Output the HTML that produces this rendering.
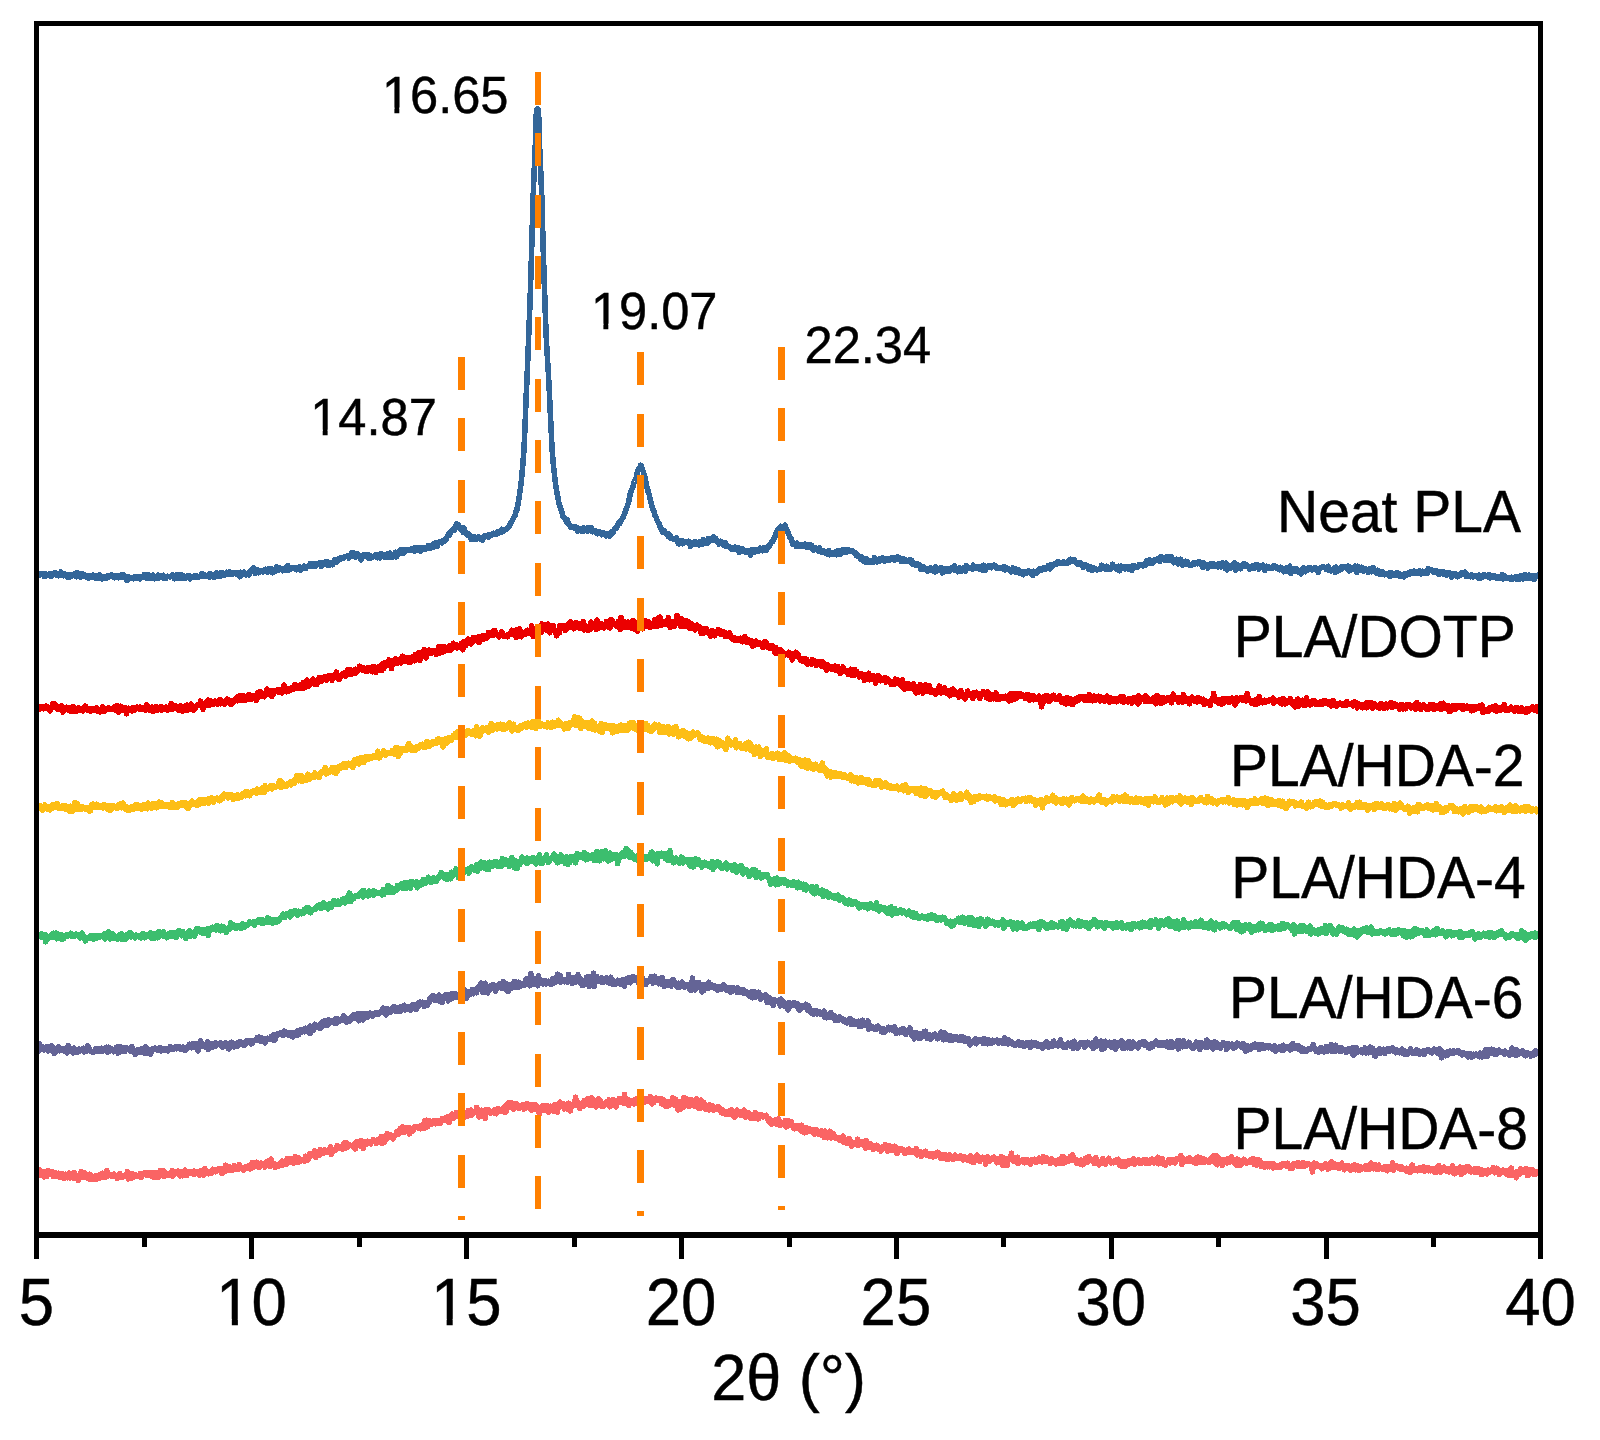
<!DOCTYPE html>
<html><head><meta charset="utf-8"><title>XRD patterns</title>
<style>
html,body{margin:0;padding:0;background:#fff;}
body{width:1600px;height:1440px;overflow:hidden;}
svg{display:block;}
svg text{font-family:"Liberation Sans",Arial,Helvetica,sans-serif;fill:#000;stroke:#000;stroke-width:0.45px;}
</style></head><body>
<svg width="1600" height="1440" viewBox="0 0 1600 1440">
<rect x="0" y="0" width="1600" height="1440" fill="#fff"/>
<g id="curves" shape-rendering="crispEdges">
<path d="M38.5,574.8 L39.4,575.2 L40.2,574.5 L41.1,573.7 L41.9,574.3 L42.8,573.6 L43.7,575.0 L44.5,576.6 L45.4,574.2 L46.2,574.1 L47.1,575.6 L48.0,575.5 L48.8,575.3 L49.7,574.1 L50.5,575.4 L51.4,576.5 L52.3,573.8 L53.1,575.0 L54.0,573.2 L54.8,573.9 L55.7,573.2 L56.6,575.2 L57.4,573.8 L58.3,575.7 L59.1,575.5 L60.0,575.1 L60.9,572.0 L61.7,574.7 L62.6,575.4 L63.4,575.7 L64.3,573.6 L65.2,575.1 L66.0,574.5 L66.9,574.8 L67.7,577.2 L68.6,574.8 L69.5,575.7 L70.3,576.9 L71.2,574.8 L72.0,575.3 L72.9,575.5 L73.8,575.3 L74.6,573.5 L75.5,575.1 L76.3,576.7 L77.2,572.8 L78.1,575.9 L78.9,574.9 L79.8,574.0 L80.6,577.5 L81.5,576.0 L82.4,573.5 L83.2,575.3 L84.1,576.1 L84.9,575.3 L85.8,576.6 L86.7,575.8 L87.5,576.9 L88.4,578.0 L89.2,575.5 L90.1,576.7 L91.0,576.0 L91.8,576.8 L92.7,575.2 L93.5,576.1 L94.4,576.6 L95.3,578.1 L96.1,578.5 L97.0,575.4 L97.8,576.1 L98.7,578.0 L99.6,574.7 L100.4,576.6 L101.3,577.1 L102.1,578.8 L103.0,578.0 L103.9,576.6 L104.7,576.4 L105.6,576.5 L106.4,578.6 L107.3,576.0 L108.2,576.1 L109.0,576.8 L109.9,576.1 L110.7,575.9 L111.6,574.7 L112.5,576.1 L113.3,575.6 L114.2,577.7 L115.0,577.0 L115.9,576.2 L116.8,577.1 L117.6,575.8 L118.5,577.7 L119.3,576.4 L120.2,577.3 L121.1,575.0 L121.9,577.3 L122.8,574.9 L123.6,574.6 L124.5,577.0 L125.4,576.3 L126.2,577.8 L127.1,580.6 L127.9,576.7 L128.8,577.0 L129.7,578.1 L130.5,578.6 L131.4,577.7 L132.2,577.7 L133.1,578.8 L134.0,578.6 L134.8,576.6 L135.7,577.8 L136.5,577.9 L137.4,576.4 L138.3,578.1 L139.1,576.6 L140.0,578.9 L140.8,577.8 L141.7,577.6 L142.6,576.7 L143.4,577.2 L144.3,574.7 L145.1,575.8 L146.0,577.7 L146.9,574.5 L147.7,578.4 L148.6,575.1 L149.4,578.4 L150.3,576.3 L151.2,578.4 L152.0,577.5 L152.9,575.2 L153.7,578.7 L154.6,578.8 L155.5,576.8 L156.3,576.4 L157.2,576.4 L158.0,575.3 L158.9,578.0 L159.8,575.9 L160.6,576.6 L161.5,575.7 L162.3,576.1 L163.2,575.4 L164.1,578.7 L164.9,577.0 L165.8,578.5 L166.6,577.2 L167.5,576.3 L168.4,576.7 L169.2,576.3 L170.1,577.0 L170.9,576.4 L171.8,576.4 L172.7,574.9 L173.5,575.6 L174.4,578.7 L175.2,575.6 L176.1,575.1 L177.0,576.9 L177.8,578.4 L178.7,574.8 L179.5,576.5 L180.4,576.1 L181.3,574.8 L182.1,578.2 L183.0,577.3 L183.8,577.5 L184.7,576.4 L185.6,578.0 L186.4,576.7 L187.3,577.1 L188.1,575.8 L189.0,575.6 L189.9,578.9 L190.7,576.4 L191.6,577.3 L192.4,576.8 L193.3,576.2 L194.2,576.0 L195.0,577.3 L195.9,576.0 L196.7,576.0 L197.6,576.1 L198.5,577.4 L199.3,576.6 L200.2,576.1 L201.0,574.8 L201.9,573.6 L202.8,576.6 L203.6,576.6 L204.5,575.1 L205.3,576.0 L206.2,576.3 L207.1,576.4 L207.9,576.4 L208.8,574.6 L209.6,577.1 L210.5,573.5 L211.4,576.2 L212.2,575.7 L213.1,576.2 L213.9,577.5 L214.8,577.0 L215.7,573.6 L216.5,572.9 L217.4,576.2 L218.2,573.8 L219.1,575.1 L220.0,576.3 L220.8,573.0 L221.7,572.4 L222.5,575.4 L223.4,575.1 L224.3,574.6 L225.1,574.8 L226.0,573.4 L226.8,572.4 L227.7,573.9 L228.6,572.7 L229.4,571.6 L230.3,574.4 L231.1,573.6 L232.0,574.2 L232.9,572.4 L233.7,572.9 L234.6,572.6 L235.4,572.8 L236.3,574.3 L237.2,573.1 L238.0,574.6 L238.9,574.6 L239.7,576.8 L240.6,572.3 L241.5,575.3 L242.3,574.0 L243.2,574.1 L244.0,572.2 L244.9,573.4 L245.8,574.9 L246.6,573.7 L247.5,573.7 L248.3,573.1 L249.2,574.8 L250.1,573.0 L250.9,570.0 L251.8,571.7 L252.6,569.9 L253.5,568.0 L254.4,571.3 L255.2,573.5 L256.1,571.7 L256.9,570.0 L257.8,570.2 L258.7,572.8 L259.5,571.4 L260.4,571.2 L261.2,571.0 L262.1,571.0 L263.0,571.9 L263.8,571.5 L264.7,571.0 L265.5,569.3 L266.4,571.3 L267.3,569.7 L268.1,572.1 L269.0,568.9 L269.8,570.4 L270.7,570.6 L271.6,568.8 L272.4,572.8 L273.3,572.4 L274.1,569.8 L275.0,571.4 L275.9,570.8 L276.7,566.8 L277.6,570.5 L278.4,569.9 L279.3,570.0 L280.2,568.2 L281.0,569.1 L281.9,569.0 L282.7,570.7 L283.6,569.3 L284.5,568.7 L285.3,570.6 L286.2,567.6 L287.0,567.7 L287.9,565.7 L288.8,570.2 L289.6,569.4 L290.5,569.3 L291.3,568.9 L292.2,568.1 L293.1,568.2 L293.9,567.5 L294.8,567.5 L295.6,567.8 L296.5,569.7 L297.4,568.4 L298.2,567.7 L299.1,567.0 L299.9,567.0 L300.8,570.0 L301.7,568.6 L302.5,567.9 L303.4,567.2 L304.2,566.0 L305.1,567.2 L306.0,568.2 L306.8,566.3 L307.7,566.2 L308.5,566.0 L309.4,566.2 L310.3,563.7 L311.1,565.3 L312.0,564.3 L312.8,566.4 L313.7,563.9 L314.6,565.5 L315.4,566.5 L316.3,563.9 L317.1,563.4 L318.0,564.3 L318.9,564.0 L319.7,562.6 L320.6,564.5 L321.4,566.6 L322.3,563.5 L323.2,563.6 L324.0,562.4 L324.9,564.2 L325.7,562.0 L326.6,562.1 L327.5,565.2 L328.3,562.2 L329.2,564.6 L330.0,565.0 L330.9,563.1 L331.8,563.2 L332.6,564.6 L333.5,561.6 L334.3,560.7 L335.2,559.4 L336.1,560.6 L336.9,561.9 L337.8,561.0 L338.6,558.4 L339.5,558.2 L340.4,558.3 L341.2,559.0 L342.1,558.2 L342.9,558.4 L343.8,558.1 L344.7,557.0 L345.5,556.8 L346.4,556.7 L347.2,555.9 L348.1,556.3 L349.0,558.0 L349.8,556.2 L350.7,555.3 L351.5,552.8 L352.4,555.9 L353.3,552.8 L354.1,553.7 L355.0,557.0 L355.8,557.0 L356.7,555.9 L357.6,553.9 L358.4,555.9 L359.3,555.5 L360.1,557.5 L361.0,559.9 L361.9,556.9 L362.7,555.3 L363.6,554.6 L364.4,556.3 L365.3,556.1 L366.2,554.6 L367.0,556.5 L367.9,554.7 L368.7,558.2 L369.6,558.2 L370.5,558.3 L371.3,556.0 L372.2,557.6 L373.0,556.6 L373.9,556.2 L374.8,556.3 L375.6,554.8 L376.5,554.5 L377.3,557.8 L378.2,556.2 L379.1,556.7 L379.9,557.8 L380.8,553.6 L381.6,554.9 L382.5,556.2 L383.4,556.4 L384.2,555.3 L385.1,557.3 L385.9,556.1 L386.8,554.1 L387.7,554.5 L388.5,557.0 L389.4,556.4 L390.2,553.0 L391.1,557.4 L392.0,556.1 L392.8,556.8 L393.7,554.1 L394.5,553.8 L395.4,552.3 L396.3,557.0 L397.1,552.9 L398.0,555.0 L398.8,551.6 L399.7,552.5 L400.6,549.8 L401.4,551.5 L402.3,553.2 L403.1,550.0 L404.0,553.1 L404.9,551.8 L405.7,549.7 L406.6,550.3 L407.4,550.2 L408.3,550.6 L409.2,549.8 L410.0,549.3 L410.9,550.0 L411.7,548.9 L412.6,548.4 L413.5,550.1 L414.3,551.3 L415.2,547.7 L416.0,549.7 L416.9,548.6 L417.8,547.9 L418.6,550.4 L419.5,548.3 L420.3,551.1 L421.2,547.8 L422.1,549.3 L422.9,548.4 L423.8,547.5 L424.6,549.2 L425.5,547.9 L426.4,548.7 L427.2,547.6 L428.1,545.9 L428.9,547.1 L429.8,547.1 L430.7,548.2 L431.5,545.5 L432.4,546.5 L433.2,544.1 L434.1,546.9 L435.0,544.4 L435.8,543.1 L436.7,544.9 L437.5,546.0 L438.4,542.3 L439.3,542.4 L440.1,542.4 L441.0,541.5 L441.8,542.8 L442.7,540.9 L443.6,540.5 L444.4,541.4 L445.3,539.3 L446.1,539.5 L447.0,537.1 L447.9,535.5 L448.7,533.5 L449.6,535.3 L450.4,532.1 L451.3,531.7 L452.2,530.4 L453.0,529.6 L453.9,528.5 L454.7,529.9 L455.6,525.6 L456.5,524.1 L457.3,524.7 L458.2,524.8 L459.0,528.0 L459.9,528.7 L460.8,527.3 L461.6,527.6 L462.5,529.5 L463.3,532.2 L464.2,528.1 L465.1,532.7 L465.9,531.8 L466.8,534.9 L467.6,533.5 L468.5,535.2 L469.4,534.7 L470.2,536.1 L471.1,539.5 L471.9,539.5 L472.8,538.5 L473.7,538.2 L474.5,536.7 L475.4,538.9 L476.2,539.3 L477.1,539.0 L478.0,538.6 L478.8,536.8 L479.7,538.1 L480.5,537.8 L481.4,539.5 L482.3,540.1 L483.1,537.2 L484.0,536.2 L484.8,537.1 L485.7,536.2 L486.6,535.9 L487.4,536.7 L488.3,535.0 L489.1,537.0 L490.0,535.7 L490.9,535.8 L491.7,534.9 L492.6,533.9 L493.4,533.3 L494.3,534.1 L495.2,533.4 L496.0,534.3 L496.9,533.8 L497.7,531.7 L498.6,533.4 L499.5,531.2 L500.3,531.9 L501.2,532.0 L502.0,529.3 L502.9,531.7 L503.8,531.3 L504.6,530.4 L505.5,529.6 L506.3,529.0 L507.2,527.8 L508.1,527.8 L508.9,526.4 L509.8,525.5 L510.6,522.8 L511.5,522.2 L512.4,520.5 L513.2,518.8 L514.1,516.9 L514.9,515.8 L515.8,512.1 L516.7,510.5 L517.5,506.6 L518.4,502.0 L519.0,498.3 L519.1,497.5 L519.2,496.8 L519.4,495.9 L519.5,495.1 L519.6,494.2 L519.7,493.4 L519.8,492.5 L520.0,491.6 L520.1,490.7 L520.2,489.8 L520.3,489.0 L520.4,488.1 L520.6,487.1 L520.7,486.2 L520.8,485.2 L520.9,484.2 L521.0,483.2 L521.2,482.1 L521.3,481.1 L521.4,480.0 L521.5,478.9 L521.6,477.7 L521.8,476.6 L521.9,475.3 L522.0,474.1 L522.1,472.8 L522.2,471.4 L522.4,470.1 L522.5,468.7 L522.6,467.3 L522.7,465.8 L522.8,464.3 L523.0,462.8 L523.1,461.3 L523.2,459.7 L523.3,458.1 L523.4,456.4 L523.6,454.7 L523.7,452.8 L523.8,450.8 L523.9,448.7 L524.0,446.5 L524.2,444.2 L524.3,441.8 L524.4,439.3 L524.5,436.8 L524.6,434.2 L524.8,431.5 L524.9,428.8 L525.0,426.0 L525.1,423.2 L525.2,420.3 L525.4,417.5 L525.5,414.5 L525.6,411.6 L525.7,408.7 L525.8,405.7 L526.0,402.8 L526.1,399.8 L526.2,396.9 L526.3,394.0 L526.4,391.1 L526.6,388.3 L526.7,385.5 L526.8,382.7 L526.9,379.9 L527.0,377.1 L527.2,374.3 L527.3,371.4 L527.4,368.5 L527.5,365.7 L527.6,362.8 L527.8,359.9 L527.9,356.9 L528.0,354.0 L528.1,351.0 L528.2,348.0 L528.4,345.0 L528.5,342.0 L528.6,339.0 L528.7,335.9 L528.8,332.8 L529.0,329.7 L529.1,326.6 L529.2,323.5 L529.3,320.3 L529.4,317.1 L529.6,313.8 L529.7,310.5 L529.8,307.2 L529.9,303.8 L530.0,300.3 L530.2,296.7 L530.3,293.0 L530.4,289.3 L530.5,285.5 L530.6,281.6 L530.8,277.8 L530.9,274.0 L531.0,270.3 L531.1,266.7 L531.2,263.0 L531.4,259.3 L531.5,255.5 L531.6,251.6 L531.7,247.6 L531.8,243.4 L532.0,239.1 L532.1,234.8 L532.2,230.4 L532.3,226.1 L532.4,221.7 L532.6,217.3 L532.7,212.8 L532.8,208.4 L532.9,204.2 L533.0,200.3 L533.2,196.7 L533.3,193.3 L533.4,190.0 L533.5,186.8 L533.6,183.8 L533.8,180.8 L533.9,177.9 L534.0,175.0 L534.1,172.2 L534.2,169.6 L534.4,167.1 L534.5,164.7 L534.6,162.3 L534.7,159.9 L534.8,157.3 L535.0,154.6 L535.1,151.8 L535.2,148.7 L535.3,145.1 L535.4,141.2 L535.6,137.2 L535.7,133.3 L535.8,129.5 L535.9,125.9 L536.0,121.9 L536.2,118.0 L536.3,114.7 L536.4,112.5 L536.5,111.6 L536.6,110.9 L536.8,110.4 L536.9,109.9 L537.0,109.5 L537.1,109.2 L537.2,109.0 L537.4,108.9 L537.5,108.9 L537.6,108.9 L537.7,109.1 L537.8,109.4 L538.0,109.7 L538.1,110.2 L538.2,110.7 L538.3,111.3 L538.4,112.0 L538.6,113.4 L538.7,116.3 L538.8,119.9 L538.9,123.9 L539.0,127.7 L539.2,131.4 L539.3,135.2 L539.4,139.3 L539.5,143.2 L539.6,146.9 L539.8,150.3 L539.9,153.2 L540.0,156.0 L540.1,158.6 L540.2,161.1 L540.4,163.5 L540.5,165.9 L540.6,168.4 L540.7,170.9 L540.8,173.6 L541.0,176.4 L541.1,179.3 L541.2,182.3 L541.3,185.3 L541.4,188.4 L541.6,191.6 L541.7,195.0 L541.8,198.5 L541.9,202.2 L542.0,206.3 L542.2,210.6 L542.3,215.0 L542.4,219.5 L542.5,223.9 L542.6,228.2 L542.8,232.6 L542.9,237.0 L543.0,241.3 L543.1,245.6 L543.2,249.7 L543.4,253.6 L543.5,257.4 L543.6,261.2 L543.7,264.9 L543.8,268.5 L544.0,272.2 L544.1,276.0 L544.2,279.7 L544.3,283.6 L544.4,287.4 L544.6,291.2 L544.7,294.9 L544.8,298.5 L544.9,302.1 L545.0,305.6 L545.2,309.1 L545.3,312.5 L545.4,316.0 L545.5,319.3 L545.6,322.5 L545.8,325.5 L545.9,328.4 L546.0,331.1 L546.1,333.7 L546.2,336.3 L546.4,338.7 L546.5,341.1 L546.6,343.4 L546.7,345.7 L546.8,347.9 L547.0,350.0 L547.1,352.2 L547.2,354.3 L547.3,356.3 L547.4,358.3 L547.6,360.4 L547.7,362.4 L547.8,364.3 L547.9,366.3 L548.0,368.3 L548.2,370.3 L548.3,372.3 L548.4,374.4 L548.5,376.4 L548.6,378.5 L548.8,380.6 L548.9,382.8 L549.0,385.0 L549.1,387.3 L549.2,389.6 L549.4,392.0 L549.5,394.5 L549.6,397.0 L549.7,399.5 L549.8,402.1 L550.0,404.7 L550.1,407.3 L550.2,410.0 L550.3,412.6 L550.4,415.3 L550.6,417.9 L550.7,420.5 L550.8,423.1 L550.9,425.7 L551.0,428.3 L551.2,430.8 L551.3,433.2 L551.4,435.7 L551.5,438.0 L551.6,440.3 L551.8,442.6 L551.9,444.7 L552.0,446.8 L552.1,448.8 L552.2,450.7 L552.4,452.5 L552.5,454.2 L552.6,455.8 L552.7,457.3 L552.8,458.6 L553.0,460.0 L553.1,461.3 L553.2,462.6 L553.3,463.9 L553.4,465.2 L553.6,466.4 L553.7,467.6 L553.8,468.8 L553.9,469.9 L554.0,471.0 L554.2,472.1 L554.3,473.2 L554.4,474.3 L554.5,475.3 L554.6,476.3 L554.8,477.4 L554.9,478.4 L555.0,479.3 L555.1,480.3 L555.2,481.3 L555.4,482.2 L555.5,483.0 L555.6,483.9 L555.7,484.7 L555.8,485.5 L556.0,486.3 L556.1,487.1 L556.2,487.8 L556.3,488.6 L556.4,489.4 L556.6,490.2 L556.7,491.0 L556.8,491.7 L556.9,492.5 L557.0,493.2 L557.2,493.8 L557.3,494.4 L557.4,495.0 L557.5,495.6 L557.6,496.1 L557.8,496.7 L557.9,497.2 L558.0,497.9 L558.8,502.4 L559.7,505.8 L560.5,508.5 L561.4,510.1 L562.2,513.6 L563.1,516.5 L564.0,517.8 L564.8,518.4 L565.7,520.2 L566.5,522.1 L567.4,519.8 L568.3,523.3 L569.1,524.9 L570.0,525.8 L570.8,527.7 L571.7,527.6 L572.6,527.0 L573.4,527.4 L574.3,528.4 L575.1,526.8 L576.0,527.8 L576.9,529.4 L577.7,531.1 L578.6,528.2 L579.4,528.6 L580.3,529.1 L581.2,531.0 L582.0,529.0 L582.9,531.4 L583.7,527.8 L584.6,529.1 L585.5,529.1 L586.3,530.8 L587.2,531.2 L588.0,527.4 L588.9,528.4 L589.8,530.4 L590.6,529.1 L591.5,528.1 L592.3,531.8 L593.2,531.3 L594.1,531.6 L594.9,530.6 L595.8,532.9 L596.6,531.6 L597.5,533.7 L598.4,531.4 L599.2,531.8 L600.1,533.5 L600.9,532.6 L601.8,534.8 L602.7,534.5 L603.5,533.0 L604.4,534.7 L605.2,534.1 L606.1,536.0 L607.0,533.6 L607.8,533.6 L608.7,535.2 L609.5,535.9 L610.4,535.1 L611.3,532.2 L612.1,531.8 L613.0,532.8 L613.8,530.3 L614.7,528.6 L615.6,528.8 L616.4,528.1 L617.3,525.8 L618.1,523.8 L619.0,522.7 L619.9,523.2 L620.7,520.6 L621.6,519.6 L622.4,518.3 L623.3,516.9 L624.2,514.4 L625.0,513.0 L625.9,509.9 L626.7,507.9 L627.6,505.1 L628.5,502.9 L629.3,498.1 L630.2,494.2 L631.0,491.6 L631.9,489.2 L632.8,487.5 L633.6,483.6 L634.5,481.5 L635.3,479.1 L636.2,477.6 L637.1,473.6 L637.9,470.3 L638.8,468.9 L639.6,468.7 L640.5,465.2 L641.4,466.2 L642.2,469.5 L643.1,471.1 L643.9,473.9 L644.8,476.6 L645.7,481.6 L646.5,485.3 L647.4,488.4 L648.2,492.0 L649.1,494.0 L650.0,498.8 L650.8,501.5 L651.7,504.9 L652.5,508.0 L653.4,510.2 L654.3,511.9 L655.1,515.6 L656.0,517.1 L656.8,519.6 L657.7,521.5 L658.6,523.6 L659.4,523.7 L660.3,528.0 L661.1,528.5 L662.0,530.6 L662.9,532.6 L663.7,531.9 L664.6,531.2 L665.4,533.0 L666.3,533.4 L667.2,534.9 L668.0,536.2 L668.9,534.1 L669.7,537.6 L670.6,535.8 L671.5,538.6 L672.3,538.5 L673.2,538.6 L674.0,539.3 L674.9,539.0 L675.8,539.2 L676.6,538.1 L677.5,540.6 L678.3,543.5 L679.2,543.9 L680.1,543.1 L680.9,542.4 L681.8,540.6 L682.6,543.7 L683.5,541.7 L684.4,541.9 L685.2,541.7 L686.1,542.4 L686.9,541.9 L687.8,542.6 L688.7,541.3 L689.5,542.5 L690.4,546.5 L691.2,543.2 L692.1,543.0 L693.0,544.1 L693.8,544.4 L694.7,541.4 L695.5,542.8 L696.4,544.4 L697.3,543.3 L698.1,543.0 L699.0,544.9 L699.8,541.7 L700.7,542.7 L701.6,541.8 L702.4,544.5 L703.3,539.6 L704.1,541.3 L705.0,541.3 L705.9,542.8 L706.7,542.4 L707.6,543.2 L708.4,538.7 L709.3,541.6 L710.2,539.8 L711.0,538.9 L711.9,540.5 L712.7,538.1 L713.6,536.6 L714.5,539.3 L715.3,538.1 L716.2,539.7 L717.0,541.4 L717.9,541.9 L718.8,544.0 L719.6,542.4 L720.5,541.3 L721.3,542.7 L722.2,542.8 L723.1,542.8 L723.9,545.3 L724.8,544.2 L725.6,542.8 L726.5,546.6 L727.4,545.9 L728.2,546.8 L729.1,546.9 L729.9,547.9 L730.8,547.5 L731.7,549.4 L732.5,548.8 L733.4,549.0 L734.2,549.4 L735.1,547.2 L736.0,549.1 L736.8,549.2 L737.7,550.1 L738.5,548.1 L739.4,552.6 L740.3,550.6 L741.1,548.9 L742.0,548.4 L742.8,550.7 L743.7,551.2 L744.6,550.5 L745.4,551.8 L746.3,550.8 L747.1,552.5 L748.0,550.6 L748.9,551.6 L749.7,553.0 L750.6,555.3 L751.4,549.8 L752.3,550.6 L753.2,550.0 L754.0,552.5 L754.9,549.6 L755.7,550.7 L756.6,551.5 L757.5,550.1 L758.3,550.1 L759.2,550.8 L760.0,548.2 L760.9,549.0 L761.8,550.3 L762.6,550.8 L763.5,550.0 L764.3,547.5 L765.2,549.1 L766.1,550.2 L766.9,549.2 L767.8,547.7 L768.6,546.0 L769.5,546.3 L770.4,544.1 L771.2,542.5 L772.1,541.4 L772.9,541.4 L773.8,538.7 L774.7,537.5 L775.5,534.4 L776.4,533.4 L777.2,530.3 L778.1,529.2 L779.0,530.6 L779.8,528.3 L780.7,526.4 L781.5,527.1 L782.4,527.8 L783.3,529.2 L784.1,526.3 L785.0,525.1 L785.8,527.8 L786.7,529.4 L787.6,531.0 L788.4,533.8 L789.3,535.4 L790.1,537.7 L791.0,538.2 L791.9,541.5 L792.7,544.1 L793.6,543.5 L794.4,543.5 L795.3,543.8 L796.2,546.4 L797.0,543.1 L797.9,544.5 L798.7,545.6 L799.6,546.3 L800.5,544.7 L801.3,545.9 L802.2,545.2 L803.0,545.9 L803.9,545.6 L804.8,544.2 L805.6,546.0 L806.5,547.5 L807.3,544.8 L808.2,546.0 L809.1,547.5 L809.9,544.9 L810.8,546.8 L811.6,545.2 L812.5,548.3 L813.4,550.1 L814.2,549.9 L815.1,547.4 L815.9,548.9 L816.8,548.5 L817.7,548.9 L818.5,551.1 L819.4,547.9 L820.2,551.2 L821.1,550.2 L822.0,552.4 L822.8,551.3 L823.7,550.7 L824.5,552.3 L825.4,553.2 L826.3,552.8 L827.1,553.7 L828.0,552.6 L828.8,550.4 L829.7,554.8 L830.6,554.4 L831.4,553.5 L832.3,553.2 L833.1,554.6 L834.0,552.3 L834.9,552.0 L835.7,552.7 L836.6,554.7 L837.4,550.9 L838.3,554.5 L839.2,551.7 L840.0,550.7 L840.9,553.9 L841.7,551.5 L842.6,549.4 L843.5,550.5 L844.3,552.2 L845.2,552.4 L846.0,549.9 L846.9,551.1 L847.8,551.7 L848.6,549.8 L849.5,551.4 L850.3,551.0 L851.2,550.5 L852.1,550.9 L852.9,552.1 L853.8,552.5 L854.6,552.4 L855.5,553.1 L856.4,555.4 L857.2,555.0 L858.1,556.3 L858.9,557.1 L859.8,557.0 L860.7,559.3 L861.5,556.8 L862.4,559.2 L863.2,558.7 L864.1,561.7 L865.0,562.1 L865.8,558.4 L866.7,559.7 L867.5,562.1 L868.4,562.4 L869.3,562.3 L870.1,561.1 L871.0,561.8 L871.8,562.0 L872.7,560.9 L873.6,562.3 L874.4,557.5 L875.3,561.6 L876.1,559.1 L877.0,561.9 L877.9,560.1 L878.7,559.2 L879.6,560.9 L880.4,559.1 L881.3,559.0 L882.2,557.9 L883.0,559.9 L883.9,560.5 L884.7,561.0 L885.6,559.1 L886.5,560.6 L887.3,559.0 L888.2,558.7 L889.0,559.6 L889.9,560.2 L890.8,558.2 L891.6,558.4 L892.5,558.5 L893.3,558.9 L894.2,557.4 L895.1,560.1 L895.9,557.9 L896.8,559.1 L897.6,557.1 L898.5,558.8 L899.4,558.9 L900.2,558.0 L901.1,561.4 L901.9,559.5 L902.8,561.5 L903.7,560.8 L904.5,559.2 L905.4,559.9 L906.2,561.2 L907.1,561.1 L908.0,561.4 L908.8,561.4 L909.7,560.1 L910.5,562.3 L911.4,560.3 L912.3,563.9 L913.1,562.9 L914.0,563.4 L914.8,564.4 L915.7,565.5 L916.6,563.9 L917.4,564.0 L918.3,565.2 L919.1,564.5 L920.0,566.1 L920.9,569.6 L921.7,566.6 L922.6,568.9 L923.4,566.6 L924.3,568.8 L925.2,568.2 L926.0,568.6 L926.9,569.5 L927.7,571.1 L928.6,569.2 L929.5,569.2 L930.3,567.8 L931.2,570.0 L932.0,569.0 L932.9,570.5 L933.8,569.4 L934.6,571.9 L935.5,566.9 L936.3,569.2 L937.2,570.7 L938.1,569.0 L938.9,568.4 L939.8,569.1 L940.6,567.5 L941.5,569.6 L942.4,572.9 L943.2,571.3 L944.1,568.3 L944.9,568.7 L945.8,569.4 L946.7,571.4 L947.5,568.9 L948.4,569.1 L949.2,571.2 L950.1,571.0 L951.0,569.2 L951.8,568.0 L952.7,567.2 L953.5,568.3 L954.4,566.0 L955.3,570.2 L956.1,568.2 L957.0,569.8 L957.8,571.8 L958.7,570.9 L959.6,567.8 L960.4,570.7 L961.3,571.1 L962.1,568.5 L963.0,568.2 L963.9,569.2 L964.7,567.1 L965.6,571.0 L966.4,565.6 L967.3,567.1 L968.2,568.1 L969.0,568.0 L969.9,568.4 L970.7,568.4 L971.6,567.7 L972.5,569.5 L973.3,565.1 L974.2,568.0 L975.0,567.0 L975.9,568.2 L976.8,568.3 L977.6,566.7 L978.5,567.0 L979.3,568.8 L980.2,568.1 L981.1,566.7 L981.9,570.1 L982.8,570.3 L983.6,565.3 L984.5,567.5 L985.4,570.3 L986.2,568.0 L987.1,567.1 L987.9,566.4 L988.8,565.9 L989.7,566.3 L990.5,565.8 L991.4,567.7 L992.2,566.1 L993.1,566.1 L994.0,565.2 L994.8,566.9 L995.7,565.9 L996.5,566.9 L997.4,568.6 L998.3,567.7 L999.1,567.9 L1000.0,567.8 L1000.8,567.5 L1001.7,567.4 L1002.6,567.3 L1003.4,568.8 L1004.3,566.8 L1005.1,570.1 L1006.0,568.8 L1006.9,568.2 L1007.7,568.9 L1008.6,569.0 L1009.4,570.4 L1010.3,569.5 L1011.2,572.1 L1012.0,569.8 L1012.9,568.0 L1013.7,570.0 L1014.6,568.5 L1015.5,571.0 L1016.3,572.5 L1017.2,572.0 L1018.0,569.5 L1018.9,570.3 L1019.8,573.6 L1020.6,571.7 L1021.5,571.4 L1022.3,572.8 L1023.2,574.7 L1024.1,573.3 L1024.9,571.9 L1025.8,572.4 L1026.6,572.9 L1027.5,571.5 L1028.4,571.0 L1029.2,572.7 L1030.1,571.4 L1030.9,572.7 L1031.8,572.8 L1032.7,575.6 L1033.5,571.3 L1034.4,572.0 L1035.2,571.7 L1036.1,572.2 L1037.0,572.7 L1037.8,570.5 L1038.7,569.8 L1039.5,568.6 L1040.4,569.2 L1041.3,570.6 L1042.1,569.7 L1043.0,568.1 L1043.8,568.6 L1044.7,568.8 L1045.6,569.1 L1046.4,567.5 L1047.3,567.7 L1048.1,565.6 L1049.0,566.2 L1049.9,569.0 L1050.7,564.4 L1051.6,566.0 L1052.4,566.1 L1053.3,565.0 L1054.2,564.2 L1055.0,564.6 L1055.9,564.3 L1056.7,564.0 L1057.6,561.5 L1058.5,563.5 L1059.3,562.4 L1060.2,562.5 L1061.0,563.3 L1061.9,563.6 L1062.8,563.7 L1063.6,561.6 L1064.5,563.3 L1065.3,563.5 L1066.2,563.3 L1067.1,563.5 L1067.9,561.2 L1068.8,561.0 L1069.6,562.3 L1070.5,559.3 L1071.4,561.5 L1072.2,560.6 L1073.1,561.0 L1073.9,559.4 L1074.8,560.7 L1075.7,562.1 L1076.5,563.5 L1077.4,564.0 L1078.2,562.9 L1079.1,563.1 L1080.0,562.6 L1080.8,564.6 L1081.7,564.2 L1082.5,565.7 L1083.4,567.5 L1084.3,565.9 L1085.1,564.6 L1086.0,565.8 L1086.8,565.5 L1087.7,566.2 L1088.6,569.4 L1089.4,568.4 L1090.3,566.6 L1091.1,569.4 L1092.0,570.3 L1092.9,568.4 L1093.7,567.9 L1094.6,568.3 L1095.4,569.0 L1096.3,569.3 L1097.2,569.9 L1098.0,569.7 L1098.9,569.5 L1099.7,569.6 L1100.6,568.5 L1101.5,565.3 L1102.3,567.3 L1103.2,568.0 L1104.0,567.0 L1104.9,568.9 L1105.8,567.1 L1106.6,566.3 L1107.5,569.6 L1108.3,568.5 L1109.2,567.9 L1110.1,568.8 L1110.9,569.1 L1111.8,568.1 L1112.6,564.2 L1113.5,566.8 L1114.4,567.1 L1115.2,566.5 L1116.1,568.2 L1116.9,569.6 L1117.8,567.2 L1118.7,566.3 L1119.5,570.7 L1120.4,567.3 L1121.2,566.1 L1122.1,568.2 L1123.0,568.4 L1123.8,566.9 L1124.7,568.9 L1125.5,567.2 L1126.4,566.6 L1127.3,568.0 L1128.1,568.7 L1129.0,566.6 L1129.8,567.8 L1130.7,567.0 L1131.6,570.6 L1132.4,565.8 L1133.3,568.2 L1134.1,566.2 L1135.0,565.9 L1135.9,566.8 L1136.7,566.8 L1137.6,567.1 L1138.4,565.8 L1139.3,564.5 L1140.2,564.4 L1141.0,565.4 L1141.9,565.2 L1142.7,565.8 L1143.6,564.3 L1144.5,564.8 L1145.3,565.0 L1146.2,563.0 L1147.0,560.5 L1147.9,560.6 L1148.8,560.0 L1149.6,563.6 L1150.5,560.1 L1151.3,562.5 L1152.2,561.5 L1153.1,562.7 L1153.9,561.5 L1154.8,559.9 L1155.6,559.6 L1156.5,559.8 L1157.4,559.8 L1158.2,558.7 L1159.1,559.3 L1159.9,561.4 L1160.8,556.7 L1161.7,559.3 L1162.5,557.6 L1163.4,559.1 L1164.2,560.0 L1165.1,558.6 L1166.0,559.9 L1166.8,556.5 L1167.7,560.5 L1168.5,558.3 L1169.4,560.2 L1170.3,559.9 L1171.1,556.4 L1172.0,559.2 L1172.8,560.7 L1173.7,562.8 L1174.6,561.2 L1175.4,561.4 L1176.3,559.3 L1177.1,563.2 L1178.0,563.7 L1178.9,561.4 L1179.7,561.1 L1180.6,559.2 L1181.4,562.6 L1182.3,565.1 L1183.2,562.6 L1184.0,563.5 L1184.9,562.8 L1185.7,561.2 L1186.6,564.6 L1187.5,561.7 L1188.3,563.4 L1189.2,564.4 L1190.0,565.4 L1190.9,565.0 L1191.8,565.1 L1192.6,563.5 L1193.5,562.7 L1194.3,564.5 L1195.2,563.4 L1196.1,562.6 L1196.9,562.6 L1197.8,563.7 L1198.6,561.9 L1199.5,562.6 L1200.4,562.3 L1201.2,564.9 L1202.1,565.3 L1202.9,567.6 L1203.8,562.8 L1204.7,564.1 L1205.5,566.5 L1206.4,565.1 L1207.2,565.1 L1208.1,568.1 L1209.0,565.3 L1209.8,564.2 L1210.7,564.0 L1211.5,566.3 L1212.4,566.3 L1213.3,563.9 L1214.1,564.5 L1215.0,566.6 L1215.8,566.7 L1216.7,565.0 L1217.6,566.9 L1218.4,566.8 L1219.3,563.5 L1220.1,565.6 L1221.0,566.7 L1221.9,565.3 L1222.7,563.0 L1223.6,565.7 L1224.4,567.2 L1225.3,568.4 L1226.2,563.1 L1227.0,570.1 L1227.9,564.8 L1228.7,567.9 L1229.6,568.4 L1230.5,568.0 L1231.3,566.8 L1232.2,564.9 L1233.0,567.4 L1233.9,565.4 L1234.8,562.7 L1235.6,570.3 L1236.5,567.2 L1237.3,568.8 L1238.2,564.9 L1239.1,568.4 L1239.9,568.7 L1240.8,568.7 L1241.6,566.5 L1242.5,564.8 L1243.4,566.3 L1244.2,563.3 L1245.1,564.0 L1245.9,566.5 L1246.8,564.9 L1247.7,566.0 L1248.5,566.1 L1249.4,569.0 L1250.2,568.2 L1251.1,566.4 L1252.0,568.3 L1252.8,565.5 L1253.7,566.3 L1254.5,568.1 L1255.4,565.1 L1256.3,566.4 L1257.1,564.9 L1258.0,566.9 L1258.8,569.0 L1259.7,565.7 L1260.6,567.1 L1261.4,565.6 L1262.3,565.3 L1263.1,565.2 L1264.0,569.0 L1264.9,570.3 L1265.7,567.8 L1266.6,566.3 L1267.4,568.3 L1268.3,566.9 L1269.2,568.6 L1270.0,567.9 L1270.9,568.0 L1271.7,568.5 L1272.6,567.0 L1273.5,567.3 L1274.3,565.7 L1275.2,567.6 L1276.0,566.5 L1276.9,568.4 L1277.8,567.5 L1278.6,569.1 L1279.5,569.7 L1280.3,567.3 L1281.2,568.1 L1282.1,568.0 L1282.9,570.3 L1283.8,571.6 L1284.6,570.5 L1285.5,568.9 L1286.4,571.4 L1287.2,567.4 L1288.1,571.6 L1288.9,568.8 L1289.8,566.1 L1290.7,573.7 L1291.5,572.4 L1292.4,569.0 L1293.2,570.7 L1294.1,570.3 L1295.0,570.8 L1295.8,568.6 L1296.7,569.7 L1297.5,571.4 L1298.4,571.1 L1299.3,572.5 L1300.1,570.9 L1301.0,574.0 L1301.8,569.6 L1302.7,570.9 L1303.6,567.6 L1304.4,568.4 L1305.3,571.8 L1306.1,568.4 L1307.0,570.2 L1307.9,569.2 L1308.7,567.6 L1309.6,568.5 L1310.4,568.2 L1311.3,568.2 L1312.2,569.9 L1313.0,569.7 L1313.9,568.0 L1314.7,567.5 L1315.6,569.2 L1316.5,568.6 L1317.3,570.2 L1318.2,572.4 L1319.0,569.9 L1319.9,568.6 L1320.8,568.3 L1321.6,567.3 L1322.5,567.1 L1323.3,566.9 L1324.2,567.6 L1325.1,567.5 L1325.9,569.1 L1326.8,567.5 L1327.6,567.8 L1328.5,566.4 L1329.4,570.5 L1330.2,569.0 L1331.1,570.8 L1331.9,569.6 L1332.8,570.6 L1333.7,568.3 L1334.5,569.7 L1335.4,572.5 L1336.2,567.0 L1337.1,570.2 L1338.0,570.8 L1338.8,568.9 L1339.7,569.2 L1340.5,569.8 L1341.4,567.0 L1342.3,568.4 L1343.1,566.6 L1344.0,566.9 L1344.8,567.0 L1345.7,567.8 L1346.6,568.3 L1347.4,568.8 L1348.3,566.1 L1349.1,571.1 L1350.0,569.9 L1350.9,569.3 L1351.7,567.7 L1352.6,568.1 L1353.4,569.1 L1354.3,568.9 L1355.2,566.1 L1356.0,569.5 L1356.9,572.5 L1357.7,566.1 L1358.6,570.0 L1359.5,569.2 L1360.3,568.6 L1361.2,570.6 L1362.0,567.3 L1362.9,569.2 L1363.8,571.1 L1364.6,569.2 L1365.5,569.1 L1366.3,570.0 L1367.2,569.5 L1368.1,572.3 L1368.9,569.3 L1369.8,571.8 L1370.6,569.1 L1371.5,571.7 L1372.4,570.8 L1373.2,567.7 L1374.1,571.1 L1374.9,569.9 L1375.8,570.8 L1376.7,573.5 L1377.5,570.3 L1378.4,570.6 L1379.2,574.0 L1380.1,572.5 L1381.0,574.5 L1381.8,573.1 L1382.7,571.7 L1383.5,572.9 L1384.4,574.8 L1385.3,574.5 L1386.1,573.5 L1387.0,573.7 L1387.8,573.6 L1388.7,573.1 L1389.6,576.5 L1390.4,574.2 L1391.3,572.8 L1392.1,573.8 L1393.0,575.5 L1393.9,575.5 L1394.7,574.6 L1395.6,573.9 L1396.4,574.9 L1397.3,572.6 L1398.2,573.0 L1399.0,575.8 L1399.9,573.9 L1400.7,575.0 L1401.6,576.0 L1402.5,575.2 L1403.3,574.3 L1404.2,577.0 L1405.0,575.1 L1405.9,573.7 L1406.8,575.1 L1407.6,574.7 L1408.5,573.0 L1409.3,574.2 L1410.2,573.8 L1411.1,571.4 L1411.9,573.6 L1412.8,573.3 L1413.6,573.0 L1414.5,571.2 L1415.4,572.8 L1416.2,573.1 L1417.1,573.1 L1417.9,571.4 L1418.8,573.5 L1419.7,571.0 L1420.5,572.1 L1421.4,573.9 L1422.2,571.2 L1423.1,571.3 L1424.0,573.3 L1424.8,571.3 L1425.7,571.3 L1426.5,571.9 L1427.4,573.0 L1428.3,568.4 L1429.1,570.2 L1430.0,569.9 L1430.8,569.8 L1431.7,570.1 L1432.6,570.2 L1433.4,571.9 L1434.3,570.5 L1435.1,572.0 L1436.0,572.6 L1436.9,571.3 L1437.7,572.6 L1438.6,574.6 L1439.4,573.1 L1440.3,572.0 L1441.2,572.8 L1442.0,571.8 L1442.9,573.4 L1443.7,574.3 L1444.6,572.3 L1445.5,573.3 L1446.3,575.1 L1447.2,573.2 L1448.0,574.3 L1448.9,572.8 L1449.8,573.2 L1450.6,573.6 L1451.5,577.1 L1452.3,573.8 L1453.2,573.7 L1454.1,573.6 L1454.9,574.1 L1455.8,575.1 L1456.6,574.4 L1457.5,576.8 L1458.4,574.4 L1459.2,576.0 L1460.1,574.5 L1460.9,575.0 L1461.8,572.5 L1462.7,574.3 L1463.5,574.5 L1464.4,574.4 L1465.2,572.2 L1466.1,576.2 L1467.0,574.8 L1467.8,575.0 L1468.7,575.4 L1469.5,575.6 L1470.4,576.6 L1471.3,574.7 L1472.1,575.2 L1473.0,576.9 L1473.8,576.7 L1474.7,576.1 L1475.6,575.9 L1476.4,575.5 L1477.3,576.5 L1478.1,578.0 L1479.0,575.2 L1479.9,578.4 L1480.7,577.6 L1481.6,576.0 L1482.4,577.6 L1483.3,574.9 L1484.2,574.6 L1485.0,575.3 L1485.9,576.4 L1486.7,576.6 L1487.6,576.5 L1488.5,577.3 L1489.3,574.6 L1490.2,577.9 L1491.0,575.6 L1491.9,576.6 L1492.8,577.0 L1493.6,576.1 L1494.5,575.9 L1495.3,576.4 L1496.2,577.6 L1497.1,578.4 L1497.9,578.4 L1498.8,576.4 L1499.6,576.6 L1500.5,576.4 L1501.4,578.0 L1502.2,574.8 L1503.1,578.9 L1503.9,576.6 L1504.8,576.2 L1505.7,577.6 L1506.5,578.4 L1507.4,577.6 L1508.2,578.5 L1509.1,577.4 L1510.0,578.8 L1510.8,578.9 L1511.7,577.3 L1512.5,579.4 L1513.4,577.9 L1514.3,578.0 L1515.1,576.9 L1516.0,577.8 L1516.8,579.2 L1517.7,576.7 L1518.6,579.2 L1519.4,578.9 L1520.3,578.7 L1521.1,575.5 L1522.0,578.0 L1522.9,578.8 L1523.7,576.9 L1524.6,577.8 L1525.4,574.6 L1526.3,578.3 L1527.2,576.5 L1528.0,578.4 L1528.9,575.0 L1529.7,578.2 L1530.6,577.0 L1531.5,578.2 L1532.3,576.0 L1533.2,576.3 L1534.0,579.7 L1534.9,575.8 L1535.8,575.8 L1536.6,576.3 L1537.5,575.3 L1538.3,578.1" fill="none" stroke="#336699" stroke-width="5.6" stroke-linejoin="round" stroke-linecap="butt"/>
<path d="M38.0,708.3 L38.9,707.6 L39.7,709.1 L40.6,708.1 L41.4,706.4 L42.3,708.1 L43.2,706.9 L44.0,708.7 L44.9,708.2 L45.7,706.1 L46.6,707.8 L47.5,708.0 L48.3,707.4 L49.2,709.5 L50.0,710.8 L50.9,707.3 L51.8,707.2 L52.6,703.9 L53.5,707.4 L54.3,706.9 L55.2,704.0 L56.1,708.1 L56.9,708.7 L57.8,706.6 L58.6,707.3 L59.5,706.5 L60.4,709.6 L61.2,705.9 L62.1,708.2 L62.9,712.2 L63.8,709.1 L64.7,709.9 L65.5,709.0 L66.4,707.3 L67.2,709.2 L68.1,710.0 L69.0,707.6 L69.8,709.9 L70.7,711.5 L71.5,711.3 L72.4,707.0 L73.3,708.1 L74.1,707.1 L75.0,711.7 L75.8,710.9 L76.7,711.1 L77.6,708.5 L78.4,708.0 L79.3,710.1 L80.1,710.1 L81.0,708.5 L81.9,710.1 L82.7,710.9 L83.6,710.1 L84.4,708.0 L85.3,706.1 L86.2,709.2 L87.0,710.0 L87.9,709.3 L88.7,709.2 L89.6,708.8 L90.5,711.3 L91.3,710.1 L92.2,710.4 L93.0,708.6 L93.9,709.1 L94.8,710.3 L95.6,708.3 L96.5,707.8 L97.3,709.2 L98.2,711.6 L99.1,709.9 L99.9,711.9 L100.8,709.2 L101.6,708.8 L102.5,706.9 L103.4,708.2 L104.2,711.3 L105.1,709.3 L105.9,709.9 L106.8,709.7 L107.7,708.4 L108.5,708.0 L109.4,708.5 L110.2,709.4 L111.1,709.1 L112.0,709.3 L112.8,708.8 L113.7,707.4 L114.5,708.3 L115.4,707.2 L116.3,710.3 L117.1,705.3 L118.0,708.2 L118.8,712.3 L119.7,707.8 L120.6,706.4 L121.4,708.1 L122.3,710.1 L123.1,707.8 L124.0,709.1 L124.9,708.4 L125.7,707.8 L126.6,713.7 L127.4,709.0 L128.3,708.2 L129.2,708.5 L130.0,710.1 L130.9,710.3 L131.7,710.9 L132.6,710.0 L133.5,707.4 L134.3,710.5 L135.2,709.1 L136.0,709.1 L136.9,707.1 L137.8,708.5 L138.6,708.3 L139.5,709.4 L140.3,707.0 L141.2,709.4 L142.1,709.5 L142.9,707.4 L143.8,708.1 L144.6,707.6 L145.5,710.4 L146.4,704.8 L147.2,708.3 L148.1,706.1 L148.9,708.0 L149.8,710.0 L150.7,707.6 L151.5,708.8 L152.4,707.1 L153.2,711.7 L154.1,710.0 L155.0,710.5 L155.8,706.5 L156.7,706.9 L157.5,710.6 L158.4,708.5 L159.3,708.4 L160.1,709.4 L161.0,706.7 L161.8,710.1 L162.7,708.8 L163.6,709.5 L164.4,707.5 L165.3,709.4 L166.1,707.2 L167.0,709.8 L167.9,709.9 L168.7,709.4 L169.6,708.7 L170.4,708.9 L171.3,703.3 L172.2,709.3 L173.0,707.5 L173.9,708.1 L174.7,707.5 L175.6,705.6 L176.5,707.0 L177.3,709.0 L178.2,710.2 L179.0,706.7 L179.9,706.1 L180.8,710.2 L181.6,706.2 L182.5,711.3 L183.3,707.9 L184.2,706.3 L185.1,709.4 L185.9,710.5 L186.8,705.1 L187.6,710.0 L188.5,706.6 L189.4,709.4 L190.2,706.1 L191.1,704.0 L191.9,707.4 L192.8,708.1 L193.7,710.0 L194.5,709.3 L195.4,707.5 L196.2,705.8 L197.1,705.2 L198.0,705.5 L198.8,704.4 L199.7,705.2 L200.5,701.1 L201.4,705.6 L202.3,705.0 L203.1,709.2 L204.0,705.8 L204.8,703.4 L205.7,705.0 L206.6,701.7 L207.4,702.5 L208.3,700.2 L209.1,705.7 L210.0,704.2 L210.9,701.0 L211.7,702.9 L212.6,704.5 L213.4,703.6 L214.3,703.3 L215.2,701.1 L216.0,701.4 L216.9,702.5 L217.7,703.9 L218.6,700.7 L219.5,700.0 L220.3,703.8 L221.2,700.0 L222.0,703.3 L222.9,701.7 L223.8,702.7 L224.6,704.1 L225.5,702.1 L226.3,702.2 L227.2,699.1 L228.1,699.5 L228.9,701.8 L229.8,703.3 L230.6,703.0 L231.5,704.6 L232.4,700.9 L233.2,700.5 L234.1,701.7 L234.9,699.8 L235.8,699.4 L236.7,697.4 L237.5,700.8 L238.4,696.9 L239.2,699.5 L240.1,695.9 L241.0,700.3 L241.8,696.5 L242.7,699.8 L243.5,695.5 L244.4,697.6 L245.3,700.6 L246.1,697.1 L247.0,698.7 L247.8,697.8 L248.7,694.5 L249.6,699.1 L250.4,699.3 L251.3,696.3 L252.1,699.1 L253.0,696.3 L253.9,695.6 L254.7,697.0 L255.6,695.3 L256.4,700.3 L257.3,692.9 L258.2,696.8 L259.0,697.0 L259.9,691.5 L260.7,691.8 L261.6,695.9 L262.5,693.9 L263.3,695.4 L264.2,696.7 L265.0,693.8 L265.9,692.4 L266.8,689.2 L267.6,694.5 L268.5,692.2 L269.3,694.3 L270.2,693.9 L271.1,690.8 L271.9,696.3 L272.8,694.9 L273.6,694.3 L274.5,690.4 L275.4,691.6 L276.2,691.1 L277.1,691.1 L277.9,689.6 L278.8,692.2 L279.7,691.6 L280.5,691.6 L281.4,689.8 L282.2,692.9 L283.1,690.7 L284.0,685.2 L284.8,689.0 L285.7,690.0 L286.5,691.8 L287.4,689.4 L288.3,689.4 L289.1,688.5 L290.0,690.7 L290.8,688.4 L291.7,687.8 L292.6,687.2 L293.4,689.2 L294.3,686.8 L295.1,684.4 L296.0,688.4 L296.9,685.7 L297.7,687.4 L298.6,687.2 L299.4,688.5 L300.3,688.0 L301.2,684.7 L302.0,685.2 L302.9,682.9 L303.7,688.2 L304.6,685.7 L305.5,687.2 L306.3,683.7 L307.2,680.2 L308.0,686.6 L308.9,683.6 L309.8,683.4 L310.6,682.9 L311.5,683.8 L312.3,683.3 L313.2,679.0 L314.1,683.9 L314.9,680.6 L315.8,680.5 L316.6,684.6 L317.5,682.9 L318.4,680.3 L319.2,677.3 L320.1,681.0 L320.9,681.5 L321.8,680.1 L322.7,677.5 L323.5,678.1 L324.4,676.8 L325.2,679.3 L326.1,680.0 L327.0,680.0 L327.8,676.1 L328.7,677.6 L329.5,677.9 L330.4,675.5 L331.3,675.9 L332.1,680.2 L333.0,676.1 L333.8,677.4 L334.7,674.6 L335.6,675.5 L336.4,672.0 L337.3,675.3 L338.1,677.7 L339.0,679.5 L339.9,677.6 L340.7,676.5 L341.6,675.1 L342.4,673.6 L343.3,674.3 L344.2,675.7 L345.0,672.7 L345.9,676.0 L346.7,671.8 L347.6,669.9 L348.5,671.1 L349.3,669.4 L350.2,669.6 L351.0,674.3 L351.9,671.2 L352.8,671.7 L353.6,673.3 L354.5,673.2 L355.3,669.3 L356.2,672.8 L357.1,670.6 L357.9,669.6 L358.8,670.2 L359.6,666.2 L360.5,667.3 L361.4,668.6 L362.2,670.0 L363.1,667.8 L363.9,668.3 L364.8,670.5 L365.7,671.4 L366.5,670.0 L367.4,670.9 L368.2,667.4 L369.1,667.6 L370.0,668.9 L370.8,667.7 L371.7,667.3 L372.5,671.9 L373.4,668.1 L374.3,666.5 L375.1,669.6 L376.0,672.3 L376.8,668.5 L377.7,670.7 L378.6,667.0 L379.4,666.6 L380.3,665.8 L381.1,666.5 L382.0,670.3 L382.9,663.5 L383.7,668.8 L384.6,662.8 L385.4,663.9 L386.3,665.7 L387.2,665.0 L388.0,664.0 L388.9,659.8 L389.7,663.9 L390.6,661.0 L391.5,668.5 L392.3,662.5 L393.2,663.1 L394.0,660.0 L394.9,661.1 L395.8,659.0 L396.6,663.5 L397.5,660.5 L398.3,662.0 L399.2,659.2 L400.1,659.4 L400.9,663.0 L401.8,658.1 L402.6,656.2 L403.5,660.8 L404.4,657.4 L405.2,658.8 L406.1,661.6 L406.9,657.9 L407.8,661.4 L408.7,658.0 L409.5,662.5 L410.4,662.0 L411.2,658.0 L412.1,658.3 L413.0,656.8 L413.8,658.8 L414.7,660.6 L415.5,654.7 L416.4,659.5 L417.3,654.4 L418.1,655.0 L419.0,652.6 L419.8,660.6 L420.7,655.8 L421.6,655.7 L422.4,653.4 L423.3,656.7 L424.1,649.6 L425.0,653.8 L425.9,658.0 L426.7,652.1 L427.6,652.6 L428.4,653.6 L429.3,650.0 L430.2,651.5 L431.0,653.3 L431.9,651.6 L432.7,652.0 L433.6,650.5 L434.5,652.1 L435.3,651.6 L436.2,654.7 L437.0,653.2 L437.9,651.2 L438.8,646.5 L439.6,653.0 L440.5,652.8 L441.3,649.1 L442.2,646.5 L443.1,647.8 L443.9,651.7 L444.8,647.1 L445.6,647.9 L446.5,648.9 L447.4,650.5 L448.2,647.6 L449.1,647.1 L449.9,645.8 L450.8,650.1 L451.7,648.8 L452.5,646.2 L453.4,643.3 L454.2,644.5 L455.1,647.3 L456.0,644.6 L456.8,647.9 L457.7,646.8 L458.5,646.5 L459.4,647.2 L460.3,646.7 L461.1,643.6 L462.0,644.4 L462.8,649.8 L463.7,641.8 L464.6,643.0 L465.4,645.9 L466.3,642.7 L467.1,640.8 L468.0,639.3 L468.9,642.9 L469.7,643.5 L470.6,643.9 L471.4,640.5 L472.3,642.4 L473.2,637.3 L474.0,639.7 L474.9,637.6 L475.7,639.4 L476.6,640.7 L477.5,641.5 L478.3,636.9 L479.2,642.3 L480.0,638.2 L480.9,636.9 L481.8,638.8 L482.6,635.5 L483.5,638.6 L484.3,638.9 L485.2,637.2 L486.1,638.5 L486.9,635.9 L487.8,636.3 L488.6,632.4 L489.5,635.7 L490.4,633.3 L491.2,634.1 L492.1,634.7 L492.9,635.2 L493.8,630.4 L494.7,630.3 L495.5,633.1 L496.4,634.7 L497.2,634.3 L498.1,635.5 L499.0,636.7 L499.8,635.0 L500.7,634.1 L501.5,632.0 L502.4,632.7 L503.3,634.3 L504.1,636.3 L505.0,636.3 L505.8,635.7 L506.7,635.1 L507.6,636.6 L508.4,635.1 L509.3,634.9 L510.1,634.4 L511.0,631.9 L511.9,630.3 L512.7,633.8 L513.6,633.4 L514.4,631.6 L515.3,630.9 L516.2,637.4 L517.0,629.8 L517.9,631.1 L518.7,632.4 L519.6,629.0 L520.5,632.4 L521.3,636.8 L522.2,634.7 L523.0,634.0 L523.9,633.9 L524.8,632.5 L525.6,634.3 L526.5,631.3 L527.3,630.4 L528.2,631.5 L529.1,633.3 L529.9,631.8 L530.8,632.6 L531.6,625.8 L532.5,633.8 L533.4,636.6 L534.2,634.0 L535.1,629.8 L535.9,628.3 L536.8,631.0 L537.7,627.6 L538.5,631.7 L539.4,628.3 L540.2,631.8 L541.1,632.5 L542.0,623.8 L542.8,629.4 L543.7,626.7 L544.5,624.7 L545.4,626.5 L546.3,627.3 L547.1,630.4 L548.0,623.9 L548.8,630.3 L549.7,632.8 L550.6,629.4 L551.4,629.4 L552.3,628.3 L553.1,625.7 L554.0,630.3 L554.9,630.1 L555.7,631.2 L556.6,635.9 L557.4,631.2 L558.3,630.3 L559.2,633.0 L560.0,625.3 L560.9,625.5 L561.7,627.0 L562.6,625.9 L563.5,628.8 L564.3,625.8 L565.2,630.7 L566.0,629.8 L566.9,627.5 L567.8,624.3 L568.6,626.6 L569.5,626.9 L570.3,621.9 L571.2,625.4 L572.1,626.3 L572.9,625.1 L573.8,628.7 L574.6,628.0 L575.5,622.9 L576.4,625.6 L577.2,623.3 L578.1,627.2 L578.9,623.5 L579.8,628.1 L580.7,626.7 L581.5,628.1 L582.4,625.1 L583.2,621.7 L584.1,630.1 L585.0,625.1 L585.8,629.2 L586.7,626.8 L587.5,627.5 L588.4,630.6 L589.3,626.8 L590.1,629.5 L591.0,622.0 L591.8,628.0 L592.7,625.0 L593.6,625.2 L594.4,625.4 L595.3,626.1 L596.1,629.4 L597.0,620.1 L597.9,624.9 L598.7,622.9 L599.6,627.8 L600.4,623.7 L601.3,626.1 L602.2,624.0 L603.0,626.9 L603.9,627.9 L604.7,624.2 L605.6,625.3 L606.5,621.4 L607.3,625.9 L608.2,627.2 L609.0,623.5 L609.9,627.8 L610.8,619.3 L611.6,619.8 L612.5,621.0 L613.3,623.4 L614.2,624.7 L615.1,624.5 L615.9,624.5 L616.8,626.6 L617.6,623.3 L618.5,621.1 L619.4,620.9 L620.2,629.7 L621.1,617.6 L621.9,623.3 L622.8,627.7 L623.7,625.1 L624.5,621.7 L625.4,624.1 L626.2,626.5 L627.1,627.6 L628.0,622.0 L628.8,626.5 L629.7,625.0 L630.5,627.3 L631.4,628.0 L632.3,623.3 L633.1,620.3 L634.0,625.3 L634.8,629.1 L635.7,626.3 L636.6,625.1 L637.4,631.1 L638.3,621.9 L639.1,627.2 L640.0,623.2 L640.9,624.9 L641.7,625.0 L642.6,628.8 L643.4,622.2 L644.3,623.3 L645.2,620.4 L646.0,626.1 L646.9,623.6 L647.7,626.0 L648.6,621.9 L649.5,623.8 L650.3,627.5 L651.2,624.2 L652.0,626.2 L652.9,625.8 L653.8,623.2 L654.6,619.9 L655.5,626.6 L656.3,624.2 L657.2,626.2 L658.1,618.0 L658.9,618.7 L659.8,617.2 L660.6,620.3 L661.5,625.2 L662.4,623.8 L663.2,622.2 L664.1,622.7 L664.9,624.5 L665.8,621.9 L666.7,624.0 L667.5,623.6 L668.4,617.7 L669.2,622.7 L670.1,627.5 L671.0,622.9 L671.8,623.5 L672.7,622.2 L673.5,622.4 L674.4,626.6 L675.3,622.8 L676.1,620.8 L677.0,615.3 L677.8,622.1 L678.7,618.5 L679.6,619.0 L680.4,626.0 L681.3,625.8 L682.1,619.0 L683.0,626.2 L683.9,625.2 L684.7,622.2 L685.6,626.2 L686.4,620.7 L687.3,622.1 L688.2,621.9 L689.0,623.1 L689.9,628.3 L690.7,623.4 L691.6,624.2 L692.5,625.0 L693.3,627.9 L694.2,626.9 L695.0,629.8 L695.9,626.4 L696.8,625.3 L697.6,627.3 L698.5,628.8 L699.3,626.8 L700.2,629.8 L701.1,633.6 L701.9,628.3 L702.8,630.1 L703.6,633.4 L704.5,629.1 L705.4,628.9 L706.2,628.7 L707.1,632.5 L707.9,633.1 L708.8,631.9 L709.7,632.8 L710.5,636.0 L711.4,635.3 L712.2,630.3 L713.1,633.7 L714.0,634.1 L714.8,635.6 L715.7,633.4 L716.5,632.4 L717.4,632.7 L718.3,629.5 L719.1,633.5 L720.0,632.1 L720.8,634.6 L721.7,631.3 L722.6,632.9 L723.4,631.9 L724.3,632.0 L725.1,636.4 L726.0,634.1 L726.9,636.6 L727.7,633.4 L728.6,636.5 L729.4,632.8 L730.3,635.9 L731.2,636.1 L732.0,638.9 L732.9,638.2 L733.7,637.5 L734.6,640.0 L735.5,638.7 L736.3,639.7 L737.2,640.4 L738.0,638.7 L738.9,638.4 L739.8,639.9 L740.6,638.3 L741.5,640.1 L742.3,641.7 L743.2,641.2 L744.1,638.4 L744.9,636.5 L745.8,639.4 L746.6,639.5 L747.5,642.6 L748.4,639.6 L749.2,640.4 L750.1,642.9 L750.9,640.6 L751.8,641.7 L752.7,646.1 L753.5,645.9 L754.4,644.2 L755.2,643.5 L756.1,641.0 L757.0,644.5 L757.8,643.5 L758.7,644.1 L759.5,642.6 L760.4,643.9 L761.3,643.7 L762.1,645.0 L763.0,647.5 L763.8,645.5 L764.7,641.5 L765.6,643.3 L766.4,642.4 L767.3,644.5 L768.1,647.7 L769.0,647.8 L769.9,646.1 L770.7,648.4 L771.6,646.7 L772.4,645.7 L773.3,646.2 L774.2,647.7 L775.0,652.8 L775.9,647.4 L776.7,653.0 L777.6,653.4 L778.5,650.5 L779.3,650.9 L780.2,649.8 L781.0,651.2 L781.9,652.8 L782.8,651.8 L783.6,654.2 L784.5,655.0 L785.3,653.7 L786.2,654.1 L787.1,653.7 L787.9,654.9 L788.8,652.3 L789.6,655.7 L790.5,655.6 L791.4,653.6 L792.2,659.9 L793.1,653.7 L793.9,654.1 L794.8,656.6 L795.7,652.3 L796.5,654.8 L797.4,653.7 L798.2,655.1 L799.1,657.2 L800.0,658.5 L800.8,660.4 L801.7,660.2 L802.5,661.3 L803.4,660.4 L804.3,658.5 L805.1,662.1 L806.0,659.1 L806.8,659.3 L807.7,664.0 L808.6,662.9 L809.4,662.1 L810.3,663.5 L811.1,664.0 L812.0,659.7 L812.9,662.4 L813.7,660.2 L814.6,662.9 L815.4,661.3 L816.3,665.5 L817.2,663.9 L818.0,661.5 L818.9,663.4 L819.7,661.4 L820.6,664.5 L821.5,666.1 L822.3,666.1 L823.2,662.2 L824.0,665.9 L824.9,668.0 L825.8,667.9 L826.6,669.9 L827.5,665.0 L828.3,668.7 L829.2,666.4 L830.1,668.2 L830.9,668.7 L831.8,669.4 L832.6,667.1 L833.5,668.9 L834.4,666.4 L835.2,666.2 L836.1,670.6 L836.9,669.6 L837.8,666.6 L838.7,668.3 L839.5,670.2 L840.4,673.5 L841.2,672.5 L842.1,672.0 L843.0,666.8 L843.8,670.3 L844.7,671.6 L845.5,671.5 L846.4,671.6 L847.3,670.4 L848.1,674.6 L849.0,674.2 L849.8,671.1 L850.7,669.3 L851.6,675.5 L852.4,670.3 L853.3,673.9 L854.1,675.3 L855.0,669.7 L855.9,672.3 L856.7,671.3 L857.6,673.3 L858.4,673.3 L859.3,676.9 L860.2,674.6 L861.0,673.9 L861.9,676.6 L862.7,674.3 L863.6,674.7 L864.5,680.4 L865.3,674.7 L866.2,675.8 L867.0,677.2 L867.9,675.3 L868.8,673.4 L869.6,679.9 L870.5,676.3 L871.3,676.9 L872.2,677.3 L873.1,676.2 L873.9,676.1 L874.8,678.6 L875.6,683.1 L876.5,679.9 L877.4,680.1 L878.2,675.8 L879.1,678.9 L879.9,676.8 L880.8,680.8 L881.7,679.1 L882.5,679.9 L883.4,680.0 L884.2,679.3 L885.1,677.8 L886.0,682.1 L886.8,678.6 L887.7,679.2 L888.5,681.1 L889.4,680.5 L890.3,682.6 L891.1,684.2 L892.0,682.9 L892.8,682.9 L893.7,682.6 L894.6,684.2 L895.4,679.1 L896.3,683.3 L897.1,680.8 L898.0,680.3 L898.9,682.9 L899.7,682.4 L900.6,684.7 L901.4,686.1 L902.3,679.9 L903.2,684.8 L904.0,689.1 L904.9,687.3 L905.7,688.7 L906.6,686.3 L907.5,683.4 L908.3,684.0 L909.2,687.7 L910.0,688.3 L910.9,685.1 L911.8,686.2 L912.6,687.5 L913.5,683.8 L914.3,687.0 L915.2,691.2 L916.1,692.7 L916.9,688.4 L917.8,692.4 L918.6,687.9 L919.5,687.3 L920.4,684.4 L921.2,690.6 L922.1,687.9 L922.9,693.1 L923.8,689.0 L924.7,688.7 L925.5,684.9 L926.4,691.6 L927.2,688.2 L928.1,689.0 L929.0,685.4 L929.8,691.9 L930.7,692.4 L931.5,689.5 L932.4,691.1 L933.3,691.8 L934.1,692.9 L935.0,691.3 L935.8,694.3 L936.7,690.5 L937.6,689.8 L938.4,690.0 L939.3,686.0 L940.1,689.4 L941.0,693.0 L941.9,691.7 L942.7,689.8 L943.6,692.2 L944.4,687.8 L945.3,691.2 L946.2,692.9 L947.0,693.3 L947.9,690.5 L948.7,693.8 L949.6,695.7 L950.5,691.4 L951.3,693.8 L952.2,689.5 L953.0,688.9 L953.9,694.1 L954.8,693.2 L955.6,693.7 L956.5,692.3 L957.3,693.0 L958.2,695.2 L959.1,697.1 L959.9,693.4 L960.8,690.6 L961.6,696.5 L962.5,695.3 L963.4,695.6 L964.2,694.8 L965.1,699.1 L965.9,694.8 L966.8,695.7 L967.7,691.1 L968.5,693.7 L969.4,693.5 L970.2,694.9 L971.1,695.7 L972.0,693.5 L972.8,698.4 L973.7,692.8 L974.5,694.0 L975.4,695.3 L976.3,692.3 L977.1,695.8 L978.0,695.9 L978.8,694.0 L979.7,698.4 L980.6,694.8 L981.4,695.2 L982.3,692.9 L983.1,691.7 L984.0,694.0 L984.9,694.9 L985.7,694.9 L986.6,697.7 L987.4,691.9 L988.3,694.6 L989.2,693.5 L990.0,699.7 L990.9,696.0 L991.7,696.1 L992.6,694.9 L993.5,698.7 L994.3,696.1 L995.2,697.3 L996.0,692.9 L996.9,699.1 L997.8,697.6 L998.6,697.9 L999.5,699.2 L1000.3,696.5 L1001.2,696.6 L1002.1,698.4 L1002.9,697.9 L1003.8,696.7 L1004.6,697.3 L1005.5,696.3 L1006.4,698.7 L1007.2,699.1 L1008.1,697.2 L1008.9,700.8 L1009.8,694.0 L1010.7,696.5 L1011.5,700.3 L1012.4,696.0 L1013.2,693.6 L1014.1,699.5 L1015.0,697.7 L1015.8,694.2 L1016.7,698.1 L1017.5,694.4 L1018.4,693.8 L1019.3,696.1 L1020.1,695.5 L1021.0,694.3 L1021.8,695.9 L1022.7,694.7 L1023.6,696.9 L1024.4,696.8 L1025.3,698.5 L1026.1,696.2 L1027.0,694.5 L1027.9,694.6 L1028.7,696.8 L1029.6,700.4 L1030.4,699.1 L1031.3,696.2 L1032.2,699.4 L1033.0,695.3 L1033.9,699.7 L1034.7,696.9 L1035.6,699.3 L1036.5,699.1 L1037.3,697.4 L1038.2,698.8 L1039.0,696.2 L1039.9,698.3 L1040.8,700.7 L1041.6,706.7 L1042.5,700.1 L1043.3,698.9 L1044.2,696.8 L1045.1,700.8 L1045.9,695.4 L1046.8,697.0 L1047.6,699.2 L1048.5,696.1 L1049.4,701.4 L1050.2,700.4 L1051.1,697.1 L1051.9,697.0 L1052.8,695.4 L1053.7,695.2 L1054.5,698.8 L1055.4,699.1 L1056.2,698.7 L1057.1,698.6 L1058.0,697.2 L1058.8,699.2 L1059.7,695.9 L1060.5,699.0 L1061.4,702.1 L1062.3,702.0 L1063.1,698.8 L1064.0,699.3 L1064.8,702.8 L1065.7,703.8 L1066.6,697.5 L1067.4,699.7 L1068.3,701.0 L1069.1,702.9 L1070.0,698.7 L1070.9,701.5 L1071.7,699.5 L1072.6,704.6 L1073.4,700.6 L1074.3,699.4 L1075.2,699.0 L1076.0,701.7 L1076.9,700.9 L1077.7,697.5 L1078.6,700.1 L1079.5,697.0 L1080.3,698.1 L1081.2,696.9 L1082.0,696.8 L1082.9,697.9 L1083.8,697.2 L1084.6,700.1 L1085.5,700.6 L1086.3,698.5 L1087.2,696.7 L1088.1,700.5 L1088.9,694.8 L1089.8,695.0 L1090.6,700.3 L1091.5,700.2 L1092.4,700.8 L1093.2,698.4 L1094.1,696.3 L1094.9,697.8 L1095.8,700.0 L1096.7,697.4 L1097.5,697.6 L1098.4,696.3 L1099.2,696.9 L1100.1,701.0 L1101.0,700.4 L1101.8,697.3 L1102.7,697.7 L1103.5,698.9 L1104.4,701.3 L1105.3,698.0 L1106.1,700.1 L1107.0,696.2 L1107.8,698.0 L1108.7,701.3 L1109.6,702.2 L1110.4,698.0 L1111.3,698.7 L1112.1,701.7 L1113.0,699.2 L1113.9,698.8 L1114.7,700.7 L1115.6,700.0 L1116.4,701.7 L1117.3,701.1 L1118.2,698.3 L1119.0,699.3 L1119.9,699.5 L1120.7,697.0 L1121.6,697.9 L1122.5,701.8 L1123.3,696.8 L1124.2,701.9 L1125.0,700.5 L1125.9,699.5 L1126.8,700.8 L1127.6,700.6 L1128.5,701.9 L1129.3,698.7 L1130.2,699.0 L1131.1,698.9 L1131.9,703.1 L1132.8,701.2 L1133.6,697.5 L1134.5,698.7 L1135.4,697.9 L1136.2,699.4 L1137.1,699.8 L1137.9,703.9 L1138.8,695.8 L1139.7,701.5 L1140.5,700.3 L1141.4,698.0 L1142.2,699.1 L1143.1,698.3 L1144.0,699.2 L1144.8,701.0 L1145.7,695.9 L1146.5,701.4 L1147.4,698.0 L1148.3,701.7 L1149.1,699.6 L1150.0,701.3 L1150.8,700.1 L1151.7,701.2 L1152.6,699.3 L1153.4,697.6 L1154.3,700.7 L1155.1,700.9 L1156.0,703.7 L1156.9,695.7 L1157.7,699.2 L1158.6,701.7 L1159.4,697.1 L1160.3,699.1 L1161.2,703.6 L1162.0,702.2 L1162.9,697.7 L1163.7,702.2 L1164.6,701.6 L1165.5,700.8 L1166.3,700.0 L1167.2,699.7 L1168.0,697.5 L1168.9,698.2 L1169.8,700.6 L1170.6,699.4 L1171.5,702.7 L1172.3,698.3 L1173.2,694.2 L1174.1,698.2 L1174.9,699.4 L1175.8,699.7 L1176.6,699.1 L1177.5,697.5 L1178.4,702.2 L1179.2,698.0 L1180.1,700.9 L1180.9,699.0 L1181.8,697.2 L1182.7,702.4 L1183.5,694.6 L1184.4,697.9 L1185.2,700.5 L1186.1,698.9 L1187.0,701.1 L1187.8,699.4 L1188.7,698.7 L1189.5,703.8 L1190.4,699.0 L1191.3,699.1 L1192.1,697.3 L1193.0,698.0 L1193.8,700.9 L1194.7,701.0 L1195.6,700.1 L1196.4,699.0 L1197.3,701.9 L1198.1,697.4 L1199.0,700.2 L1199.9,700.4 L1200.7,699.2 L1201.6,701.2 L1202.4,699.6 L1203.3,699.3 L1204.2,704.5 L1205.0,702.5 L1205.9,703.5 L1206.7,701.3 L1207.6,703.0 L1208.5,702.5 L1209.3,703.2 L1210.2,705.4 L1211.0,700.1 L1211.9,700.9 L1212.8,700.3 L1213.6,693.4 L1214.5,697.6 L1215.3,700.5 L1216.2,701.7 L1217.1,699.4 L1217.9,702.7 L1218.8,703.0 L1219.6,699.7 L1220.5,703.3 L1221.4,703.9 L1222.2,701.2 L1223.1,698.3 L1223.9,703.0 L1224.8,699.7 L1225.7,699.2 L1226.5,700.0 L1227.4,698.7 L1228.2,701.8 L1229.1,701.2 L1230.0,702.1 L1230.8,700.8 L1231.7,698.1 L1232.5,699.3 L1233.4,701.2 L1234.3,698.6 L1235.1,704.9 L1236.0,698.6 L1236.8,697.8 L1237.7,701.0 L1238.6,700.1 L1239.4,698.5 L1240.3,698.0 L1241.1,699.3 L1242.0,700.1 L1242.9,700.0 L1243.7,698.1 L1244.6,699.7 L1245.4,700.8 L1246.3,700.9 L1247.2,693.8 L1248.0,698.4 L1248.9,698.9 L1249.7,700.2 L1250.6,701.3 L1251.5,702.9 L1252.3,702.4 L1253.2,701.0 L1254.0,701.2 L1254.9,704.5 L1255.8,699.8 L1256.6,701.4 L1257.5,703.7 L1258.3,701.3 L1259.2,696.7 L1260.1,701.3 L1260.9,699.9 L1261.8,700.5 L1262.6,702.7 L1263.5,701.7 L1264.4,700.4 L1265.2,702.6 L1266.1,701.7 L1266.9,701.1 L1267.8,701.4 L1268.7,701.2 L1269.5,700.0 L1270.4,699.7 L1271.2,700.6 L1272.1,698.8 L1273.0,698.2 L1273.8,703.1 L1274.7,700.3 L1275.5,700.8 L1276.4,700.6 L1277.3,701.0 L1278.1,701.1 L1279.0,701.3 L1279.8,699.9 L1280.7,703.3 L1281.6,700.4 L1282.4,703.9 L1283.3,698.4 L1284.1,700.1 L1285.0,704.0 L1285.9,701.8 L1286.7,700.8 L1287.6,702.8 L1288.4,700.2 L1289.3,702.4 L1290.2,698.3 L1291.0,701.9 L1291.9,701.8 L1292.7,704.4 L1293.6,705.2 L1294.5,702.2 L1295.3,706.9 L1296.2,702.7 L1297.0,699.8 L1297.9,699.0 L1298.8,706.1 L1299.6,702.8 L1300.5,701.6 L1301.3,701.2 L1302.2,700.4 L1303.1,704.9 L1303.9,702.1 L1304.8,705.6 L1305.6,701.9 L1306.5,697.9 L1307.4,703.8 L1308.2,701.5 L1309.1,701.7 L1309.9,705.0 L1310.8,701.5 L1311.7,704.1 L1312.5,701.9 L1313.4,700.5 L1314.2,702.9 L1315.1,700.9 L1316.0,704.4 L1316.8,704.1 L1317.7,702.5 L1318.5,703.7 L1319.4,703.7 L1320.3,702.2 L1321.1,704.5 L1322.0,702.4 L1322.8,704.0 L1323.7,701.0 L1324.6,702.9 L1325.4,703.4 L1326.3,701.1 L1327.1,701.8 L1328.0,701.6 L1328.9,704.0 L1329.7,701.4 L1330.6,703.7 L1331.4,705.9 L1332.3,703.9 L1333.2,700.4 L1334.0,703.8 L1334.9,705.6 L1335.7,703.3 L1336.6,705.9 L1337.5,705.1 L1338.3,704.8 L1339.2,703.6 L1340.0,703.2 L1340.9,703.7 L1341.8,704.4 L1342.6,705.3 L1343.5,705.2 L1344.3,704.0 L1345.2,704.7 L1346.1,705.3 L1346.9,701.6 L1347.8,703.2 L1348.6,703.2 L1349.5,704.3 L1350.4,704.2 L1351.2,704.2 L1352.1,703.1 L1352.9,705.9 L1353.8,705.2 L1354.7,701.7 L1355.5,704.7 L1356.4,702.7 L1357.2,707.9 L1358.1,704.1 L1359.0,704.2 L1359.8,705.1 L1360.7,704.6 L1361.5,704.9 L1362.4,707.8 L1363.3,705.3 L1364.1,706.4 L1365.0,706.9 L1365.8,703.0 L1366.7,707.8 L1367.6,705.9 L1368.4,706.3 L1369.3,702.8 L1370.1,705.8 L1371.0,705.0 L1371.9,703.2 L1372.7,708.3 L1373.6,705.2 L1374.4,703.9 L1375.3,704.9 L1376.2,706.4 L1377.0,707.1 L1377.9,706.3 L1378.7,707.7 L1379.6,708.4 L1380.5,703.7 L1381.3,705.1 L1382.2,704.3 L1383.0,706.2 L1383.9,708.6 L1384.8,707.1 L1385.6,704.1 L1386.5,705.4 L1387.3,707.7 L1388.2,704.9 L1389.1,705.7 L1389.9,706.4 L1390.8,702.5 L1391.6,707.1 L1392.5,706.3 L1393.4,706.7 L1394.2,703.9 L1395.1,704.2 L1395.9,704.5 L1396.8,706.1 L1397.7,705.8 L1398.5,705.9 L1399.4,709.0 L1400.2,708.1 L1401.1,704.5 L1402.0,704.7 L1402.8,708.9 L1403.7,705.3 L1404.5,708.4 L1405.4,708.8 L1406.3,705.1 L1407.1,705.6 L1408.0,706.3 L1408.8,704.7 L1409.7,704.6 L1410.6,705.6 L1411.4,707.9 L1412.3,705.6 L1413.1,706.0 L1414.0,705.6 L1414.9,704.1 L1415.7,709.2 L1416.6,702.5 L1417.4,705.6 L1418.3,707.9 L1419.2,704.5 L1420.0,708.1 L1420.9,709.3 L1421.7,705.5 L1422.6,707.4 L1423.5,705.0 L1424.3,707.8 L1425.2,706.9 L1426.0,707.1 L1426.9,709.1 L1427.8,707.4 L1428.6,709.0 L1429.5,707.8 L1430.3,704.7 L1431.2,707.3 L1432.1,707.9 L1432.9,704.6 L1433.8,709.6 L1434.6,707.4 L1435.5,708.0 L1436.4,705.8 L1437.2,707.5 L1438.1,707.8 L1438.9,706.7 L1439.8,707.4 L1440.7,703.5 L1441.5,709.5 L1442.4,705.2 L1443.2,703.3 L1444.1,705.4 L1445.0,705.7 L1445.8,708.1 L1446.7,705.7 L1447.5,707.9 L1448.4,705.9 L1449.3,711.5 L1450.1,708.7 L1451.0,711.2 L1451.8,706.1 L1452.7,709.0 L1453.6,706.3 L1454.4,708.9 L1455.3,709.1 L1456.1,705.3 L1457.0,706.1 L1457.9,706.2 L1458.7,705.7 L1459.6,707.1 L1460.4,706.8 L1461.3,706.0 L1462.2,708.6 L1463.0,709.2 L1463.9,705.9 L1464.7,707.0 L1465.6,707.7 L1466.5,707.1 L1467.3,706.1 L1468.2,708.6 L1469.0,708.6 L1469.9,708.3 L1470.8,706.8 L1471.6,710.7 L1472.5,710.3 L1473.3,706.8 L1474.2,707.4 L1475.1,709.7 L1475.9,706.4 L1476.8,708.5 L1477.6,707.9 L1478.5,706.7 L1479.4,707.6 L1480.2,705.4 L1481.1,707.3 L1481.9,705.1 L1482.8,712.6 L1483.7,711.5 L1484.5,711.2 L1485.4,709.8 L1486.2,711.2 L1487.1,711.7 L1488.0,711.2 L1488.8,711.0 L1489.7,707.7 L1490.5,709.8 L1491.4,708.0 L1492.3,706.7 L1493.1,706.6 L1494.0,709.1 L1494.8,710.1 L1495.7,705.9 L1496.6,711.2 L1497.4,710.7 L1498.3,707.5 L1499.1,707.4 L1500.0,708.1 L1500.9,709.8 L1501.7,707.6 L1502.6,706.4 L1503.4,708.9 L1504.3,704.8 L1505.2,708.6 L1506.0,710.4 L1506.9,709.0 L1507.7,709.9 L1508.6,709.4 L1509.5,709.8 L1510.3,708.8 L1511.2,707.1 L1512.0,708.1 L1512.9,708.4 L1513.8,710.6 L1514.6,711.3 L1515.5,709.3 L1516.3,707.4 L1517.2,707.5 L1518.1,708.5 L1518.9,711.3 L1519.8,709.7 L1520.6,709.2 L1521.5,708.1 L1522.4,711.0 L1523.2,710.1 L1524.1,709.4 L1524.9,709.6 L1525.8,712.1 L1526.7,708.8 L1527.5,711.7 L1528.4,710.8 L1529.2,708.6 L1530.1,710.0 L1531.0,708.3 L1531.8,707.3 L1532.7,708.3 L1533.5,707.4 L1534.4,709.9 L1535.3,709.2 L1536.1,710.2 L1537.0,710.7 L1537.8,704.1" fill="none" stroke="#eb0000" stroke-width="5.6" stroke-linejoin="round" stroke-linecap="butt"/>
<path d="M38.0,807.6 L38.9,807.7 L39.7,808.5 L40.6,806.1 L41.4,809.3 L42.3,810.1 L43.2,809.4 L44.0,806.7 L44.9,805.0 L45.7,807.0 L46.6,808.1 L47.5,809.2 L48.3,807.4 L49.2,807.0 L50.0,809.9 L50.9,806.0 L51.8,808.8 L52.6,808.4 L53.5,804.5 L54.3,807.2 L55.2,805.8 L56.1,805.2 L56.9,803.8 L57.8,804.5 L58.6,808.1 L59.5,807.0 L60.4,808.4 L61.2,806.3 L62.1,807.7 L62.9,807.9 L63.8,805.8 L64.7,805.6 L65.5,809.2 L66.4,808.7 L67.2,806.8 L68.1,808.1 L69.0,809.3 L69.8,811.1 L70.7,806.3 L71.5,808.7 L72.4,811.0 L73.3,807.3 L74.1,809.5 L75.0,802.5 L75.8,809.3 L76.7,806.8 L77.6,803.6 L78.4,808.3 L79.3,808.9 L80.1,809.4 L81.0,809.6 L81.9,807.7 L82.7,806.7 L83.6,807.4 L84.4,808.2 L85.3,809.0 L86.2,807.4 L87.0,808.2 L87.9,809.4 L88.7,808.2 L89.6,811.2 L90.5,810.7 L91.3,804.8 L92.2,805.6 L93.0,804.1 L93.9,804.3 L94.8,807.1 L95.6,804.4 L96.5,804.3 L97.3,805.6 L98.2,807.4 L99.1,805.4 L99.9,805.4 L100.8,807.5 L101.6,806.8 L102.5,806.9 L103.4,807.8 L104.2,804.7 L105.1,807.0 L105.9,805.8 L106.8,808.9 L107.7,808.7 L108.5,805.7 L109.4,809.9 L110.2,805.8 L111.1,809.8 L112.0,808.2 L112.8,806.4 L113.7,806.0 L114.5,807.3 L115.4,807.7 L116.3,806.5 L117.1,808.5 L118.0,805.0 L118.8,807.3 L119.7,807.2 L120.6,804.0 L121.4,807.7 L122.3,805.1 L123.1,803.1 L124.0,806.4 L124.9,807.2 L125.7,809.3 L126.6,807.0 L127.4,810.3 L128.3,810.3 L129.2,809.7 L130.0,810.0 L130.9,808.2 L131.7,806.6 L132.6,808.5 L133.5,809.0 L134.3,807.7 L135.2,806.8 L136.0,804.6 L136.9,808.4 L137.8,807.9 L138.6,805.2 L139.5,807.6 L140.3,808.7 L141.2,807.3 L142.1,808.8 L142.9,808.6 L143.8,804.7 L144.6,806.5 L145.5,807.6 L146.4,808.1 L147.2,808.7 L148.1,802.9 L148.9,805.8 L149.8,807.0 L150.7,807.8 L151.5,808.5 L152.4,804.0 L153.2,805.0 L154.1,803.9 L155.0,807.1 L155.8,803.6 L156.7,807.8 L157.5,807.4 L158.4,806.6 L159.3,802.0 L160.1,804.4 L161.0,806.6 L161.8,802.8 L162.7,804.7 L163.6,804.9 L164.4,806.6 L165.3,805.6 L166.1,805.8 L167.0,804.7 L167.9,805.7 L168.7,805.6 L169.6,807.1 L170.4,805.6 L171.3,807.6 L172.2,802.8 L173.0,807.6 L173.9,805.2 L174.7,807.2 L175.6,805.3 L176.5,806.5 L177.3,807.6 L178.2,804.0 L179.0,805.1 L179.9,804.8 L180.8,805.5 L181.6,802.5 L182.5,805.1 L183.3,805.0 L184.2,804.2 L185.1,805.2 L185.9,802.9 L186.8,807.9 L187.6,806.1 L188.5,808.4 L189.4,803.5 L190.2,802.7 L191.1,804.9 L191.9,801.2 L192.8,804.1 L193.7,802.2 L194.5,802.5 L195.4,803.2 L196.2,802.7 L197.1,805.7 L198.0,803.5 L198.8,800.1 L199.7,803.9 L200.5,799.9 L201.4,802.2 L202.3,799.7 L203.1,800.3 L204.0,803.7 L204.8,800.3 L205.7,800.0 L206.6,799.9 L207.4,800.2 L208.3,803.1 L209.1,798.5 L210.0,798.4 L210.9,801.5 L211.7,797.7 L212.6,799.8 L213.4,802.3 L214.3,800.3 L215.2,799.3 L216.0,798.7 L216.9,798.1 L217.7,798.3 L218.6,799.2 L219.5,800.8 L220.3,800.0 L221.2,797.0 L222.0,796.4 L222.9,798.6 L223.8,794.1 L224.6,796.3 L225.5,796.5 L226.3,795.1 L227.2,795.4 L228.1,797.8 L228.9,794.4 L229.8,795.8 L230.6,796.4 L231.5,797.7 L232.4,795.1 L233.2,799.4 L234.1,796.7 L234.9,796.6 L235.8,796.2 L236.7,795.5 L237.5,794.7 L238.4,798.3 L239.2,796.4 L240.1,795.7 L241.0,797.4 L241.8,794.2 L242.7,796.3 L243.5,794.9 L244.4,793.1 L245.3,795.7 L246.1,791.4 L247.0,795.0 L247.8,792.0 L248.7,794.1 L249.6,795.6 L250.4,794.0 L251.3,791.8 L252.1,792.7 L253.0,792.0 L253.9,790.5 L254.7,790.6 L255.6,792.6 L256.4,793.3 L257.3,789.1 L258.2,791.9 L259.0,792.6 L259.9,791.6 L260.7,789.3 L261.6,792.5 L262.5,788.1 L263.3,791.1 L264.2,792.5 L265.0,785.8 L265.9,789.6 L266.8,789.6 L267.6,789.2 L268.5,787.3 L269.3,788.0 L270.2,785.9 L271.1,788.4 L271.9,788.9 L272.8,786.5 L273.6,785.8 L274.5,786.3 L275.4,786.9 L276.2,786.7 L277.1,786.0 L277.9,786.0 L278.8,783.2 L279.7,780.4 L280.5,786.2 L281.4,787.5 L282.2,782.2 L283.1,783.5 L284.0,785.2 L284.8,786.2 L285.7,785.5 L286.5,786.4 L287.4,783.8 L288.3,784.3 L289.1,784.0 L290.0,782.2 L290.8,784.9 L291.7,783.5 L292.6,783.8 L293.4,781.0 L294.3,783.1 L295.1,778.9 L296.0,781.1 L296.9,775.3 L297.7,777.8 L298.6,780.7 L299.4,778.3 L300.3,779.3 L301.2,775.8 L302.0,781.4 L302.9,779.5 L303.7,778.1 L304.6,778.7 L305.5,778.3 L306.3,780.1 L307.2,777.6 L308.0,774.3 L308.9,776.4 L309.8,779.1 L310.6,777.7 L311.5,775.8 L312.3,777.5 L313.2,776.4 L314.1,777.1 L314.9,772.8 L315.8,773.8 L316.6,776.4 L317.5,774.4 L318.4,775.1 L319.2,777.7 L320.1,773.0 L320.9,773.7 L321.8,771.8 L322.7,771.3 L323.5,772.0 L324.4,769.2 L325.2,767.7 L326.1,774.1 L327.0,771.1 L327.8,773.3 L328.7,771.2 L329.5,771.1 L330.4,771.8 L331.3,771.7 L332.1,767.7 L333.0,772.0 L333.8,767.5 L334.7,769.4 L335.6,773.5 L336.4,768.5 L337.3,771.2 L338.1,767.0 L339.0,768.6 L339.9,767.3 L340.7,767.9 L341.6,765.3 L342.4,765.0 L343.3,767.3 L344.2,763.6 L345.0,764.8 L345.9,767.5 L346.7,764.9 L347.6,764.1 L348.5,763.4 L349.3,765.6 L350.2,764.3 L351.0,764.9 L351.9,764.0 L352.8,767.6 L353.6,762.8 L354.5,759.6 L355.3,763.3 L356.2,762.7 L357.1,762.7 L357.9,758.9 L358.8,763.9 L359.6,761.2 L360.5,760.8 L361.4,757.4 L362.2,761.2 L363.1,759.8 L363.9,762.4 L364.8,758.7 L365.7,756.9 L366.5,759.4 L367.4,757.2 L368.2,759.6 L369.1,756.4 L370.0,758.1 L370.8,757.7 L371.7,757.9 L372.5,756.7 L373.4,755.9 L374.3,757.2 L375.1,755.8 L376.0,757.0 L376.8,755.7 L377.7,751.3 L378.6,755.4 L379.4,757.9 L380.3,755.3 L381.1,755.5 L382.0,754.9 L382.9,752.7 L383.7,750.6 L384.6,754.8 L385.4,755.0 L386.3,753.9 L387.2,753.4 L388.0,753.3 L388.9,752.4 L389.7,753.0 L390.6,752.5 L391.5,753.2 L392.3,750.7 L393.2,751.4 L394.0,754.0 L394.9,752.2 L395.8,747.9 L396.6,753.1 L397.5,748.0 L398.3,756.5 L399.2,753.8 L400.1,753.3 L400.9,750.2 L401.8,748.8 L402.6,750.3 L403.5,750.4 L404.4,748.4 L405.2,749.9 L406.1,750.6 L406.9,750.1 L407.8,746.2 L408.7,743.5 L409.5,747.8 L410.4,746.2 L411.2,748.3 L412.1,750.7 L413.0,750.6 L413.8,747.7 L414.7,749.4 L415.5,750.5 L416.4,747.1 L417.3,747.5 L418.1,748.6 L419.0,746.6 L419.8,745.4 L420.7,744.6 L421.6,745.9 L422.4,744.3 L423.3,746.9 L424.1,744.3 L425.0,747.7 L425.9,746.9 L426.7,741.6 L427.6,746.2 L428.4,742.9 L429.3,746.4 L430.2,744.4 L431.0,743.1 L431.9,744.4 L432.7,741.7 L433.6,743.3 L434.5,743.2 L435.3,741.9 L436.2,742.8 L437.0,739.8 L437.9,742.7 L438.8,739.0 L439.6,742.6 L440.5,742.2 L441.3,742.6 L442.2,739.9 L443.1,747.1 L443.9,740.3 L444.8,740.9 L445.6,738.9 L446.5,743.1 L447.4,738.9 L448.2,741.6 L449.1,737.3 L449.9,739.5 L450.8,737.6 L451.7,739.9 L452.5,736.9 L453.4,735.3 L454.2,737.6 L455.1,733.8 L456.0,734.0 L456.8,737.4 L457.7,731.6 L458.5,736.9 L459.4,734.2 L460.3,732.9 L461.1,735.1 L462.0,735.7 L462.8,732.9 L463.7,733.5 L464.6,735.3 L465.4,735.0 L466.3,733.0 L467.1,731.1 L468.0,730.4 L468.9,730.9 L469.7,733.4 L470.6,733.0 L471.4,732.2 L472.3,734.5 L473.2,730.8 L474.0,730.6 L474.9,730.6 L475.7,735.7 L476.6,726.9 L477.5,732.0 L478.3,732.3 L479.2,731.2 L480.0,736.2 L480.9,733.2 L481.8,732.0 L482.6,727.8 L483.5,730.6 L484.3,728.4 L485.2,729.1 L486.1,729.3 L486.9,727.6 L487.8,730.0 L488.6,732.2 L489.5,730.7 L490.4,728.7 L491.2,723.5 L492.1,730.2 L492.9,730.0 L493.8,726.8 L494.7,726.0 L495.5,728.6 L496.4,725.2 L497.2,729.0 L498.1,724.8 L499.0,725.4 L499.8,727.7 L500.7,724.3 L501.5,727.7 L502.4,728.9 L503.3,724.5 L504.1,729.6 L505.0,726.0 L505.8,728.4 L506.7,727.6 L507.6,725.9 L508.4,725.7 L509.3,722.9 L510.1,725.3 L511.0,725.1 L511.9,730.9 L512.7,729.6 L513.6,724.2 L514.4,729.6 L515.3,728.5 L516.2,727.4 L517.0,729.6 L517.9,730.6 L518.7,727.3 L519.6,727.8 L520.5,728.6 L521.3,725.5 L522.2,727.8 L523.0,726.7 L523.9,724.8 L524.8,724.0 L525.6,726.4 L526.5,727.5 L527.3,726.0 L528.2,722.9 L529.1,726.6 L529.9,725.1 L530.8,725.9 L531.6,727.2 L532.5,721.9 L533.4,723.6 L534.2,722.3 L535.1,721.5 L535.9,728.5 L536.8,725.9 L537.7,719.2 L538.5,724.7 L539.4,722.4 L540.2,726.7 L541.1,724.3 L542.0,723.9 L542.8,725.0 L543.7,725.8 L544.5,725.1 L545.4,724.7 L546.3,725.1 L547.1,726.8 L548.0,722.9 L548.8,725.7 L549.7,725.5 L550.6,724.5 L551.4,727.4 L552.3,722.2 L553.1,724.3 L554.0,722.9 L554.9,726.2 L555.7,723.5 L556.6,724.6 L557.4,725.3 L558.3,720.3 L559.2,725.4 L560.0,722.4 L560.9,723.7 L561.7,724.1 L562.6,726.5 L563.5,726.4 L564.3,729.0 L565.2,725.1 L566.0,723.4 L566.9,723.3 L567.8,726.0 L568.6,728.2 L569.5,724.9 L570.3,722.5 L571.2,724.4 L572.1,724.2 L572.9,723.5 L573.8,721.4 L574.6,716.8 L575.5,721.7 L576.4,725.5 L577.2,723.4 L578.1,717.4 L578.9,723.0 L579.8,718.6 L580.7,728.4 L581.5,724.3 L582.4,721.4 L583.2,726.5 L584.1,723.1 L585.0,726.6 L585.8,725.5 L586.7,722.7 L587.5,727.0 L588.4,722.4 L589.3,728.4 L590.1,725.4 L591.0,722.9 L591.8,721.2 L592.7,729.1 L593.6,728.9 L594.4,723.0 L595.3,730.0 L596.1,727.0 L597.0,726.4 L597.9,727.0 L598.7,726.9 L599.6,731.0 L600.4,728.1 L601.3,723.4 L602.2,732.7 L603.0,729.7 L603.9,724.8 L604.7,726.4 L605.6,725.0 L606.5,727.3 L607.3,728.1 L608.2,727.8 L609.0,725.8 L609.9,725.4 L610.8,729.4 L611.6,727.3 L612.5,732.9 L613.3,725.8 L614.2,729.7 L615.1,728.1 L615.9,726.4 L616.8,731.4 L617.6,728.6 L618.5,726.2 L619.4,727.5 L620.2,730.4 L621.1,724.9 L621.9,730.7 L622.8,728.7 L623.7,725.9 L624.5,729.4 L625.4,730.0 L626.2,726.9 L627.1,725.7 L628.0,729.8 L628.8,729.0 L629.7,723.1 L630.5,725.1 L631.4,725.2 L632.3,725.0 L633.1,722.5 L634.0,728.4 L634.8,726.6 L635.7,726.8 L636.6,729.9 L637.4,725.4 L638.3,726.6 L639.1,727.4 L640.0,725.7 L640.9,726.4 L641.7,728.4 L642.6,726.6 L643.4,729.7 L644.3,725.0 L645.2,727.3 L646.0,723.7 L646.9,726.8 L647.7,725.5 L648.6,730.2 L649.5,728.9 L650.3,728.4 L651.2,731.4 L652.0,730.5 L652.9,729.0 L653.8,725.9 L654.6,724.3 L655.5,727.8 L656.3,727.3 L657.2,726.9 L658.1,727.9 L658.9,725.1 L659.8,732.6 L660.6,726.9 L661.5,728.2 L662.4,731.2 L663.2,726.4 L664.1,732.4 L664.9,732.5 L665.8,729.8 L666.7,728.1 L667.5,729.6 L668.4,726.5 L669.2,734.0 L670.1,731.0 L671.0,729.2 L671.8,728.7 L672.7,732.0 L673.5,734.0 L674.4,727.7 L675.3,729.3 L676.1,726.8 L677.0,732.5 L677.8,731.7 L678.7,736.8 L679.6,732.0 L680.4,731.8 L681.3,731.7 L682.1,735.5 L683.0,730.4 L683.9,735.9 L684.7,735.0 L685.6,733.5 L686.4,732.7 L687.3,737.0 L688.2,738.7 L689.0,733.8 L689.9,735.9 L690.7,738.4 L691.6,733.4 L692.5,734.2 L693.3,732.2 L694.2,734.6 L695.0,735.0 L695.9,734.5 L696.8,734.2 L697.6,732.9 L698.5,733.9 L699.3,735.3 L700.2,739.2 L701.1,737.3 L701.9,737.1 L702.8,740.7 L703.6,740.8 L704.5,738.2 L705.4,738.6 L706.2,741.4 L707.1,740.8 L707.9,738.2 L708.8,740.5 L709.7,740.0 L710.5,742.7 L711.4,738.6 L712.2,742.6 L713.1,741.9 L714.0,739.1 L714.8,743.9 L715.7,743.9 L716.5,739.3 L717.4,746.8 L718.3,740.2 L719.1,740.9 L720.0,742.3 L720.8,744.7 L721.7,744.3 L722.6,742.9 L723.4,746.1 L724.3,744.0 L725.1,746.3 L726.0,749.5 L726.9,744.0 L727.7,738.3 L728.6,743.2 L729.4,742.1 L730.3,744.8 L731.2,745.0 L732.0,742.3 L732.9,742.7 L733.7,744.8 L734.6,745.1 L735.5,740.0 L736.3,747.9 L737.2,745.9 L738.0,745.8 L738.9,746.5 L739.8,743.6 L740.6,745.7 L741.5,748.0 L742.3,748.0 L743.2,746.7 L744.1,745.1 L744.9,744.1 L745.8,748.9 L746.6,747.4 L747.5,745.6 L748.4,742.2 L749.2,745.3 L750.1,743.4 L750.9,750.6 L751.8,748.6 L752.7,747.0 L753.5,748.3 L754.4,754.7 L755.2,752.1 L756.1,747.0 L757.0,749.9 L757.8,747.9 L758.7,747.2 L759.5,751.5 L760.4,756.4 L761.3,754.9 L762.1,751.9 L763.0,751.3 L763.8,752.6 L764.7,754.5 L765.6,749.6 L766.4,749.1 L767.3,757.1 L768.1,754.1 L769.0,757.2 L769.9,754.7 L770.7,757.5 L771.6,753.5 L772.4,756.0 L773.3,758.3 L774.2,757.4 L775.0,754.6 L775.9,757.6 L776.7,754.6 L777.6,753.2 L778.5,757.4 L779.3,759.4 L780.2,758.5 L781.0,754.5 L781.9,759.0 L782.8,758.9 L783.6,756.8 L784.5,752.9 L785.3,760.2 L786.2,760.2 L787.1,759.6 L787.9,755.3 L788.8,756.0 L789.6,761.1 L790.5,760.8 L791.4,760.3 L792.2,758.9 L793.1,760.3 L793.9,758.5 L794.8,759.2 L795.7,758.3 L796.5,760.8 L797.4,759.7 L798.2,762.8 L799.1,762.8 L800.0,760.2 L800.8,765.9 L801.7,760.5 L802.5,764.1 L803.4,765.9 L804.3,766.7 L805.1,760.1 L806.0,766.8 L806.8,767.5 L807.7,768.1 L808.6,761.0 L809.4,764.2 L810.3,765.4 L811.1,765.0 L812.0,768.7 L812.9,765.0 L813.7,769.1 L814.6,768.0 L815.4,764.3 L816.3,765.4 L817.2,766.6 L818.0,767.8 L818.9,769.7 L819.7,767.6 L820.6,770.0 L821.5,765.4 L822.3,763.0 L823.2,768.8 L824.0,770.9 L824.9,769.9 L825.8,769.2 L826.6,772.5 L827.5,775.9 L828.3,772.3 L829.2,771.5 L830.1,771.5 L830.9,777.2 L831.8,773.5 L832.6,774.9 L833.5,776.2 L834.4,776.1 L835.2,772.3 L836.1,776.0 L836.9,775.8 L837.8,775.2 L838.7,776.4 L839.5,773.5 L840.4,774.7 L841.2,774.2 L842.1,777.0 L843.0,774.8 L843.8,777.2 L844.7,774.8 L845.5,777.1 L846.4,777.0 L847.3,777.7 L848.1,778.4 L849.0,778.0 L849.8,778.0 L850.7,774.6 L851.6,780.8 L852.4,777.6 L853.3,778.4 L854.1,777.4 L855.0,781.1 L855.9,777.6 L856.7,780.5 L857.6,781.9 L858.4,782.8 L859.3,782.0 L860.2,780.9 L861.0,777.3 L861.9,782.2 L862.7,782.1 L863.6,781.5 L864.5,781.7 L865.3,780.5 L866.2,779.7 L867.0,783.2 L867.9,784.0 L868.8,779.8 L869.6,784.1 L870.5,783.1 L871.3,784.7 L872.2,783.7 L873.1,785.4 L873.9,785.3 L874.8,785.0 L875.6,780.6 L876.5,784.8 L877.4,783.3 L878.2,781.0 L879.1,784.7 L879.9,780.8 L880.8,785.4 L881.7,787.1 L882.5,783.2 L883.4,786.3 L884.2,785.7 L885.1,786.4 L886.0,782.8 L886.8,786.7 L887.7,785.9 L888.5,787.1 L889.4,785.7 L890.3,787.8 L891.1,786.2 L892.0,787.1 L892.8,788.5 L893.7,786.5 L894.6,788.2 L895.4,787.0 L896.3,787.8 L897.1,786.0 L898.0,788.7 L898.9,789.7 L899.7,787.4 L900.6,789.3 L901.4,788.7 L902.3,786.0 L903.2,788.8 L904.0,790.7 L904.9,787.4 L905.7,785.0 L906.6,788.9 L907.5,787.4 L908.3,792.4 L909.2,789.0 L910.0,789.3 L910.9,788.4 L911.8,790.4 L912.6,789.1 L913.5,788.7 L914.3,790.5 L915.2,789.3 L916.1,793.5 L916.9,789.0 L917.8,791.3 L918.6,790.3 L919.5,789.2 L920.4,795.1 L921.2,788.1 L922.1,794.9 L922.9,789.6 L923.8,792.4 L924.7,796.5 L925.5,788.4 L926.4,789.8 L927.2,794.9 L928.1,792.8 L929.0,791.6 L929.8,792.7 L930.7,791.1 L931.5,793.2 L932.4,795.9 L933.3,792.6 L934.1,793.7 L935.0,795.7 L935.8,797.3 L936.7,792.8 L937.6,794.5 L938.4,793.1 L939.3,793.1 L940.1,793.7 L941.0,793.4 L941.9,791.5 L942.7,791.2 L943.6,793.6 L944.4,795.4 L945.3,797.5 L946.2,794.7 L947.0,795.6 L947.9,797.4 L948.7,797.8 L949.6,796.5 L950.5,796.7 L951.3,800.3 L952.2,796.3 L953.0,796.0 L953.9,793.8 L954.8,797.6 L955.6,796.2 L956.5,800.2 L957.3,795.9 L958.2,798.0 L959.1,798.1 L959.9,799.4 L960.8,793.7 L961.6,799.1 L962.5,796.1 L963.4,795.9 L964.2,795.6 L965.1,795.6 L965.9,795.9 L966.8,792.3 L967.7,798.0 L968.5,797.4 L969.4,795.7 L970.2,797.7 L971.1,802.4 L972.0,799.0 L972.8,797.6 L973.7,801.6 L974.5,796.8 L975.4,797.9 L976.3,796.9 L977.1,797.3 L978.0,798.9 L978.8,798.5 L979.7,795.9 L980.6,797.0 L981.4,797.4 L982.3,796.6 L983.1,797.5 L984.0,796.4 L984.9,796.6 L985.7,798.2 L986.6,796.3 L987.4,799.1 L988.3,798.0 L989.2,796.8 L990.0,797.3 L990.9,797.6 L991.7,798.2 L992.6,798.6 L993.5,798.0 L994.3,796.8 L995.2,801.0 L996.0,800.0 L996.9,798.7 L997.8,800.3 L998.6,799.3 L999.5,798.5 L1000.3,799.5 L1001.2,804.5 L1002.1,801.7 L1002.9,802.1 L1003.8,799.7 L1004.6,801.6 L1005.5,804.7 L1006.4,801.4 L1007.2,802.5 L1008.1,802.8 L1008.9,801.7 L1009.8,803.4 L1010.7,801.0 L1011.5,801.5 L1012.4,799.5 L1013.2,805.4 L1014.1,801.2 L1015.0,800.9 L1015.8,803.2 L1016.7,799.8 L1017.5,800.6 L1018.4,799.2 L1019.3,800.5 L1020.1,799.6 L1021.0,801.1 L1021.8,799.7 L1022.7,798.7 L1023.6,799.0 L1024.4,799.2 L1025.3,798.4 L1026.1,801.1 L1027.0,800.6 L1027.9,799.8 L1028.7,797.5 L1029.6,800.9 L1030.4,797.9 L1031.3,800.8 L1032.2,800.8 L1033.0,799.8 L1033.9,799.5 L1034.7,799.9 L1035.6,805.1 L1036.5,800.9 L1037.3,801.1 L1038.2,803.4 L1039.0,802.5 L1039.9,803.8 L1040.8,799.6 L1041.6,799.8 L1042.5,807.8 L1043.3,801.3 L1044.2,800.5 L1045.1,801.0 L1045.9,802.2 L1046.8,797.9 L1047.6,800.3 L1048.5,799.6 L1049.4,800.9 L1050.2,800.0 L1051.1,798.7 L1051.9,798.2 L1052.8,795.3 L1053.7,801.6 L1054.5,797.1 L1055.4,799.1 L1056.2,802.9 L1057.1,799.1 L1058.0,801.1 L1058.8,799.8 L1059.7,801.7 L1060.5,800.7 L1061.4,800.0 L1062.3,803.6 L1063.1,800.8 L1064.0,798.9 L1064.8,800.8 L1065.7,802.4 L1066.6,799.3 L1067.4,802.6 L1068.3,802.5 L1069.1,804.8 L1070.0,799.6 L1070.9,801.9 L1071.7,797.5 L1072.6,799.6 L1073.4,800.4 L1074.3,800.8 L1075.2,799.8 L1076.0,799.5 L1076.9,798.4 L1077.7,798.6 L1078.6,799.8 L1079.5,800.2 L1080.3,800.4 L1081.2,801.1 L1082.0,801.5 L1082.9,796.0 L1083.8,798.4 L1084.6,799.2 L1085.5,798.4 L1086.3,801.6 L1087.2,801.1 L1088.1,799.6 L1088.9,800.0 L1089.8,802.2 L1090.6,799.1 L1091.5,799.1 L1092.4,801.3 L1093.2,800.3 L1094.1,802.0 L1094.9,800.0 L1095.8,800.7 L1096.7,798.4 L1097.5,797.8 L1098.4,799.6 L1099.2,794.9 L1100.1,800.7 L1101.0,801.8 L1101.8,800.2 L1102.7,799.7 L1103.5,802.0 L1104.4,799.9 L1105.3,801.7 L1106.1,803.8 L1107.0,801.1 L1107.8,801.4 L1108.7,800.6 L1109.6,800.2 L1110.4,800.3 L1111.3,799.9 L1112.1,801.8 L1113.0,796.7 L1113.9,799.0 L1114.7,800.4 L1115.6,797.4 L1116.4,798.5 L1117.3,797.2 L1118.2,799.2 L1119.0,800.0 L1119.9,801.1 L1120.7,799.4 L1121.6,797.3 L1122.5,799.2 L1123.3,799.9 L1124.2,801.6 L1125.0,795.2 L1125.9,800.1 L1126.8,796.2 L1127.6,801.1 L1128.5,800.8 L1129.3,801.0 L1130.2,801.8 L1131.1,800.9 L1131.9,799.0 L1132.8,800.9 L1133.6,802.4 L1134.5,800.1 L1135.4,800.4 L1136.2,798.2 L1137.1,802.6 L1137.9,799.6 L1138.8,799.1 L1139.7,799.6 L1140.5,798.8 L1141.4,799.9 L1142.2,802.7 L1143.1,801.8 L1144.0,803.0 L1144.8,803.2 L1145.7,798.9 L1146.5,801.6 L1147.4,803.5 L1148.3,805.1 L1149.1,798.3 L1150.0,798.3 L1150.8,801.8 L1151.7,800.4 L1152.6,799.2 L1153.4,801.7 L1154.3,799.6 L1155.1,796.9 L1156.0,801.0 L1156.9,801.2 L1157.7,802.1 L1158.6,802.6 L1159.4,801.2 L1160.3,800.4 L1161.2,799.6 L1162.0,797.8 L1162.9,800.1 L1163.7,802.8 L1164.6,802.3 L1165.5,804.9 L1166.3,800.9 L1167.2,798.0 L1168.0,802.6 L1168.9,802.9 L1169.8,798.7 L1170.6,797.7 L1171.5,800.8 L1172.3,801.7 L1173.2,798.2 L1174.1,799.6 L1174.9,798.8 L1175.8,798.1 L1176.6,797.9 L1177.5,800.7 L1178.4,799.8 L1179.2,799.4 L1180.1,795.9 L1180.9,803.9 L1181.8,799.1 L1182.7,800.6 L1183.5,798.8 L1184.4,801.6 L1185.2,798.2 L1186.1,801.1 L1187.0,800.6 L1187.8,802.5 L1188.7,798.8 L1189.5,799.5 L1190.4,800.1 L1191.3,804.2 L1192.1,797.7 L1193.0,800.9 L1193.8,799.2 L1194.7,801.0 L1195.6,801.6 L1196.4,800.8 L1197.3,801.0 L1198.1,801.1 L1199.0,799.5 L1199.9,800.2 L1200.7,797.5 L1201.6,799.9 L1202.4,799.2 L1203.3,800.1 L1204.2,801.9 L1205.0,801.3 L1205.9,801.5 L1206.7,802.7 L1207.6,796.4 L1208.5,801.6 L1209.3,800.8 L1210.2,800.6 L1211.0,798.4 L1211.9,801.8 L1212.8,802.9 L1213.6,802.7 L1214.5,800.6 L1215.3,801.9 L1216.2,802.4 L1217.1,803.9 L1217.9,802.7 L1218.8,800.7 L1219.6,800.5 L1220.5,800.6 L1221.4,800.7 L1222.2,799.5 L1223.1,801.9 L1223.9,799.5 L1224.8,799.5 L1225.7,801.8 L1226.5,800.3 L1227.4,801.0 L1228.2,797.7 L1229.1,802.8 L1230.0,801.3 L1230.8,800.9 L1231.7,801.9 L1232.5,801.4 L1233.4,799.7 L1234.3,804.6 L1235.1,800.4 L1236.0,803.1 L1236.8,804.8 L1237.7,800.6 L1238.6,802.0 L1239.4,800.6 L1240.3,804.0 L1241.1,801.6 L1242.0,800.4 L1242.9,804.7 L1243.7,804.1 L1244.6,801.0 L1245.4,804.7 L1246.3,803.0 L1247.2,807.5 L1248.0,805.8 L1248.9,801.8 L1249.7,802.2 L1250.6,801.1 L1251.5,802.7 L1252.3,802.4 L1253.2,803.4 L1254.0,802.0 L1254.9,799.0 L1255.8,799.9 L1256.6,803.6 L1257.5,803.0 L1258.3,800.6 L1259.2,800.6 L1260.1,800.7 L1260.9,801.2 L1261.8,798.5 L1262.6,803.2 L1263.5,800.8 L1264.4,802.4 L1265.2,797.9 L1266.1,802.8 L1266.9,804.8 L1267.8,798.7 L1268.7,805.2 L1269.5,803.4 L1270.4,801.3 L1271.2,799.9 L1272.1,804.7 L1273.0,803.2 L1273.8,803.8 L1274.7,802.5 L1275.5,801.7 L1276.4,804.6 L1277.3,801.6 L1278.1,804.9 L1279.0,800.7 L1279.8,802.1 L1280.7,801.4 L1281.6,806.3 L1282.4,801.2 L1283.3,802.4 L1284.1,805.6 L1285.0,804.9 L1285.9,808.3 L1286.7,807.7 L1287.6,805.5 L1288.4,805.6 L1289.3,801.2 L1290.2,802.7 L1291.0,803.5 L1291.9,803.7 L1292.7,801.6 L1293.6,802.3 L1294.5,802.5 L1295.3,806.0 L1296.2,805.0 L1297.0,803.9 L1297.9,804.2 L1298.8,805.3 L1299.6,803.7 L1300.5,804.5 L1301.3,802.0 L1302.2,806.0 L1303.1,806.4 L1303.9,805.3 L1304.8,805.4 L1305.6,805.2 L1306.5,808.0 L1307.4,804.9 L1308.2,802.3 L1309.1,802.9 L1309.9,806.1 L1310.8,806.8 L1311.7,806.4 L1312.5,806.6 L1313.4,805.5 L1314.2,802.6 L1315.1,803.8 L1316.0,801.8 L1316.8,804.1 L1317.7,802.3 L1318.5,804.7 L1319.4,804.1 L1320.3,801.1 L1321.1,805.8 L1322.0,806.0 L1322.8,802.6 L1323.7,805.4 L1324.6,806.6 L1325.4,805.0 L1326.3,807.1 L1327.1,805.9 L1328.0,807.4 L1328.9,805.8 L1329.7,805.0 L1330.6,806.1 L1331.4,806.4 L1332.3,805.5 L1333.2,804.2 L1334.0,803.7 L1334.9,804.4 L1335.7,804.1 L1336.6,805.4 L1337.5,805.4 L1338.3,805.1 L1339.2,805.3 L1340.0,805.7 L1340.9,808.1 L1341.8,807.7 L1342.6,804.8 L1343.5,806.6 L1344.3,805.5 L1345.2,806.1 L1346.1,806.1 L1346.9,805.6 L1347.8,804.5 L1348.6,802.8 L1349.5,807.5 L1350.4,809.2 L1351.2,805.8 L1352.1,808.1 L1352.9,806.6 L1353.8,807.6 L1354.7,805.7 L1355.5,806.5 L1356.4,806.6 L1357.2,802.7 L1358.1,807.0 L1359.0,806.3 L1359.8,802.3 L1360.7,807.6 L1361.5,806.4 L1362.4,806.9 L1363.3,807.2 L1364.1,805.9 L1365.0,804.8 L1365.8,805.9 L1366.7,806.0 L1367.6,810.4 L1368.4,809.7 L1369.3,805.7 L1370.1,805.8 L1371.0,807.0 L1371.9,807.3 L1372.7,805.2 L1373.6,804.6 L1374.4,809.5 L1375.3,808.0 L1376.2,803.6 L1377.0,803.3 L1377.9,804.9 L1378.7,806.7 L1379.6,807.3 L1380.5,805.9 L1381.3,803.9 L1382.2,807.0 L1383.0,807.8 L1383.9,806.8 L1384.8,806.0 L1385.6,807.9 L1386.5,806.9 L1387.3,805.1 L1388.2,807.2 L1389.1,804.9 L1389.9,808.7 L1390.8,808.0 L1391.6,805.6 L1392.5,807.7 L1393.4,809.5 L1394.2,803.8 L1395.1,807.2 L1395.9,810.2 L1396.8,804.8 L1397.7,807.1 L1398.5,804.9 L1399.4,807.1 L1400.2,803.2 L1401.1,804.5 L1402.0,806.3 L1402.8,807.5 L1403.7,808.1 L1404.5,808.3 L1405.4,809.6 L1406.3,809.0 L1407.1,809.1 L1408.0,806.3 L1408.8,807.7 L1409.7,813.3 L1410.6,811.8 L1411.4,809.4 L1412.3,809.3 L1413.1,809.7 L1414.0,807.4 L1414.9,811.4 L1415.7,807.5 L1416.6,808.0 L1417.4,811.8 L1418.3,804.6 L1419.2,808.6 L1420.0,805.1 L1420.9,806.8 L1421.7,807.7 L1422.6,807.2 L1423.5,808.0 L1424.3,806.4 L1425.2,807.4 L1426.0,805.5 L1426.9,806.8 L1427.8,805.1 L1428.6,808.6 L1429.5,805.4 L1430.3,808.8 L1431.2,807.1 L1432.1,807.4 L1432.9,810.0 L1433.8,808.3 L1434.6,805.1 L1435.5,809.1 L1436.4,803.5 L1437.2,808.9 L1438.1,807.9 L1438.9,806.4 L1439.8,809.1 L1440.7,808.6 L1441.5,812.5 L1442.4,808.5 L1443.2,812.5 L1444.1,811.4 L1445.0,808.0 L1445.8,807.4 L1446.7,810.7 L1447.5,808.1 L1448.4,808.4 L1449.3,807.6 L1450.1,805.9 L1451.0,807.4 L1451.8,806.5 L1452.7,805.7 L1453.6,807.9 L1454.4,811.5 L1455.3,811.4 L1456.1,808.8 L1457.0,809.3 L1457.9,810.0 L1458.7,811.6 L1459.6,809.9 L1460.4,808.7 L1461.3,808.9 L1462.2,811.5 L1463.0,814.0 L1463.9,808.7 L1464.7,806.4 L1465.6,811.2 L1466.5,809.8 L1467.3,810.2 L1468.2,812.1 L1469.0,810.2 L1469.9,807.8 L1470.8,806.7 L1471.6,809.8 L1472.5,807.8 L1473.3,809.9 L1474.2,807.2 L1475.1,808.5 L1475.9,806.4 L1476.8,808.1 L1477.6,807.9 L1478.5,809.5 L1479.4,810.7 L1480.2,808.2 L1481.1,807.2 L1481.9,811.8 L1482.8,809.3 L1483.7,809.8 L1484.5,809.8 L1485.4,811.2 L1486.2,810.5 L1487.1,809.9 L1488.0,810.0 L1488.8,807.3 L1489.7,807.7 L1490.5,808.5 L1491.4,808.9 L1492.3,808.9 L1493.1,809.4 L1494.0,809.1 L1494.8,808.4 L1495.7,806.6 L1496.6,810.7 L1497.4,810.4 L1498.3,808.1 L1499.1,810.4 L1500.0,810.3 L1500.9,809.9 L1501.7,806.8 L1502.6,807.9 L1503.4,808.8 L1504.3,812.4 L1505.2,808.4 L1506.0,809.2 L1506.9,807.9 L1507.7,808.9 L1508.6,810.2 L1509.5,806.4 L1510.3,805.2 L1511.2,810.8 L1512.0,809.7 L1512.9,808.7 L1513.8,811.1 L1514.6,811.0 L1515.5,806.0 L1516.3,809.0 L1517.2,811.0 L1518.1,808.2 L1518.9,808.8 L1519.8,810.9 L1520.6,809.0 L1521.5,807.5 L1522.4,808.4 L1523.2,807.4 L1524.1,810.4 L1524.9,806.8 L1525.8,811.1 L1526.7,806.9 L1527.5,809.5 L1528.4,807.0 L1529.2,808.8 L1530.1,810.8 L1531.0,810.9 L1531.8,811.1 L1532.7,809.0 L1533.5,809.4 L1534.4,809.7 L1535.3,810.5 L1536.1,809.2 L1537.0,811.7 L1537.8,810.6" fill="none" stroke="#fdbe16" stroke-width="5.6" stroke-linejoin="round" stroke-linecap="butt"/>
<path d="M38.0,936.8 L38.9,934.9 L39.7,935.7 L40.6,936.6 L41.4,933.8 L42.3,937.7 L43.2,937.0 L44.0,935.1 L44.9,934.5 L45.7,941.9 L46.6,937.1 L47.5,937.3 L48.3,938.8 L49.2,937.5 L50.0,936.3 L50.9,937.1 L51.8,934.4 L52.6,937.0 L53.5,933.2 L54.3,936.4 L55.2,936.6 L56.1,933.1 L56.9,938.8 L57.8,933.8 L58.6,937.4 L59.5,934.9 L60.4,936.2 L61.2,934.7 L62.1,939.7 L62.9,937.2 L63.8,938.4 L64.7,936.5 L65.5,936.3 L66.4,935.3 L67.2,934.6 L68.1,936.0 L69.0,935.4 L69.8,935.0 L70.7,933.2 L71.5,935.0 L72.4,936.6 L73.3,935.0 L74.1,936.4 L75.0,935.6 L75.8,934.2 L76.7,934.4 L77.6,934.7 L78.4,935.4 L79.3,935.5 L80.1,937.8 L81.0,934.5 L81.9,933.1 L82.7,937.6 L83.6,936.0 L84.4,936.7 L85.3,941.0 L86.2,939.4 L87.0,938.0 L87.9,938.6 L88.7,937.3 L89.6,938.5 L90.5,935.9 L91.3,935.7 L92.2,936.0 L93.0,939.1 L93.9,939.0 L94.8,935.4 L95.6,938.1 L96.5,935.9 L97.3,937.7 L98.2,935.4 L99.1,937.4 L99.9,935.7 L100.8,935.4 L101.6,935.9 L102.5,936.3 L103.4,935.2 L104.2,934.0 L105.1,939.0 L105.9,935.7 L106.8,933.6 L107.7,933.0 L108.5,932.2 L109.4,935.8 L110.2,939.0 L111.1,934.2 L112.0,936.3 L112.8,933.8 L113.7,938.5 L114.5,937.2 L115.4,937.1 L116.3,938.7 L117.1,939.2 L118.0,938.2 L118.8,935.7 L119.7,934.6 L120.6,935.0 L121.4,933.9 L122.3,939.5 L123.1,936.3 L124.0,936.6 L124.9,936.6 L125.7,939.2 L126.6,934.9 L127.4,937.5 L128.3,936.0 L129.2,935.2 L130.0,932.4 L130.9,937.0 L131.7,934.5 L132.6,935.1 L133.5,936.3 L134.3,936.2 L135.2,937.9 L136.0,935.1 L136.9,936.4 L137.8,936.5 L138.6,936.0 L139.5,937.1 L140.3,935.5 L141.2,937.9 L142.1,934.8 L142.9,933.6 L143.8,935.9 L144.6,937.8 L145.5,935.0 L146.4,934.8 L147.2,935.2 L148.1,936.0 L148.9,935.5 L149.8,936.3 L150.7,933.0 L151.5,938.3 L152.4,936.8 L153.2,934.3 L154.1,937.9 L155.0,936.2 L155.8,937.7 L156.7,933.1 L157.5,937.7 L158.4,934.9 L159.3,931.4 L160.1,936.1 L161.0,934.4 L161.8,933.4 L162.7,934.9 L163.6,932.1 L164.4,936.5 L165.3,935.1 L166.1,935.0 L167.0,937.7 L167.9,935.2 L168.7,933.9 L169.6,933.2 L170.4,934.6 L171.3,936.4 L172.2,933.5 L173.0,932.6 L173.9,935.9 L174.7,934.3 L175.6,934.1 L176.5,937.5 L177.3,931.8 L178.2,934.1 L179.0,930.6 L179.9,933.1 L180.8,934.6 L181.6,935.6 L182.5,931.5 L183.3,935.2 L184.2,935.2 L185.1,933.8 L185.9,938.3 L186.8,934.1 L187.6,932.7 L188.5,934.9 L189.4,930.9 L190.2,936.7 L191.1,935.6 L191.9,933.1 L192.8,934.6 L193.7,934.2 L194.5,936.4 L195.4,931.7 L196.2,930.2 L197.1,928.6 L198.0,931.4 L198.8,928.9 L199.7,931.2 L200.5,932.1 L201.4,930.6 L202.3,929.7 L203.1,933.5 L204.0,931.1 L204.8,931.9 L205.7,933.1 L206.6,929.1 L207.4,929.6 L208.3,935.4 L209.1,930.5 L210.0,928.6 L210.9,929.7 L211.7,928.8 L212.6,927.3 L213.4,928.5 L214.3,929.0 L215.2,928.8 L216.0,929.7 L216.9,925.6 L217.7,925.9 L218.6,929.9 L219.5,927.8 L220.3,930.8 L221.2,929.3 L222.0,926.3 L222.9,929.8 L223.8,927.1 L224.6,929.4 L225.5,931.0 L226.3,932.4 L227.2,928.3 L228.1,929.4 L228.9,928.4 L229.8,929.0 L230.6,922.7 L231.5,926.3 L232.4,927.4 L233.2,927.5 L234.1,925.2 L234.9,927.9 L235.8,928.3 L236.7,926.4 L237.5,925.7 L238.4,925.4 L239.2,926.2 L240.1,928.0 L241.0,928.5 L241.8,924.9 L242.7,924.0 L243.5,924.1 L244.4,927.1 L245.3,925.5 L246.1,925.4 L247.0,925.5 L247.8,925.0 L248.7,923.8 L249.6,921.8 L250.4,922.3 L251.3,923.4 L252.1,923.7 L253.0,922.1 L253.9,921.8 L254.7,925.0 L255.6,921.6 L256.4,922.8 L257.3,921.8 L258.2,920.8 L259.0,919.5 L259.9,921.2 L260.7,920.6 L261.6,923.5 L262.5,919.8 L263.3,921.0 L264.2,922.8 L265.0,921.2 L265.9,922.1 L266.8,922.5 L267.6,917.7 L268.5,919.8 L269.3,918.6 L270.2,922.6 L271.1,919.8 L271.9,920.9 L272.8,923.1 L273.6,919.4 L274.5,920.2 L275.4,920.8 L276.2,919.5 L277.1,922.1 L277.9,921.1 L278.8,921.2 L279.7,919.0 L280.5,917.9 L281.4,917.4 L282.2,916.9 L283.1,914.1 L284.0,917.2 L284.8,917.5 L285.7,915.5 L286.5,914.1 L287.4,914.6 L288.3,914.5 L289.1,914.4 L290.0,916.8 L290.8,911.7 L291.7,913.8 L292.6,914.3 L293.4,913.0 L294.3,912.4 L295.1,910.9 L296.0,911.6 L296.9,913.9 L297.7,915.2 L298.6,911.2 L299.4,913.1 L300.3,913.0 L301.2,913.7 L302.0,912.1 L302.9,912.3 L303.7,913.0 L304.6,909.1 L305.5,911.3 L306.3,907.9 L307.2,907.5 L308.0,909.7 L308.9,908.3 L309.8,912.0 L310.6,912.7 L311.5,910.1 L312.3,910.1 L313.2,909.5 L314.1,909.0 L314.9,909.3 L315.8,909.1 L316.6,906.9 L317.5,905.7 L318.4,905.6 L319.2,907.6 L320.1,904.9 L320.9,908.1 L321.8,904.7 L322.7,907.7 L323.5,902.7 L324.4,903.7 L325.2,905.9 L326.1,905.9 L327.0,904.7 L327.8,908.9 L328.7,905.0 L329.5,905.3 L330.4,903.5 L331.3,907.6 L332.1,905.8 L333.0,904.7 L333.8,900.4 L334.7,904.0 L335.6,902.1 L336.4,903.6 L337.3,904.4 L338.1,901.0 L339.0,902.7 L339.9,903.8 L340.7,902.2 L341.6,901.0 L342.4,899.4 L343.3,899.9 L344.2,898.5 L345.0,902.8 L345.9,900.8 L346.7,897.9 L347.6,900.1 L348.5,897.3 L349.3,893.0 L350.2,901.7 L351.0,901.4 L351.9,895.8 L352.8,897.1 L353.6,898.6 L354.5,897.1 L355.3,895.8 L356.2,896.1 L357.1,896.2 L357.9,895.1 L358.8,896.2 L359.6,894.9 L360.5,893.4 L361.4,894.7 L362.2,891.0 L363.1,897.1 L363.9,890.5 L364.8,893.8 L365.7,894.5 L366.5,894.6 L367.4,894.2 L368.2,896.0 L369.1,891.0 L370.0,892.9 L370.8,893.1 L371.7,891.6 L372.5,891.3 L373.4,895.2 L374.3,891.1 L375.1,891.7 L376.0,892.2 L376.8,892.5 L377.7,893.3 L378.6,892.5 L379.4,893.5 L380.3,892.8 L381.1,893.3 L382.0,894.8 L382.9,889.8 L383.7,894.6 L384.6,889.9 L385.4,891.9 L386.3,890.5 L387.2,889.3 L388.0,885.5 L388.9,892.7 L389.7,887.5 L390.6,887.2 L391.5,890.9 L392.3,888.7 L393.2,892.5 L394.0,892.1 L394.9,890.1 L395.8,889.1 L396.6,890.1 L397.5,885.6 L398.3,888.4 L399.2,888.0 L400.1,886.3 L400.9,887.4 L401.8,883.4 L402.6,888.0 L403.5,888.5 L404.4,882.8 L405.2,885.6 L406.1,888.4 L406.9,885.8 L407.8,882.6 L408.7,882.5 L409.5,886.2 L410.4,888.1 L411.2,881.8 L412.1,884.0 L413.0,882.2 L413.8,883.1 L414.7,884.2 L415.5,883.4 L416.4,882.0 L417.3,887.8 L418.1,883.0 L419.0,882.8 L419.8,885.4 L420.7,882.8 L421.6,882.1 L422.4,884.3 L423.3,879.8 L424.1,883.3 L425.0,883.7 L425.9,882.7 L426.7,880.8 L427.6,881.0 L428.4,877.3 L429.3,880.6 L430.2,881.3 L431.0,882.3 L431.9,880.6 L432.7,879.2 L433.6,877.9 L434.5,879.3 L435.3,879.4 L436.2,881.5 L437.0,878.6 L437.9,877.2 L438.8,877.8 L439.6,876.7 L440.5,876.9 L441.3,872.5 L442.2,873.6 L443.1,874.4 L443.9,877.9 L444.8,876.7 L445.6,877.2 L446.5,879.3 L447.4,874.4 L448.2,879.0 L449.1,877.1 L449.9,874.4 L450.8,878.8 L451.7,872.2 L452.5,872.4 L453.4,874.0 L454.2,874.9 L455.1,873.3 L456.0,868.9 L456.8,872.5 L457.7,872.7 L458.5,877.9 L459.4,875.2 L460.3,872.4 L461.1,869.6 L462.0,872.4 L462.8,869.2 L463.7,871.9 L464.6,872.1 L465.4,870.3 L466.3,871.4 L467.1,869.9 L468.0,869.1 L468.9,873.1 L469.7,870.7 L470.6,868.4 L471.4,867.0 L472.3,868.7 L473.2,869.2 L474.0,869.5 L474.9,870.6 L475.7,868.2 L476.6,864.5 L477.5,871.0 L478.3,868.8 L479.2,867.8 L480.0,868.6 L480.9,862.0 L481.8,864.4 L482.6,864.0 L483.5,867.9 L484.3,862.5 L485.2,864.5 L486.1,868.8 L486.9,866.8 L487.8,864.4 L488.6,869.6 L489.5,862.1 L490.4,866.1 L491.2,864.5 L492.1,866.1 L492.9,864.2 L493.8,862.8 L494.7,865.2 L495.5,861.5 L496.4,865.7 L497.2,863.6 L498.1,866.4 L499.0,863.0 L499.8,862.3 L500.7,864.6 L501.5,866.5 L502.4,858.4 L503.3,863.4 L504.1,864.5 L505.0,859.4 L505.8,860.6 L506.7,864.0 L507.6,860.5 L508.4,860.9 L509.3,866.6 L510.1,860.3 L511.0,860.7 L511.9,857.5 L512.7,860.7 L513.6,860.6 L514.4,867.9 L515.3,866.8 L516.2,860.9 L517.0,868.5 L517.9,865.4 L518.7,862.8 L519.6,864.7 L520.5,863.2 L521.3,860.0 L522.2,857.2 L523.0,858.9 L523.9,860.8 L524.8,859.8 L525.6,858.8 L526.5,863.0 L527.3,858.1 L528.2,863.0 L529.1,859.8 L529.9,861.4 L530.8,858.5 L531.6,861.5 L532.5,859.7 L533.4,857.4 L534.2,861.8 L535.1,861.8 L535.9,863.9 L536.8,862.5 L537.7,859.1 L538.5,859.8 L539.4,854.8 L540.2,857.9 L541.1,863.5 L542.0,863.7 L542.8,861.5 L543.7,860.1 L544.5,860.7 L545.4,860.4 L546.3,854.9 L547.1,857.1 L548.0,862.3 L548.8,862.3 L549.7,859.9 L550.6,858.5 L551.4,858.2 L552.3,857.7 L553.1,856.6 L554.0,854.0 L554.9,859.1 L555.7,857.5 L556.6,858.0 L557.4,862.8 L558.3,859.9 L559.2,856.7 L560.0,860.0 L560.9,854.9 L561.7,861.5 L562.6,859.8 L563.5,858.8 L564.3,860.9 L565.2,863.2 L566.0,858.4 L566.9,856.9 L567.8,864.6 L568.6,859.1 L569.5,862.6 L570.3,857.0 L571.2,859.6 L572.1,857.0 L572.9,860.3 L573.8,858.1 L574.6,857.2 L575.5,862.8 L576.4,859.8 L577.2,853.8 L578.1,858.1 L578.9,856.2 L579.8,855.2 L580.7,856.5 L581.5,856.5 L582.4,857.6 L583.2,855.4 L584.1,852.8 L585.0,856.1 L585.8,859.7 L586.7,854.3 L587.5,859.3 L588.4,858.9 L589.3,856.6 L590.1,858.3 L591.0,855.6 L591.8,856.3 L592.7,854.6 L593.6,858.2 L594.4,860.4 L595.3,855.2 L596.1,859.8 L597.0,851.4 L597.9,854.4 L598.7,853.9 L599.6,860.8 L600.4,854.9 L601.3,858.5 L602.2,851.4 L603.0,857.2 L603.9,858.7 L604.7,857.4 L605.6,850.7 L606.5,858.3 L607.3,859.9 L608.2,861.0 L609.0,858.5 L609.9,853.0 L610.8,856.5 L611.6,859.1 L612.5,854.6 L613.3,858.0 L614.2,855.3 L615.1,856.6 L615.9,858.3 L616.8,854.7 L617.6,863.7 L618.5,857.1 L619.4,857.6 L620.2,854.9 L621.1,856.8 L621.9,855.8 L622.8,852.6 L623.7,852.1 L624.5,856.4 L625.4,855.2 L626.2,848.6 L627.1,849.7 L628.0,854.3 L628.8,855.0 L629.7,856.9 L630.5,852.3 L631.4,857.3 L632.3,855.3 L633.1,855.1 L634.0,856.4 L634.8,859.6 L635.7,858.7 L636.6,859.7 L637.4,855.8 L638.3,856.8 L639.1,854.5 L640.0,855.9 L640.9,856.2 L641.7,856.0 L642.6,858.8 L643.4,858.0 L644.3,858.7 L645.2,857.1 L646.0,859.3 L646.9,856.8 L647.7,858.8 L648.6,857.5 L649.5,857.9 L650.3,855.7 L651.2,852.6 L652.0,852.0 L652.9,860.8 L653.8,856.8 L654.6,857.1 L655.5,855.7 L656.3,855.1 L657.2,863.8 L658.1,853.7 L658.9,856.4 L659.8,856.4 L660.6,853.7 L661.5,853.3 L662.4,854.6 L663.2,855.4 L664.1,855.0 L664.9,858.1 L665.8,853.4 L666.7,857.2 L667.5,860.0 L668.4,858.9 L669.2,854.6 L670.1,850.8 L671.0,860.3 L671.8,860.0 L672.7,858.0 L673.5,862.8 L674.4,859.2 L675.3,860.7 L676.1,858.1 L677.0,861.4 L677.8,859.7 L678.7,859.5 L679.6,863.3 L680.4,861.2 L681.3,857.1 L682.1,862.4 L683.0,862.8 L683.9,858.8 L684.7,860.0 L685.6,861.1 L686.4,860.4 L687.3,861.3 L688.2,862.6 L689.0,859.9 L689.9,866.0 L690.7,859.4 L691.6,859.9 L692.5,865.8 L693.3,866.9 L694.2,861.4 L695.0,860.9 L695.9,858.8 L696.8,864.1 L697.6,861.8 L698.5,859.5 L699.3,862.5 L700.2,864.9 L701.1,863.4 L701.9,867.1 L702.8,864.8 L703.6,863.3 L704.5,862.3 L705.4,863.9 L706.2,865.6 L707.1,865.0 L707.9,865.7 L708.8,864.0 L709.7,865.6 L710.5,867.0 L711.4,864.1 L712.2,861.7 L713.1,869.2 L714.0,866.7 L714.8,864.5 L715.7,866.2 L716.5,865.2 L717.4,861.8 L718.3,865.4 L719.1,862.5 L720.0,866.4 L720.8,865.6 L721.7,868.6 L722.6,865.7 L723.4,867.0 L724.3,865.5 L725.1,865.5 L726.0,863.2 L726.9,868.9 L727.7,867.1 L728.6,865.4 L729.4,867.4 L730.3,866.1 L731.2,865.5 L732.0,867.9 L732.9,870.3 L733.7,867.2 L734.6,864.7 L735.5,866.7 L736.3,872.2 L737.2,866.5 L738.0,871.0 L738.9,868.0 L739.8,870.2 L740.6,868.5 L741.5,865.5 L742.3,868.2 L743.2,874.0 L744.1,869.4 L744.9,871.2 L745.8,869.5 L746.6,870.3 L747.5,871.5 L748.4,872.1 L749.2,876.2 L750.1,871.7 L750.9,871.6 L751.8,870.9 L752.7,869.9 L753.5,869.7 L754.4,875.0 L755.2,869.9 L756.1,877.2 L757.0,876.3 L757.8,874.1 L758.7,872.5 L759.5,875.2 L760.4,875.4 L761.3,878.0 L762.1,874.4 L763.0,875.6 L763.8,876.7 L764.7,876.6 L765.6,876.3 L766.4,874.5 L767.3,875.0 L768.1,877.4 L769.0,878.6 L769.9,881.4 L770.7,884.2 L771.6,883.1 L772.4,880.5 L773.3,883.6 L774.2,879.6 L775.0,878.8 L775.9,884.8 L776.7,878.0 L777.6,879.5 L778.5,880.1 L779.3,884.0 L780.2,880.0 L781.0,883.2 L781.9,881.0 L782.8,879.5 L783.6,882.8 L784.5,882.9 L785.3,880.3 L786.2,881.1 L787.1,881.4 L787.9,885.2 L788.8,884.3 L789.6,884.0 L790.5,884.7 L791.4,882.8 L792.2,885.1 L793.1,883.1 L793.9,881.8 L794.8,883.4 L795.7,885.6 L796.5,885.6 L797.4,887.8 L798.2,882.2 L799.1,885.4 L800.0,886.8 L800.8,884.1 L801.7,886.7 L802.5,885.6 L803.4,884.4 L804.3,889.4 L805.1,884.6 L806.0,890.0 L806.8,887.5 L807.7,886.9 L808.6,887.4 L809.4,888.0 L810.3,888.1 L811.1,890.5 L812.0,886.5 L812.9,892.9 L813.7,892.3 L814.6,893.6 L815.4,889.2 L816.3,886.8 L817.2,890.4 L818.0,891.6 L818.9,892.9 L819.7,891.5 L820.6,892.6 L821.5,893.3 L822.3,890.1 L823.2,896.7 L824.0,891.1 L824.9,893.9 L825.8,895.5 L826.6,892.0 L827.5,893.7 L828.3,897.1 L829.2,893.7 L830.1,896.6 L830.9,895.5 L831.8,895.7 L832.6,897.0 L833.5,895.6 L834.4,895.9 L835.2,898.5 L836.1,897.4 L836.9,898.1 L837.8,895.1 L838.7,897.7 L839.5,900.2 L840.4,899.9 L841.2,899.1 L842.1,897.9 L843.0,898.1 L843.8,900.5 L844.7,902.7 L845.5,900.5 L846.4,903.2 L847.3,900.6 L848.1,903.8 L849.0,900.0 L849.8,902.6 L850.7,900.6 L851.6,904.2 L852.4,904.5 L853.3,901.9 L854.1,902.7 L855.0,903.5 L855.9,901.8 L856.7,903.1 L857.6,903.3 L858.4,906.7 L859.3,907.9 L860.2,904.4 L861.0,904.8 L861.9,905.9 L862.7,904.5 L863.6,905.0 L864.5,907.3 L865.3,906.1 L866.2,905.6 L867.0,904.6 L867.9,908.7 L868.8,904.7 L869.6,906.3 L870.5,904.1 L871.3,905.2 L872.2,906.8 L873.1,906.0 L873.9,908.1 L874.8,907.3 L875.6,904.7 L876.5,903.0 L877.4,909.6 L878.2,906.6 L879.1,910.8 L879.9,908.1 L880.8,906.8 L881.7,909.6 L882.5,908.3 L883.4,909.1 L884.2,907.6 L885.1,910.8 L886.0,911.9 L886.8,908.9 L887.7,913.4 L888.5,909.0 L889.4,910.7 L890.3,907.2 L891.1,906.9 L892.0,914.9 L892.8,913.9 L893.7,913.6 L894.6,908.5 L895.4,912.4 L896.3,912.9 L897.1,912.4 L898.0,912.9 L898.9,910.6 L899.7,912.0 L900.6,910.1 L901.4,911.6 L902.3,913.0 L903.2,910.9 L904.0,912.0 L904.9,911.8 L905.7,912.8 L906.6,914.7 L907.5,913.7 L908.3,914.2 L909.2,911.0 L910.0,913.3 L910.9,915.8 L911.8,912.8 L912.6,913.9 L913.5,913.0 L914.3,917.6 L915.2,914.4 L916.1,914.0 L916.9,916.7 L917.8,917.9 L918.6,916.9 L919.5,918.0 L920.4,916.8 L921.2,916.4 L922.1,916.1 L922.9,916.3 L923.8,916.4 L924.7,918.5 L925.5,917.7 L926.4,918.3 L927.2,919.3 L928.1,918.1 L929.0,915.6 L929.8,916.7 L930.7,916.0 L931.5,914.5 L932.4,918.4 L933.3,915.9 L934.1,915.8 L935.0,916.3 L935.8,920.0 L936.7,917.8 L937.6,920.3 L938.4,918.3 L939.3,917.7 L940.1,919.7 L941.0,920.0 L941.9,919.3 L942.7,917.3 L943.6,918.7 L944.4,917.7 L945.3,919.7 L946.2,920.7 L947.0,923.6 L947.9,923.6 L948.7,922.3 L949.6,922.8 L950.5,921.4 L951.3,926.2 L952.2,923.7 L953.0,925.7 L953.9,921.2 L954.8,921.2 L955.6,922.4 L956.5,920.6 L957.3,920.9 L958.2,918.3 L959.1,922.1 L959.9,920.6 L960.8,922.0 L961.6,920.1 L962.5,917.2 L963.4,921.7 L964.2,923.1 L965.1,918.4 L965.9,919.1 L966.8,920.5 L967.7,920.6 L968.5,917.8 L969.4,924.6 L970.2,923.2 L971.1,920.0 L972.0,917.8 L972.8,922.1 L973.7,925.4 L974.5,923.3 L975.4,924.1 L976.3,920.3 L977.1,922.8 L978.0,919.6 L978.8,926.4 L979.7,923.8 L980.6,918.7 L981.4,919.1 L982.3,923.5 L983.1,922.8 L984.0,921.9 L984.9,923.6 L985.7,926.2 L986.6,923.2 L987.4,919.2 L988.3,922.3 L989.2,920.3 L990.0,921.3 L990.9,923.6 L991.7,922.9 L992.6,921.4 L993.5,923.5 L994.3,922.2 L995.2,924.8 L996.0,923.4 L996.9,924.5 L997.8,923.2 L998.6,925.0 L999.5,923.2 L1000.3,923.3 L1001.2,922.2 L1002.1,923.5 L1002.9,919.9 L1003.8,928.2 L1004.6,921.9 L1005.5,923.4 L1006.4,922.4 L1007.2,922.5 L1008.1,924.4 L1008.9,922.9 L1009.8,923.3 L1010.7,921.9 L1011.5,923.1 L1012.4,923.0 L1013.2,928.9 L1014.1,923.2 L1015.0,923.9 L1015.8,926.4 L1016.7,928.9 L1017.5,923.0 L1018.4,923.3 L1019.3,926.5 L1020.1,927.0 L1021.0,923.7 L1021.8,923.1 L1022.7,924.8 L1023.6,928.1 L1024.4,926.6 L1025.3,928.1 L1026.1,926.4 L1027.0,926.5 L1027.9,927.7 L1028.7,926.1 L1029.6,926.7 L1030.4,924.3 L1031.3,924.7 L1032.2,926.6 L1033.0,925.1 L1033.9,923.9 L1034.7,926.5 L1035.6,926.1 L1036.5,924.9 L1037.3,923.3 L1038.2,926.4 L1039.0,929.5 L1039.9,923.0 L1040.8,921.7 L1041.6,923.4 L1042.5,923.2 L1043.3,922.8 L1044.2,923.1 L1045.1,927.1 L1045.9,927.2 L1046.8,928.4 L1047.6,927.0 L1048.5,924.5 L1049.4,927.5 L1050.2,924.2 L1051.1,924.6 L1051.9,923.0 L1052.8,927.6 L1053.7,927.2 L1054.5,924.3 L1055.4,924.6 L1056.2,925.2 L1057.1,925.6 L1058.0,926.8 L1058.8,925.3 L1059.7,925.9 L1060.5,922.2 L1061.4,924.6 L1062.3,921.6 L1063.1,928.6 L1064.0,927.8 L1064.8,926.5 L1065.7,927.2 L1066.6,928.9 L1067.4,926.7 L1068.3,921.7 L1069.1,924.4 L1070.0,920.1 L1070.9,923.1 L1071.7,922.3 L1072.6,924.8 L1073.4,925.7 L1074.3,923.3 L1075.2,924.6 L1076.0,925.8 L1076.9,925.0 L1077.7,925.0 L1078.6,920.6 L1079.5,924.3 L1080.3,926.6 L1081.2,925.4 L1082.0,922.0 L1082.9,924.3 L1083.8,925.3 L1084.6,922.8 L1085.5,925.9 L1086.3,922.9 L1087.2,923.7 L1088.1,924.0 L1088.9,928.4 L1089.8,923.4 L1090.6,922.9 L1091.5,925.3 L1092.4,922.9 L1093.2,924.1 L1094.1,919.4 L1094.9,924.3 L1095.8,923.8 L1096.7,921.6 L1097.5,926.9 L1098.4,924.2 L1099.2,924.7 L1100.1,923.0 L1101.0,922.8 L1101.8,925.1 L1102.7,923.5 L1103.5,927.4 L1104.4,928.1 L1105.3,925.1 L1106.1,922.9 L1107.0,925.0 L1107.8,923.4 L1108.7,925.4 L1109.6,925.2 L1110.4,923.9 L1111.3,924.8 L1112.1,926.6 L1113.0,927.9 L1113.9,923.7 L1114.7,926.2 L1115.6,924.4 L1116.4,922.8 L1117.3,927.4 L1118.2,925.6 L1119.0,925.1 L1119.9,925.4 L1120.7,924.4 L1121.6,922.7 L1122.5,928.3 L1123.3,926.7 L1124.2,925.6 L1125.0,927.2 L1125.9,928.0 L1126.8,925.1 L1127.6,926.7 L1128.5,924.8 L1129.3,926.6 L1130.2,924.6 L1131.1,929.7 L1131.9,924.1 L1132.8,925.8 L1133.6,925.6 L1134.5,924.1 L1135.4,926.8 L1136.2,924.9 L1137.1,924.4 L1137.9,925.3 L1138.8,923.9 L1139.7,927.7 L1140.5,926.5 L1141.4,927.0 L1142.2,922.2 L1143.1,925.1 L1144.0,922.8 L1144.8,924.3 L1145.7,926.4 L1146.5,924.3 L1147.4,923.4 L1148.3,926.0 L1149.1,925.8 L1150.0,927.5 L1150.8,920.3 L1151.7,924.6 L1152.6,923.2 L1153.4,922.4 L1154.3,924.4 L1155.1,921.9 L1156.0,919.8 L1156.9,922.5 L1157.7,923.8 L1158.6,928.0 L1159.4,923.0 L1160.3,922.2 L1161.2,920.7 L1162.0,923.9 L1162.9,924.1 L1163.7,924.9 L1164.6,921.8 L1165.5,923.1 L1166.3,920.0 L1167.2,924.7 L1168.0,921.2 L1168.9,918.8 L1169.8,926.4 L1170.6,925.0 L1171.5,924.7 L1172.3,924.7 L1173.2,922.1 L1174.1,926.3 L1174.9,922.3 L1175.8,928.3 L1176.6,925.1 L1177.5,921.1 L1178.4,926.5 L1179.2,928.8 L1180.1,924.4 L1180.9,927.0 L1181.8,924.6 L1182.7,923.8 L1183.5,920.0 L1184.4,927.6 L1185.2,924.4 L1186.1,926.1 L1187.0,923.3 L1187.8,923.8 L1188.7,927.8 L1189.5,924.9 L1190.4,924.9 L1191.3,923.1 L1192.1,925.7 L1193.0,926.6 L1193.8,923.9 L1194.7,924.1 L1195.6,921.8 L1196.4,926.6 L1197.3,922.4 L1198.1,923.2 L1199.0,926.6 L1199.9,922.9 L1200.7,920.3 L1201.6,921.6 L1202.4,922.9 L1203.3,927.2 L1204.2,924.4 L1205.0,923.8 L1205.9,926.1 L1206.7,927.3 L1207.6,923.7 L1208.5,928.1 L1209.3,927.2 L1210.2,926.5 L1211.0,921.2 L1211.9,926.0 L1212.8,928.2 L1213.6,924.9 L1214.5,929.7 L1215.3,925.3 L1216.2,923.2 L1217.1,926.3 L1217.9,925.7 L1218.8,926.8 L1219.6,924.9 L1220.5,927.9 L1221.4,924.5 L1222.2,926.0 L1223.1,923.5 L1223.9,924.6 L1224.8,926.7 L1225.7,925.2 L1226.5,925.7 L1227.4,926.2 L1228.2,927.1 L1229.1,927.9 L1230.0,927.8 L1230.8,928.1 L1231.7,926.4 L1232.5,924.8 L1233.4,922.7 L1234.3,925.0 L1235.1,924.2 L1236.0,922.4 L1236.8,929.1 L1237.7,922.6 L1238.6,927.0 L1239.4,927.6 L1240.3,926.2 L1241.1,931.8 L1242.0,927.1 L1242.9,925.8 L1243.7,930.8 L1244.6,926.1 L1245.4,925.0 L1246.3,925.9 L1247.2,926.6 L1248.0,928.0 L1248.9,928.5 L1249.7,924.9 L1250.6,928.5 L1251.5,932.1 L1252.3,926.5 L1253.2,927.7 L1254.0,929.3 L1254.9,930.3 L1255.8,926.7 L1256.6,926.1 L1257.5,925.9 L1258.3,929.8 L1259.2,929.2 L1260.1,923.3 L1260.9,923.2 L1261.8,924.8 L1262.6,924.2 L1263.5,927.7 L1264.4,927.4 L1265.2,930.7 L1266.1,928.6 L1266.9,927.4 L1267.8,929.6 L1268.7,925.8 L1269.5,925.0 L1270.4,927.9 L1271.2,929.8 L1272.1,925.0 L1273.0,929.8 L1273.8,929.7 L1274.7,927.1 L1275.5,928.2 L1276.4,927.2 L1277.3,927.7 L1278.1,928.9 L1279.0,925.8 L1279.8,929.2 L1280.7,928.8 L1281.6,928.9 L1282.4,923.5 L1283.3,923.7 L1284.1,928.4 L1285.0,926.0 L1285.9,925.8 L1286.7,925.6 L1287.6,924.6 L1288.4,926.8 L1289.3,926.2 L1290.2,926.6 L1291.0,929.0 L1291.9,926.3 L1292.7,930.9 L1293.6,925.0 L1294.5,934.0 L1295.3,926.9 L1296.2,930.6 L1297.0,931.2 L1297.9,929.5 L1298.8,930.8 L1299.6,929.1 L1300.5,926.0 L1301.3,929.8 L1302.2,931.3 L1303.1,928.1 L1303.9,926.0 L1304.8,928.1 L1305.6,929.9 L1306.5,929.9 L1307.4,931.5 L1308.2,930.6 L1309.1,930.6 L1309.9,926.0 L1310.8,934.0 L1311.7,930.1 L1312.5,931.7 L1313.4,929.5 L1314.2,930.0 L1315.1,930.4 L1316.0,933.3 L1316.8,933.1 L1317.7,931.5 L1318.5,933.9 L1319.4,929.4 L1320.3,931.0 L1321.1,929.1 L1322.0,932.2 L1322.8,929.7 L1323.7,931.4 L1324.6,932.6 L1325.4,925.6 L1326.3,933.4 L1327.1,930.1 L1328.0,929.0 L1328.9,926.2 L1329.7,929.4 L1330.6,926.0 L1331.4,930.6 L1332.3,930.3 L1333.2,934.0 L1334.0,930.0 L1334.9,932.5 L1335.7,932.5 L1336.6,934.0 L1337.5,929.6 L1338.3,931.3 L1339.2,927.0 L1340.0,927.7 L1340.9,929.3 L1341.8,929.8 L1342.6,927.8 L1343.5,929.5 L1344.3,931.7 L1345.2,929.8 L1346.1,930.6 L1346.9,929.4 L1347.8,933.7 L1348.6,934.5 L1349.5,931.7 L1350.4,931.3 L1351.2,934.6 L1352.1,932.5 L1352.9,930.5 L1353.8,929.3 L1354.7,930.7 L1355.5,935.8 L1356.4,930.7 L1357.2,937.0 L1358.1,931.6 L1359.0,931.1 L1359.8,933.8 L1360.7,930.8 L1361.5,931.9 L1362.4,929.3 L1363.3,928.9 L1364.1,929.8 L1365.0,931.6 L1365.8,930.1 L1366.7,927.8 L1367.6,932.2 L1368.4,931.0 L1369.3,930.8 L1370.1,930.1 L1371.0,927.0 L1371.9,934.0 L1372.7,930.2 L1373.6,932.0 L1374.4,933.6 L1375.3,933.2 L1376.2,931.6 L1377.0,931.4 L1377.9,932.1 L1378.7,933.2 L1379.6,932.7 L1380.5,930.9 L1381.3,932.5 L1382.2,932.3 L1383.0,932.8 L1383.9,931.8 L1384.8,933.9 L1385.6,931.7 L1386.5,933.0 L1387.3,931.6 L1388.2,930.5 L1389.1,930.0 L1389.9,931.5 L1390.8,932.8 L1391.6,934.2 L1392.5,931.8 L1393.4,931.0 L1394.2,931.0 L1395.1,934.2 L1395.9,932.1 L1396.8,931.0 L1397.7,933.3 L1398.5,929.6 L1399.4,932.3 L1400.2,932.2 L1401.1,932.2 L1402.0,930.5 L1402.8,934.5 L1403.7,935.8 L1404.5,930.5 L1405.4,933.2 L1406.3,934.2 L1407.1,937.2 L1408.0,932.4 L1408.8,931.5 L1409.7,933.2 L1410.6,936.8 L1411.4,933.3 L1412.3,933.6 L1413.1,936.1 L1414.0,929.0 L1414.9,928.7 L1415.7,934.1 L1416.6,933.7 L1417.4,929.7 L1418.3,933.1 L1419.2,932.2 L1420.0,932.6 L1420.9,930.8 L1421.7,931.5 L1422.6,930.9 L1423.5,932.6 L1424.3,932.1 L1425.2,935.6 L1426.0,933.7 L1426.9,929.9 L1427.8,933.5 L1428.6,935.4 L1429.5,933.4 L1430.3,934.9 L1431.2,933.0 L1432.1,934.3 L1432.9,931.3 L1433.8,934.2 L1434.6,930.2 L1435.5,934.8 L1436.4,929.7 L1437.2,928.5 L1438.1,933.1 L1438.9,931.9 L1439.8,932.4 L1440.7,933.1 L1441.5,932.4 L1442.4,931.0 L1443.2,933.1 L1444.1,933.5 L1445.0,933.9 L1445.8,936.7 L1446.7,932.1 L1447.5,933.7 L1448.4,934.7 L1449.3,933.0 L1450.1,931.7 L1451.0,932.8 L1451.8,935.7 L1452.7,933.3 L1453.6,934.9 L1454.4,932.5 L1455.3,934.6 L1456.1,932.7 L1457.0,932.5 L1457.9,934.3 L1458.7,934.3 L1459.6,936.9 L1460.4,931.6 L1461.3,935.4 L1462.2,937.5 L1463.0,937.1 L1463.9,934.0 L1464.7,933.5 L1465.6,933.8 L1466.5,935.2 L1467.3,934.9 L1468.2,935.1 L1469.0,935.4 L1469.9,932.5 L1470.8,932.3 L1471.6,932.1 L1472.5,931.9 L1473.3,934.1 L1474.2,934.9 L1475.1,938.9 L1475.9,935.6 L1476.8,934.8 L1477.6,937.4 L1478.5,933.8 L1479.4,935.8 L1480.2,937.0 L1481.1,936.8 L1481.9,936.2 L1482.8,934.9 L1483.7,933.4 L1484.5,935.2 L1485.4,934.4 L1486.2,936.6 L1487.1,935.1 L1488.0,936.3 L1488.8,932.5 L1489.7,937.0 L1490.5,933.9 L1491.4,932.8 L1492.3,933.2 L1493.1,934.5 L1494.0,937.6 L1494.8,936.9 L1495.7,933.6 L1496.6,935.7 L1497.4,935.2 L1498.3,932.7 L1499.1,933.6 L1500.0,931.8 L1500.9,933.8 L1501.7,930.9 L1502.6,934.2 L1503.4,934.1 L1504.3,934.5 L1505.2,934.5 L1506.0,937.9 L1506.9,935.4 L1507.7,936.3 L1508.6,937.1 L1509.5,937.2 L1510.3,936.7 L1511.2,934.6 L1512.0,933.6 L1512.9,934.1 L1513.8,934.6 L1514.6,935.4 L1515.5,935.2 L1516.3,937.2 L1517.2,935.2 L1518.1,938.3 L1518.9,937.0 L1519.8,934.6 L1520.6,936.9 L1521.5,930.8 L1522.4,937.9 L1523.2,936.4 L1524.1,936.5 L1524.9,933.2 L1525.8,940.1 L1526.7,935.6 L1527.5,935.8 L1528.4,937.8 L1529.2,935.6 L1530.1,934.4 L1531.0,936.7 L1531.8,933.9 L1532.7,936.5 L1533.5,935.4 L1534.4,936.9 L1535.3,933.1 L1536.1,937.0 L1537.0,935.5 L1537.8,938.3" fill="none" stroke="#3cbe6e" stroke-width="5.6" stroke-linejoin="round" stroke-linecap="butt"/>
<path d="M38.0,1048.1 L38.9,1051.3 L39.7,1043.9 L40.6,1049.6 L41.4,1047.2 L42.3,1048.1 L43.2,1047.2 L44.0,1049.8 L44.9,1048.7 L45.7,1047.4 L46.6,1046.5 L47.5,1048.1 L48.3,1050.9 L49.2,1046.9 L50.0,1049.8 L50.9,1049.7 L51.8,1045.8 L52.6,1051.2 L53.5,1049.3 L54.3,1053.3 L55.2,1052.5 L56.1,1049.1 L56.9,1049.2 L57.8,1047.7 L58.6,1047.0 L59.5,1050.7 L60.4,1048.8 L61.2,1048.5 L62.1,1048.9 L62.9,1050.3 L63.8,1050.8 L64.7,1049.1 L65.5,1048.9 L66.4,1049.4 L67.2,1052.9 L68.1,1045.7 L69.0,1047.4 L69.8,1050.2 L70.7,1049.7 L71.5,1051.5 L72.4,1051.7 L73.3,1052.9 L74.1,1048.2 L75.0,1050.8 L75.8,1049.4 L76.7,1051.7 L77.6,1050.5 L78.4,1051.9 L79.3,1049.2 L80.1,1050.8 L81.0,1049.6 L81.9,1050.0 L82.7,1049.5 L83.6,1048.3 L84.4,1051.9 L85.3,1050.2 L86.2,1051.4 L87.0,1047.6 L87.9,1045.9 L88.7,1048.1 L89.6,1049.0 L90.5,1050.8 L91.3,1051.4 L92.2,1051.8 L93.0,1052.6 L93.9,1051.3 L94.8,1050.3 L95.6,1048.9 L96.5,1051.4 L97.3,1049.2 L98.2,1048.6 L99.1,1050.9 L99.9,1050.1 L100.8,1051.1 L101.6,1048.3 L102.5,1051.5 L103.4,1050.1 L104.2,1049.2 L105.1,1048.2 L105.9,1047.7 L106.8,1047.3 L107.7,1052.2 L108.5,1047.3 L109.4,1051.0 L110.2,1049.5 L111.1,1049.0 L112.0,1049.2 L112.8,1049.9 L113.7,1051.7 L114.5,1051.1 L115.4,1050.1 L116.3,1047.6 L117.1,1046.8 L118.0,1053.2 L118.8,1048.1 L119.7,1047.1 L120.6,1051.8 L121.4,1047.2 L122.3,1051.2 L123.1,1051.5 L124.0,1050.3 L124.9,1051.6 L125.7,1047.5 L126.6,1047.7 L127.4,1049.5 L128.3,1049.8 L129.2,1049.7 L130.0,1050.7 L130.9,1048.7 L131.7,1046.4 L132.6,1051.0 L133.5,1050.1 L134.3,1052.1 L135.2,1054.4 L136.0,1051.1 L136.9,1052.0 L137.8,1049.5 L138.6,1052.6 L139.5,1051.5 L140.3,1051.3 L141.2,1052.3 L142.1,1048.7 L142.9,1051.4 L143.8,1051.1 L144.6,1052.9 L145.5,1047.0 L146.4,1049.8 L147.2,1053.7 L148.1,1049.2 L148.9,1049.2 L149.8,1053.1 L150.7,1054.3 L151.5,1050.2 L152.4,1048.7 L153.2,1048.8 L154.1,1049.0 L155.0,1048.2 L155.8,1048.2 L156.7,1049.9 L157.5,1049.6 L158.4,1050.4 L159.3,1049.6 L160.1,1047.5 L161.0,1050.8 L161.8,1049.9 L162.7,1048.5 L163.6,1049.0 L164.4,1049.9 L165.3,1049.5 L166.1,1049.0 L167.0,1050.4 L167.9,1050.8 L168.7,1048.2 L169.6,1048.5 L170.4,1046.4 L171.3,1047.9 L172.2,1048.9 L173.0,1049.5 L173.9,1048.3 L174.7,1047.9 L175.6,1046.9 L176.5,1048.7 L177.3,1046.5 L178.2,1048.7 L179.0,1048.5 L179.9,1046.9 L180.8,1049.0 L181.6,1047.9 L182.5,1049.2 L183.3,1047.1 L184.2,1048.7 L185.1,1050.4 L185.9,1047.9 L186.8,1048.9 L187.6,1046.4 L188.5,1046.9 L189.4,1044.2 L190.2,1047.3 L191.1,1045.5 L191.9,1047.7 L192.8,1043.8 L193.7,1045.8 L194.5,1047.3 L195.4,1047.6 L196.2,1043.8 L197.1,1045.8 L198.0,1050.8 L198.8,1047.4 L199.7,1046.1 L200.5,1040.8 L201.4,1043.8 L202.3,1046.2 L203.1,1045.6 L204.0,1045.9 L204.8,1046.7 L205.7,1045.1 L206.6,1046.4 L207.4,1041.8 L208.3,1049.3 L209.1,1044.4 L210.0,1043.9 L210.9,1047.7 L211.7,1046.2 L212.6,1046.8 L213.4,1044.0 L214.3,1045.5 L215.2,1046.2 L216.0,1042.9 L216.9,1044.4 L217.7,1044.4 L218.6,1044.3 L219.5,1043.6 L220.3,1042.7 L221.2,1045.7 L222.0,1045.5 L222.9,1047.1 L223.8,1045.0 L224.6,1043.9 L225.5,1042.5 L226.3,1045.2 L227.2,1044.4 L228.1,1048.5 L228.9,1048.9 L229.8,1047.6 L230.6,1043.2 L231.5,1042.3 L232.4,1044.3 L233.2,1043.1 L234.1,1047.0 L234.9,1044.6 L235.8,1043.6 L236.7,1044.1 L237.5,1046.2 L238.4,1042.3 L239.2,1044.7 L240.1,1041.5 L241.0,1043.4 L241.8,1042.6 L242.7,1044.2 L243.5,1043.8 L244.4,1045.5 L245.3,1044.5 L246.1,1042.1 L247.0,1040.7 L247.8,1041.5 L248.7,1042.0 L249.6,1042.1 L250.4,1040.9 L251.3,1043.9 L252.1,1043.3 L253.0,1041.0 L253.9,1040.3 L254.7,1040.6 L255.6,1040.7 L256.4,1040.6 L257.3,1037.7 L258.2,1039.6 L259.0,1037.0 L259.9,1040.2 L260.7,1041.2 L261.6,1038.1 L262.5,1040.1 L263.3,1038.6 L264.2,1038.4 L265.0,1042.9 L265.9,1040.9 L266.8,1040.0 L267.6,1038.2 L268.5,1039.5 L269.3,1038.3 L270.2,1039.2 L271.1,1036.7 L271.9,1037.9 L272.8,1037.1 L273.6,1035.1 L274.5,1040.4 L275.4,1038.6 L276.2,1035.5 L277.1,1034.0 L277.9,1035.0 L278.8,1034.6 L279.7,1034.7 L280.5,1032.8 L281.4,1033.8 L282.2,1035.1 L283.1,1035.5 L284.0,1031.0 L284.8,1034.4 L285.7,1032.5 L286.5,1032.3 L287.4,1033.6 L288.3,1032.9 L289.1,1035.4 L290.0,1035.4 L290.8,1033.5 L291.7,1032.7 L292.6,1036.9 L293.4,1036.7 L294.3,1033.8 L295.1,1032.5 L296.0,1034.2 L296.9,1034.7 L297.7,1030.8 L298.6,1034.7 L299.4,1030.9 L300.3,1032.9 L301.2,1029.7 L302.0,1030.6 L302.9,1029.5 L303.7,1030.2 L304.6,1031.8 L305.5,1028.2 L306.3,1029.1 L307.2,1030.4 L308.0,1028.4 L308.9,1032.7 L309.8,1026.1 L310.6,1033.1 L311.5,1026.9 L312.3,1029.6 L313.2,1030.4 L314.1,1028.2 L314.9,1024.3 L315.8,1026.0 L316.6,1026.6 L317.5,1027.3 L318.4,1027.8 L319.2,1027.9 L320.1,1028.3 L320.9,1023.5 L321.8,1026.8 L322.7,1021.4 L323.5,1024.6 L324.4,1022.0 L325.2,1020.4 L326.1,1025.3 L327.0,1023.3 L327.8,1025.0 L328.7,1020.0 L329.5,1020.5 L330.4,1022.5 L331.3,1021.2 L332.1,1022.3 L333.0,1020.7 L333.8,1021.0 L334.7,1019.2 L335.6,1023.6 L336.4,1020.3 L337.3,1018.4 L338.1,1021.9 L339.0,1021.4 L339.9,1020.8 L340.7,1020.8 L341.6,1019.5 L342.4,1020.0 L343.3,1015.9 L344.2,1017.2 L345.0,1017.7 L345.9,1020.6 L346.7,1022.3 L347.6,1019.4 L348.5,1018.9 L349.3,1021.4 L350.2,1018.1 L351.0,1019.8 L351.9,1019.0 L352.8,1015.1 L353.6,1018.1 L354.5,1017.5 L355.3,1014.6 L356.2,1014.6 L357.1,1014.0 L357.9,1019.2 L358.8,1020.6 L359.6,1017.7 L360.5,1019.4 L361.4,1013.5 L362.2,1018.9 L363.1,1019.9 L363.9,1019.0 L364.8,1013.7 L365.7,1017.5 L366.5,1014.9 L367.4,1017.0 L368.2,1013.4 L369.1,1014.5 L370.0,1013.1 L370.8,1015.1 L371.7,1013.8 L372.5,1016.0 L373.4,1015.3 L374.3,1014.3 L375.1,1013.2 L376.0,1012.6 L376.8,1013.1 L377.7,1014.5 L378.6,1013.2 L379.4,1013.4 L380.3,1012.6 L381.1,1012.3 L382.0,1010.9 L382.9,1008.2 L383.7,1012.9 L384.6,1012.7 L385.4,1009.3 L386.3,1014.9 L387.2,1008.4 L388.0,1012.6 L388.9,1010.9 L389.7,1010.8 L390.6,1012.3 L391.5,1011.6 L392.3,1009.5 L393.2,1007.0 L394.0,1006.4 L394.9,1009.0 L395.8,1011.6 L396.6,1010.0 L397.5,1008.0 L398.3,1008.7 L399.2,1009.4 L400.1,1011.5 L400.9,1006.3 L401.8,1009.3 L402.6,1008.3 L403.5,1006.1 L404.4,1005.4 L405.2,1010.0 L406.1,1007.9 L406.9,1006.7 L407.8,1007.2 L408.7,1009.0 L409.5,1007.0 L410.4,1010.2 L411.2,1006.2 L412.1,1005.1 L413.0,1006.5 L413.8,1004.7 L414.7,1005.7 L415.5,1008.8 L416.4,1009.5 L417.3,1006.8 L418.1,1005.5 L419.0,1002.7 L419.8,1002.1 L420.7,1004.7 L421.6,1004.0 L422.4,1002.2 L423.3,1002.3 L424.1,1006.4 L425.0,1005.1 L425.9,1002.9 L426.7,1003.1 L427.6,1005.0 L428.4,1002.8 L429.3,1002.2 L430.2,998.0 L431.0,997.4 L431.9,996.6 L432.7,995.5 L433.6,999.9 L434.5,1000.3 L435.3,997.3 L436.2,999.9 L437.0,999.6 L437.9,998.3 L438.8,995.2 L439.6,1001.5 L440.5,1001.3 L441.3,997.1 L442.2,1002.6 L443.1,998.5 L443.9,996.7 L444.8,997.5 L445.6,994.4 L446.5,997.7 L447.4,994.9 L448.2,1000.9 L449.1,999.0 L449.9,995.1 L450.8,999.1 L451.7,993.8 L452.5,997.5 L453.4,997.8 L454.2,996.5 L455.1,993.4 L456.0,995.2 L456.8,994.7 L457.7,994.9 L458.5,997.8 L459.4,998.1 L460.3,997.8 L461.1,992.9 L462.0,992.6 L462.8,994.4 L463.7,995.3 L464.6,989.8 L465.4,993.0 L466.3,998.3 L467.1,991.5 L468.0,992.4 L468.9,992.3 L469.7,994.8 L470.6,993.3 L471.4,992.4 L472.3,989.5 L473.2,993.8 L474.0,992.1 L474.9,990.2 L475.7,991.4 L476.6,992.7 L477.5,987.4 L478.3,986.9 L479.2,987.9 L480.0,988.0 L480.9,983.1 L481.8,988.4 L482.6,992.2 L483.5,988.9 L484.3,991.9 L485.2,983.2 L486.1,989.2 L486.9,992.5 L487.8,992.8 L488.6,988.0 L489.5,987.1 L490.4,989.6 L491.2,985.8 L492.1,987.5 L492.9,984.4 L493.8,988.1 L494.7,987.8 L495.5,991.3 L496.4,988.3 L497.2,985.8 L498.1,986.9 L499.0,984.0 L499.8,986.9 L500.7,986.2 L501.5,987.5 L502.4,988.5 L503.3,981.7 L504.1,986.9 L505.0,987.7 L505.8,983.2 L506.7,990.3 L507.6,984.2 L508.4,991.6 L509.3,987.7 L510.1,988.1 L511.0,986.5 L511.9,988.2 L512.7,983.5 L513.6,984.1 L514.4,981.4 L515.3,987.2 L516.2,984.2 L517.0,987.5 L517.9,987.0 L518.7,982.3 L519.6,986.8 L520.5,985.5 L521.3,985.0 L522.2,985.2 L523.0,983.7 L523.9,983.3 L524.8,985.3 L525.6,979.9 L526.5,979.0 L527.3,979.7 L528.2,983.8 L529.1,980.4 L529.9,985.8 L530.8,973.5 L531.6,979.3 L532.5,980.0 L533.4,981.8 L534.2,984.5 L535.1,980.8 L535.9,978.9 L536.8,983.7 L537.7,985.7 L538.5,975.7 L539.4,983.8 L540.2,983.4 L541.1,980.8 L542.0,981.8 L542.8,983.9 L543.7,983.3 L544.5,982.7 L545.4,980.4 L546.3,984.0 L547.1,981.5 L548.0,983.3 L548.8,981.4 L549.7,983.2 L550.6,984.3 L551.4,982.8 L552.3,983.6 L553.1,978.3 L554.0,982.8 L554.9,982.3 L555.7,979.9 L556.6,981.0 L557.4,974.3 L558.3,981.4 L559.2,980.1 L560.0,975.4 L560.9,982.2 L561.7,979.2 L562.6,981.4 L563.5,980.0 L564.3,981.7 L565.2,980.6 L566.0,979.5 L566.9,981.3 L567.8,982.1 L568.6,974.4 L569.5,980.2 L570.3,978.8 L571.2,977.6 L572.1,983.7 L572.9,982.9 L573.8,977.7 L574.6,977.4 L575.5,982.1 L576.4,978.3 L577.2,979.0 L578.1,974.8 L578.9,979.5 L579.8,983.0 L580.7,979.1 L581.5,980.2 L582.4,985.3 L583.2,983.3 L584.1,984.8 L585.0,982.9 L585.8,984.4 L586.7,977.0 L587.5,979.1 L588.4,976.8 L589.3,986.7 L590.1,981.3 L591.0,980.4 L591.8,978.6 L592.7,977.9 L593.6,973.2 L594.4,986.3 L595.3,980.2 L596.1,980.6 L597.0,976.7 L597.9,980.1 L598.7,981.2 L599.6,979.9 L600.4,981.7 L601.3,977.9 L602.2,980.9 L603.0,982.4 L603.9,981.6 L604.7,981.2 L605.6,980.0 L606.5,977.9 L607.3,982.1 L608.2,979.8 L609.0,978.6 L609.9,983.2 L610.8,977.3 L611.6,980.2 L612.5,983.8 L613.3,984.4 L614.2,981.2 L615.1,982.5 L615.9,983.8 L616.8,982.2 L617.6,980.3 L618.5,983.3 L619.4,982.4 L620.2,982.0 L621.1,984.4 L621.9,982.2 L622.8,980.0 L623.7,981.6 L624.5,986.2 L625.4,979.3 L626.2,980.5 L627.1,979.2 L628.0,982.1 L628.8,977.8 L629.7,982.0 L630.5,982.6 L631.4,978.5 L632.3,978.1 L633.1,976.4 L634.0,980.3 L634.8,977.3 L635.7,978.6 L636.6,979.1 L637.4,978.5 L638.3,982.4 L639.1,984.3 L640.0,975.1 L640.9,978.5 L641.7,981.2 L642.6,978.2 L643.4,979.6 L644.3,981.6 L645.2,984.7 L646.0,984.2 L646.9,980.7 L647.7,981.7 L648.6,980.4 L649.5,980.8 L650.3,978.2 L651.2,976.6 L652.0,979.9 L652.9,983.2 L653.8,982.6 L654.6,976.1 L655.5,980.3 L656.3,979.4 L657.2,981.8 L658.1,978.6 L658.9,983.8 L659.8,981.3 L660.6,983.5 L661.5,984.4 L662.4,977.7 L663.2,982.1 L664.1,986.4 L664.9,982.9 L665.8,985.4 L666.7,983.9 L667.5,981.6 L668.4,983.4 L669.2,985.2 L670.1,985.7 L671.0,986.1 L671.8,980.0 L672.7,984.8 L673.5,979.7 L674.4,983.0 L675.3,983.1 L676.1,985.4 L677.0,985.0 L677.8,987.5 L678.7,983.2 L679.6,986.9 L680.4,985.9 L681.3,985.1 L682.1,982.2 L683.0,986.5 L683.9,985.9 L684.7,987.0 L685.6,985.0 L686.4,984.5 L687.3,986.1 L688.2,986.3 L689.0,986.9 L689.9,989.8 L690.7,983.8 L691.6,990.1 L692.5,978.1 L693.3,987.5 L694.2,983.1 L695.0,989.8 L695.9,982.8 L696.8,987.5 L697.6,982.7 L698.5,982.5 L699.3,987.3 L700.2,987.7 L701.1,984.3 L701.9,992.0 L702.8,985.9 L703.6,990.6 L704.5,984.7 L705.4,985.0 L706.2,987.6 L707.1,985.0 L707.9,988.5 L708.8,982.3 L709.7,987.6 L710.5,985.7 L711.4,984.6 L712.2,987.3 L713.1,986.2 L714.0,985.6 L714.8,988.6 L715.7,987.5 L716.5,987.8 L717.4,990.2 L718.3,987.2 L719.1,989.5 L720.0,986.8 L720.8,989.3 L721.7,989.3 L722.6,987.0 L723.4,984.9 L724.3,985.6 L725.1,986.5 L726.0,990.0 L726.9,988.5 L727.7,988.2 L728.6,989.9 L729.4,990.6 L730.3,992.1 L731.2,987.7 L732.0,990.5 L732.9,991.2 L733.7,987.8 L734.6,990.6 L735.5,988.6 L736.3,990.6 L737.2,992.4 L738.0,987.9 L738.9,989.9 L739.8,990.1 L740.6,992.2 L741.5,990.3 L742.3,992.7 L743.2,989.9 L744.1,990.6 L744.9,993.2 L745.8,992.6 L746.6,992.5 L747.5,992.3 L748.4,994.9 L749.2,996.1 L750.1,992.6 L750.9,992.1 L751.8,991.7 L752.7,997.9 L753.5,992.4 L754.4,991.6 L755.2,995.2 L756.1,997.0 L757.0,992.3 L757.8,994.9 L758.7,992.3 L759.5,994.1 L760.4,999.2 L761.3,996.4 L762.1,995.7 L763.0,996.7 L763.8,997.4 L764.7,996.9 L765.6,995.0 L766.4,995.4 L767.3,1002.3 L768.1,997.1 L769.0,1001.6 L769.9,998.2 L770.7,1002.8 L771.6,1002.0 L772.4,1000.6 L773.3,1005.5 L774.2,999.8 L775.0,1001.4 L775.9,1000.3 L776.7,1000.6 L777.6,1001.5 L778.5,1000.4 L779.3,1001.7 L780.2,1005.8 L781.0,999.1 L781.9,1000.3 L782.8,1001.2 L783.6,1002.5 L784.5,1005.9 L785.3,1005.7 L786.2,1005.5 L787.1,1005.2 L787.9,1010.0 L788.8,1002.8 L789.6,1002.9 L790.5,1005.2 L791.4,1005.7 L792.2,1004.8 L793.1,1003.6 L793.9,1002.7 L794.8,1005.0 L795.7,1004.2 L796.5,1004.8 L797.4,1003.8 L798.2,1008.9 L799.1,1007.2 L800.0,1010.2 L800.8,1005.5 L801.7,1006.8 L802.5,1006.4 L803.4,1007.2 L804.3,1007.0 L805.1,1007.6 L806.0,1004.3 L806.8,1008.2 L807.7,1010.5 L808.6,1005.6 L809.4,1009.1 L810.3,1011.2 L811.1,1012.8 L812.0,1010.3 L812.9,1011.5 L813.7,1014.3 L814.6,1013.6 L815.4,1010.3 L816.3,1010.3 L817.2,1013.8 L818.0,1012.6 L818.9,1011.5 L819.7,1012.4 L820.6,1013.9 L821.5,1013.1 L822.3,1013.3 L823.2,1013.5 L824.0,1011.2 L824.9,1017.7 L825.8,1016.9 L826.6,1017.6 L827.5,1014.5 L828.3,1015.3 L829.2,1016.5 L830.1,1017.2 L830.9,1012.4 L831.8,1017.0 L832.6,1014.6 L833.5,1016.7 L834.4,1015.8 L835.2,1020.6 L836.1,1018.5 L836.9,1017.6 L837.8,1020.5 L838.7,1017.9 L839.5,1016.9 L840.4,1018.2 L841.2,1018.1 L842.1,1019.1 L843.0,1021.0 L843.8,1019.5 L844.7,1019.9 L845.5,1022.3 L846.4,1021.2 L847.3,1022.8 L848.1,1021.6 L849.0,1019.1 L849.8,1019.7 L850.7,1019.0 L851.6,1024.6 L852.4,1023.5 L853.3,1022.0 L854.1,1021.2 L855.0,1023.9 L855.9,1023.1 L856.7,1024.0 L857.6,1021.7 L858.4,1021.2 L859.3,1026.4 L860.2,1021.5 L861.0,1023.4 L861.9,1026.2 L862.7,1020.2 L863.6,1025.4 L864.5,1024.4 L865.3,1024.2 L866.2,1025.3 L867.0,1022.7 L867.9,1021.0 L868.8,1029.3 L869.6,1025.3 L870.5,1027.8 L871.3,1028.4 L872.2,1026.9 L873.1,1027.3 L873.9,1027.8 L874.8,1029.5 L875.6,1027.4 L876.5,1029.0 L877.4,1026.1 L878.2,1026.1 L879.1,1027.4 L879.9,1028.3 L880.8,1028.9 L881.7,1031.9 L882.5,1030.1 L883.4,1028.9 L884.2,1032.7 L885.1,1029.7 L886.0,1029.9 L886.8,1030.2 L887.7,1028.7 L888.5,1027.3 L889.4,1029.7 L890.3,1028.9 L891.1,1028.0 L892.0,1029.9 L892.8,1029.4 L893.7,1028.8 L894.6,1026.7 L895.4,1029.8 L896.3,1033.6 L897.1,1032.1 L898.0,1032.6 L898.9,1030.6 L899.7,1032.7 L900.6,1029.5 L901.4,1030.0 L902.3,1031.9 L903.2,1028.4 L904.0,1031.3 L904.9,1031.9 L905.7,1034.6 L906.6,1030.4 L907.5,1032.7 L908.3,1031.0 L909.2,1031.5 L910.0,1027.8 L910.9,1031.4 L911.8,1035.7 L912.6,1034.8 L913.5,1034.4 L914.3,1038.9 L915.2,1035.6 L916.1,1032.5 L916.9,1034.7 L917.8,1035.2 L918.6,1038.5 L919.5,1034.0 L920.4,1036.7 L921.2,1037.8 L922.1,1034.5 L922.9,1036.1 L923.8,1032.0 L924.7,1035.8 L925.5,1031.3 L926.4,1034.5 L927.2,1038.3 L928.1,1035.8 L929.0,1035.0 L929.8,1035.2 L930.7,1039.1 L931.5,1036.2 L932.4,1037.3 L933.3,1034.8 L934.1,1035.0 L935.0,1034.1 L935.8,1036.0 L936.7,1035.3 L937.6,1038.7 L938.4,1038.3 L939.3,1037.0 L940.1,1036.5 L941.0,1032.2 L941.9,1036.8 L942.7,1038.8 L943.6,1039.7 L944.4,1032.8 L945.3,1034.2 L946.2,1039.3 L947.0,1037.1 L947.9,1038.7 L948.7,1038.3 L949.6,1040.2 L950.5,1035.5 L951.3,1037.8 L952.2,1040.6 L953.0,1039.0 L953.9,1037.0 L954.8,1039.4 L955.6,1039.0 L956.5,1036.8 L957.3,1039.8 L958.2,1039.9 L959.1,1038.4 L959.9,1040.5 L960.8,1036.5 L961.6,1040.3 L962.5,1038.5 L963.4,1037.2 L964.2,1037.9 L965.1,1041.5 L965.9,1038.4 L966.8,1039.1 L967.7,1038.7 L968.5,1038.7 L969.4,1042.3 L970.2,1044.9 L971.1,1043.4 L972.0,1041.9 L972.8,1042.4 L973.7,1040.4 L974.5,1040.1 L975.4,1038.9 L976.3,1043.8 L977.1,1040.4 L978.0,1039.7 L978.8,1039.8 L979.7,1041.3 L980.6,1039.8 L981.4,1040.9 L982.3,1041.1 L983.1,1043.3 L984.0,1038.4 L984.9,1041.3 L985.7,1039.4 L986.6,1039.9 L987.4,1043.8 L988.3,1041.9 L989.2,1040.1 L990.0,1041.8 L990.9,1040.9 L991.7,1043.1 L992.6,1040.2 L993.5,1042.1 L994.3,1040.8 L995.2,1041.3 L996.0,1041.0 L996.9,1040.2 L997.8,1041.7 L998.6,1043.4 L999.5,1040.6 L1000.3,1041.0 L1001.2,1042.5 L1002.1,1040.4 L1002.9,1043.4 L1003.8,1043.1 L1004.6,1037.6 L1005.5,1040.6 L1006.4,1039.9 L1007.2,1043.5 L1008.1,1043.8 L1008.9,1040.0 L1009.8,1041.1 L1010.7,1042.3 L1011.5,1041.9 L1012.4,1044.0 L1013.2,1044.7 L1014.1,1044.1 L1015.0,1045.1 L1015.8,1044.9 L1016.7,1043.2 L1017.5,1042.6 L1018.4,1042.1 L1019.3,1045.0 L1020.1,1045.1 L1021.0,1045.4 L1021.8,1043.1 L1022.7,1043.1 L1023.6,1044.5 L1024.4,1046.5 L1025.3,1045.0 L1026.1,1044.9 L1027.0,1042.9 L1027.9,1045.3 L1028.7,1045.3 L1029.6,1042.4 L1030.4,1047.4 L1031.3,1042.2 L1032.2,1045.6 L1033.0,1043.5 L1033.9,1044.2 L1034.7,1042.5 L1035.6,1043.1 L1036.5,1045.7 L1037.3,1044.1 L1038.2,1044.0 L1039.0,1046.4 L1039.9,1046.1 L1040.8,1045.2 L1041.6,1045.4 L1042.5,1048.3 L1043.3,1044.8 L1044.2,1046.0 L1045.1,1046.2 L1045.9,1042.9 L1046.8,1041.9 L1047.6,1045.8 L1048.5,1047.2 L1049.4,1045.8 L1050.2,1044.2 L1051.1,1043.7 L1051.9,1046.3 L1052.8,1043.9 L1053.7,1041.1 L1054.5,1045.2 L1055.4,1044.2 L1056.2,1044.3 L1057.1,1045.5 L1058.0,1046.0 L1058.8,1044.5 L1059.7,1043.2 L1060.5,1039.7 L1061.4,1044.5 L1062.3,1043.9 L1063.1,1046.9 L1064.0,1047.0 L1064.8,1045.7 L1065.7,1047.5 L1066.6,1044.8 L1067.4,1044.8 L1068.3,1043.2 L1069.1,1044.1 L1070.0,1044.9 L1070.9,1046.3 L1071.7,1042.7 L1072.6,1045.5 L1073.4,1048.3 L1074.3,1041.3 L1075.2,1043.5 L1076.0,1044.1 L1076.9,1046.1 L1077.7,1048.1 L1078.6,1046.7 L1079.5,1044.4 L1080.3,1042.9 L1081.2,1044.5 L1082.0,1044.5 L1082.9,1045.0 L1083.8,1042.8 L1084.6,1047.4 L1085.5,1043.1 L1086.3,1045.7 L1087.2,1044.8 L1088.1,1042.3 L1088.9,1044.4 L1089.8,1044.3 L1090.6,1043.8 L1091.5,1045.6 L1092.4,1043.1 L1093.2,1048.7 L1094.1,1046.0 L1094.9,1042.1 L1095.8,1039.2 L1096.7,1046.3 L1097.5,1044.5 L1098.4,1044.3 L1099.2,1042.5 L1100.1,1041.8 L1101.0,1041.1 L1101.8,1049.6 L1102.7,1047.8 L1103.5,1043.8 L1104.4,1048.3 L1105.3,1041.2 L1106.1,1045.9 L1107.0,1045.8 L1107.8,1042.8 L1108.7,1043.5 L1109.6,1042.4 L1110.4,1044.5 L1111.3,1047.1 L1112.1,1046.6 L1113.0,1045.7 L1113.9,1047.2 L1114.7,1041.9 L1115.6,1049.1 L1116.4,1045.2 L1117.3,1042.8 L1118.2,1044.5 L1119.0,1044.0 L1119.9,1045.4 L1120.7,1045.8 L1121.6,1040.8 L1122.5,1047.6 L1123.3,1048.4 L1124.2,1043.2 L1125.0,1047.8 L1125.9,1047.2 L1126.8,1046.6 L1127.6,1047.6 L1128.5,1041.8 L1129.3,1045.6 L1130.2,1042.3 L1131.1,1048.7 L1131.9,1042.5 L1132.8,1042.1 L1133.6,1046.6 L1134.5,1045.7 L1135.4,1044.7 L1136.2,1044.9 L1137.1,1045.8 L1137.9,1047.8 L1138.8,1043.1 L1139.7,1043.4 L1140.5,1043.3 L1141.4,1044.2 L1142.2,1044.4 L1143.1,1041.9 L1144.0,1045.0 L1144.8,1042.2 L1145.7,1044.2 L1146.5,1044.4 L1147.4,1044.5 L1148.3,1047.8 L1149.1,1048.1 L1150.0,1046.9 L1150.8,1047.6 L1151.7,1043.8 L1152.6,1046.7 L1153.4,1043.7 L1154.3,1044.1 L1155.1,1044.1 L1156.0,1041.0 L1156.9,1042.5 L1157.7,1043.6 L1158.6,1044.9 L1159.4,1044.2 L1160.3,1043.1 L1161.2,1042.8 L1162.0,1045.2 L1162.9,1043.0 L1163.7,1043.1 L1164.6,1045.1 L1165.5,1045.7 L1166.3,1043.8 L1167.2,1042.1 L1168.0,1046.1 L1168.9,1047.3 L1169.8,1045.1 L1170.6,1045.2 L1171.5,1041.5 L1172.3,1047.5 L1173.2,1043.5 L1174.1,1046.7 L1174.9,1043.9 L1175.8,1044.4 L1176.6,1044.0 L1177.5,1040.6 L1178.4,1049.0 L1179.2,1040.7 L1180.1,1043.8 L1180.9,1042.2 L1181.8,1043.4 L1182.7,1046.7 L1183.5,1040.8 L1184.4,1044.3 L1185.2,1045.8 L1186.1,1045.3 L1187.0,1046.0 L1187.8,1044.0 L1188.7,1042.4 L1189.5,1043.1 L1190.4,1044.8 L1191.3,1047.0 L1192.1,1045.8 L1193.0,1048.6 L1193.8,1045.7 L1194.7,1045.8 L1195.6,1045.8 L1196.4,1042.1 L1197.3,1046.4 L1198.1,1043.2 L1199.0,1044.5 L1199.9,1049.5 L1200.7,1042.6 L1201.6,1045.0 L1202.4,1045.1 L1203.3,1044.6 L1204.2,1044.1 L1205.0,1043.0 L1205.9,1047.7 L1206.7,1040.1 L1207.6,1042.0 L1208.5,1046.8 L1209.3,1045.1 L1210.2,1042.6 L1211.0,1042.4 L1211.9,1043.6 L1212.8,1049.0 L1213.6,1044.9 L1214.5,1042.0 L1215.3,1044.4 L1216.2,1042.8 L1217.1,1046.9 L1217.9,1044.7 L1218.8,1046.7 L1219.6,1044.7 L1220.5,1048.4 L1221.4,1045.4 L1222.2,1045.2 L1223.1,1042.8 L1223.9,1044.0 L1224.8,1045.5 L1225.7,1043.9 L1226.5,1049.5 L1227.4,1044.9 L1228.2,1043.6 L1229.1,1047.0 L1230.0,1044.3 L1230.8,1046.1 L1231.7,1045.3 L1232.5,1044.2 L1233.4,1048.2 L1234.3,1045.8 L1235.1,1047.7 L1236.0,1045.1 L1236.8,1043.1 L1237.7,1043.5 L1238.6,1045.0 L1239.4,1045.7 L1240.3,1046.2 L1241.1,1047.2 L1242.0,1044.0 L1242.9,1046.8 L1243.7,1044.1 L1244.6,1045.2 L1245.4,1051.2 L1246.3,1048.8 L1247.2,1045.8 L1248.0,1049.8 L1248.9,1049.1 L1249.7,1048.1 L1250.6,1049.2 L1251.5,1046.0 L1252.3,1046.2 L1253.2,1044.8 L1254.0,1047.4 L1254.9,1044.0 L1255.8,1045.3 L1256.6,1047.0 L1257.5,1045.3 L1258.3,1046.8 L1259.2,1049.5 L1260.1,1044.4 L1260.9,1048.8 L1261.8,1045.1 L1262.6,1044.7 L1263.5,1046.9 L1264.4,1048.5 L1265.2,1045.5 L1266.1,1045.6 L1266.9,1046.3 L1267.8,1045.9 L1268.7,1047.7 L1269.5,1046.1 L1270.4,1047.0 L1271.2,1048.2 L1272.1,1046.8 L1273.0,1049.6 L1273.8,1046.3 L1274.7,1046.1 L1275.5,1051.2 L1276.4,1050.2 L1277.3,1047.7 L1278.1,1049.1 L1279.0,1048.4 L1279.8,1047.0 L1280.7,1049.2 L1281.6,1048.7 L1282.4,1050.6 L1283.3,1045.2 L1284.1,1050.0 L1285.0,1049.0 L1285.9,1047.6 L1286.7,1048.1 L1287.6,1048.2 L1288.4,1046.5 L1289.3,1047.7 L1290.2,1050.0 L1291.0,1045.6 L1291.9,1047.4 L1292.7,1043.6 L1293.6,1046.6 L1294.5,1048.1 L1295.3,1047.3 L1296.2,1047.5 L1297.0,1045.5 L1297.9,1048.6 L1298.8,1046.2 L1299.6,1049.7 L1300.5,1048.7 L1301.3,1047.9 L1302.2,1051.5 L1303.1,1048.4 L1303.9,1051.1 L1304.8,1049.6 L1305.6,1049.4 L1306.5,1051.2 L1307.4,1050.1 L1308.2,1049.2 L1309.1,1048.9 L1309.9,1049.4 L1310.8,1049.2 L1311.7,1048.4 L1312.5,1047.2 L1313.4,1044.4 L1314.2,1048.9 L1315.1,1048.7 L1316.0,1051.2 L1316.8,1049.9 L1317.7,1051.1 L1318.5,1052.2 L1319.4,1049.0 L1320.3,1047.7 L1321.1,1050.7 L1322.0,1048.2 L1322.8,1048.9 L1323.7,1051.9 L1324.6,1050.3 L1325.4,1051.2 L1326.3,1046.8 L1327.1,1049.2 L1328.0,1051.0 L1328.9,1046.6 L1329.7,1049.2 L1330.6,1049.4 L1331.4,1044.5 L1332.3,1051.3 L1333.2,1047.2 L1334.0,1048.2 L1334.9,1051.4 L1335.7,1045.3 L1336.6,1049.3 L1337.5,1047.8 L1338.3,1048.9 L1339.2,1047.5 L1340.0,1051.6 L1340.9,1047.4 L1341.8,1050.3 L1342.6,1050.8 L1343.5,1049.8 L1344.3,1049.7 L1345.2,1049.8 L1346.1,1052.2 L1346.9,1051.3 L1347.8,1050.4 L1348.6,1048.7 L1349.5,1051.0 L1350.4,1051.7 L1351.2,1050.7 L1352.1,1053.3 L1352.9,1047.4 L1353.8,1055.1 L1354.7,1050.4 L1355.5,1048.7 L1356.4,1047.6 L1357.2,1052.2 L1358.1,1051.7 L1359.0,1050.3 L1359.8,1050.6 L1360.7,1051.0 L1361.5,1050.0 L1362.4,1052.7 L1363.3,1051.8 L1364.1,1050.5 L1365.0,1047.8 L1365.8,1053.0 L1366.7,1049.7 L1367.6,1048.7 L1368.4,1052.8 L1369.3,1051.4 L1370.1,1047.1 L1371.0,1047.7 L1371.9,1050.0 L1372.7,1048.6 L1373.6,1050.6 L1374.4,1055.6 L1375.3,1056.3 L1376.2,1051.2 L1377.0,1052.7 L1377.9,1052.9 L1378.7,1051.2 L1379.6,1048.8 L1380.5,1053.2 L1381.3,1050.9 L1382.2,1051.9 L1383.0,1052.1 L1383.9,1049.3 L1384.8,1053.4 L1385.6,1050.4 L1386.5,1050.5 L1387.3,1049.2 L1388.2,1051.1 L1389.1,1051.5 L1389.9,1048.8 L1390.8,1050.8 L1391.6,1049.1 L1392.5,1047.8 L1393.4,1049.6 L1394.2,1051.4 L1395.1,1051.5 L1395.9,1052.7 L1396.8,1049.9 L1397.7,1050.7 L1398.5,1051.5 L1399.4,1052.6 L1400.2,1051.4 L1401.1,1050.0 L1402.0,1049.0 L1402.8,1053.7 L1403.7,1053.6 L1404.5,1050.6 L1405.4,1054.3 L1406.3,1051.6 L1407.1,1052.5 L1408.0,1054.0 L1408.8,1051.0 L1409.7,1050.5 L1410.6,1048.9 L1411.4,1052.4 L1412.3,1052.6 L1413.1,1053.3 L1414.0,1052.8 L1414.9,1051.9 L1415.7,1053.6 L1416.6,1049.8 L1417.4,1052.2 L1418.3,1052.3 L1419.2,1051.1 L1420.0,1054.1 L1420.9,1051.8 L1421.7,1053.3 L1422.6,1052.4 L1423.5,1050.5 L1424.3,1054.2 L1425.2,1052.8 L1426.0,1051.1 L1426.9,1051.0 L1427.8,1049.6 L1428.6,1051.3 L1429.5,1051.2 L1430.3,1052.1 L1431.2,1051.1 L1432.1,1052.8 L1432.9,1051.7 L1433.8,1049.1 L1434.6,1050.9 L1435.5,1050.3 L1436.4,1049.7 L1437.2,1051.5 L1438.1,1053.6 L1438.9,1050.3 L1439.8,1048.9 L1440.7,1052.3 L1441.5,1057.8 L1442.4,1051.9 L1443.2,1053.5 L1444.1,1052.4 L1445.0,1054.7 L1445.8,1055.7 L1446.7,1053.0 L1447.5,1055.3 L1448.4,1051.4 L1449.3,1053.5 L1450.1,1051.0 L1451.0,1053.3 L1451.8,1051.8 L1452.7,1053.2 L1453.6,1050.7 L1454.4,1052.9 L1455.3,1052.6 L1456.1,1051.5 L1457.0,1051.1 L1457.9,1050.5 L1458.7,1051.9 L1459.6,1053.3 L1460.4,1052.5 L1461.3,1053.0 L1462.2,1055.0 L1463.0,1052.4 L1463.9,1053.5 L1464.7,1054.5 L1465.6,1054.2 L1466.5,1054.2 L1467.3,1053.9 L1468.2,1057.1 L1469.0,1053.9 L1469.9,1053.5 L1470.8,1055.2 L1471.6,1057.0 L1472.5,1056.7 L1473.3,1054.3 L1474.2,1055.6 L1475.1,1055.1 L1475.9,1054.3 L1476.8,1055.3 L1477.6,1055.2 L1478.5,1054.3 L1479.4,1056.8 L1480.2,1053.2 L1481.1,1056.0 L1481.9,1057.0 L1482.8,1056.8 L1483.7,1053.6 L1484.5,1052.6 L1485.4,1050.0 L1486.2,1052.4 L1487.1,1056.4 L1488.0,1049.7 L1488.8,1049.7 L1489.7,1053.6 L1490.5,1053.3 L1491.4,1049.3 L1492.3,1052.3 L1493.1,1053.1 L1494.0,1050.1 L1494.8,1054.2 L1495.7,1050.4 L1496.6,1054.5 L1497.4,1053.0 L1498.3,1051.5 L1499.1,1050.0 L1500.0,1052.1 L1500.9,1052.5 L1501.7,1052.4 L1502.6,1051.7 L1503.4,1052.3 L1504.3,1054.0 L1505.2,1051.1 L1506.0,1052.3 L1506.9,1053.5 L1507.7,1052.8 L1508.6,1054.3 L1509.5,1055.5 L1510.3,1052.4 L1511.2,1053.3 L1512.0,1048.2 L1512.9,1052.3 L1513.8,1054.0 L1514.6,1051.0 L1515.5,1055.0 L1516.3,1049.8 L1517.2,1055.1 L1518.1,1052.1 L1518.9,1051.4 L1519.8,1052.3 L1520.6,1052.7 L1521.5,1051.6 L1522.4,1051.1 L1523.2,1052.6 L1524.1,1055.0 L1524.9,1054.2 L1525.8,1055.7 L1526.7,1052.7 L1527.5,1053.1 L1528.4,1053.1 L1529.2,1053.8 L1530.1,1054.2 L1531.0,1056.2 L1531.8,1054.4 L1532.7,1053.4 L1533.5,1055.2 L1534.4,1051.7 L1535.3,1050.9 L1536.1,1053.9 L1537.0,1053.2 L1537.8,1053.2" fill="none" stroke="#646496" stroke-width="5.6" stroke-linejoin="round" stroke-linecap="butt"/>
<path d="M38.0,1172.8 L38.9,1175.6 L39.7,1169.8 L40.6,1175.6 L41.4,1172.8 L42.3,1174.6 L43.2,1171.7 L44.0,1176.8 L44.9,1172.1 L45.7,1173.9 L46.6,1176.6 L47.5,1172.2 L48.3,1170.5 L49.2,1174.1 L50.0,1173.0 L50.9,1172.7 L51.8,1172.8 L52.6,1172.0 L53.5,1176.5 L54.3,1176.3 L55.2,1172.3 L56.1,1174.4 L56.9,1173.9 L57.8,1176.3 L58.6,1173.3 L59.5,1177.2 L60.4,1174.7 L61.2,1173.5 L62.1,1174.6 L62.9,1173.9 L63.8,1178.5 L64.7,1175.3 L65.5,1174.4 L66.4,1175.4 L67.2,1177.7 L68.1,1174.1 L69.0,1173.1 L69.8,1178.0 L70.7,1177.1 L71.5,1175.6 L72.4,1176.3 L73.3,1178.2 L74.1,1172.3 L75.0,1178.4 L75.8,1176.1 L76.7,1177.3 L77.6,1176.0 L78.4,1180.7 L79.3,1174.9 L80.1,1177.4 L81.0,1171.6 L81.9,1175.7 L82.7,1176.9 L83.6,1173.3 L84.4,1172.6 L85.3,1176.0 L86.2,1177.6 L87.0,1178.0 L87.9,1175.2 L88.7,1176.9 L89.6,1174.3 L90.5,1179.4 L91.3,1175.9 L92.2,1178.9 L93.0,1176.5 L93.9,1176.5 L94.8,1179.6 L95.6,1175.7 L96.5,1179.0 L97.3,1176.3 L98.2,1175.3 L99.1,1175.2 L99.9,1178.0 L100.8,1175.9 L101.6,1175.3 L102.5,1173.3 L103.4,1177.5 L104.2,1177.2 L105.1,1176.0 L105.9,1176.7 L106.8,1170.4 L107.7,1174.7 L108.5,1175.8 L109.4,1175.7 L110.2,1174.7 L111.1,1176.1 L112.0,1174.6 L112.8,1174.9 L113.7,1174.1 L114.5,1176.4 L115.4,1175.1 L116.3,1175.4 L117.1,1178.4 L118.0,1176.1 L118.8,1176.1 L119.7,1173.6 L120.6,1175.2 L121.4,1177.6 L122.3,1176.9 L123.1,1176.1 L124.0,1175.7 L124.9,1176.1 L125.7,1176.5 L126.6,1175.3 L127.4,1171.7 L128.3,1178.9 L129.2,1177.6 L130.0,1175.5 L130.9,1178.0 L131.7,1173.6 L132.6,1177.8 L133.5,1175.9 L134.3,1176.9 L135.2,1174.7 L136.0,1175.3 L136.9,1175.8 L137.8,1176.4 L138.6,1175.4 L139.5,1175.2 L140.3,1173.5 L141.2,1177.2 L142.1,1174.9 L142.9,1174.3 L143.8,1174.3 L144.6,1172.9 L145.5,1173.8 L146.4,1172.6 L147.2,1175.4 L148.1,1174.9 L148.9,1175.4 L149.8,1173.0 L150.7,1174.3 L151.5,1174.0 L152.4,1176.7 L153.2,1172.7 L154.1,1172.8 L155.0,1177.4 L155.8,1175.8 L156.7,1172.6 L157.5,1177.2 L158.4,1177.2 L159.3,1176.3 L160.1,1170.8 L161.0,1174.1 L161.8,1172.3 L162.7,1173.2 L163.6,1171.0 L164.4,1176.6 L165.3,1172.7 L166.1,1174.5 L167.0,1175.6 L167.9,1175.4 L168.7,1175.2 L169.6,1173.9 L170.4,1175.0 L171.3,1174.3 L172.2,1170.8 L173.0,1176.2 L173.9,1173.5 L174.7,1173.6 L175.6,1173.7 L176.5,1172.0 L177.3,1172.2 L178.2,1171.1 L179.0,1174.8 L179.9,1175.9 L180.8,1174.0 L181.6,1171.8 L182.5,1175.8 L183.3,1173.0 L184.2,1170.8 L185.1,1170.2 L185.9,1173.6 L186.8,1175.6 L187.6,1172.4 L188.5,1171.9 L189.4,1172.5 L190.2,1171.5 L191.1,1172.0 L191.9,1173.3 L192.8,1171.7 L193.7,1174.4 L194.5,1171.1 L195.4,1173.9 L196.2,1173.1 L197.1,1171.8 L198.0,1171.8 L198.8,1171.7 L199.7,1175.1 L200.5,1170.9 L201.4,1174.3 L202.3,1174.0 L203.1,1171.8 L204.0,1175.2 L204.8,1168.4 L205.7,1172.9 L206.6,1172.7 L207.4,1172.5 L208.3,1173.7 L209.1,1171.5 L210.0,1171.6 L210.9,1173.6 L211.7,1171.2 L212.6,1169.4 L213.4,1171.9 L214.3,1170.7 L215.2,1169.8 L216.0,1171.7 L216.9,1169.4 L217.7,1169.1 L218.6,1170.4 L219.5,1170.5 L220.3,1170.8 L221.2,1168.5 L222.0,1173.5 L222.9,1171.5 L223.8,1170.3 L224.6,1170.2 L225.5,1165.2 L226.3,1171.0 L227.2,1167.3 L228.1,1169.7 L228.9,1166.5 L229.8,1170.1 L230.6,1167.2 L231.5,1167.6 L232.4,1170.6 L233.2,1169.6 L234.1,1165.4 L234.9,1166.7 L235.8,1168.4 L236.7,1167.7 L237.5,1169.6 L238.4,1167.0 L239.2,1164.9 L240.1,1166.5 L241.0,1167.7 L241.8,1168.9 L242.7,1169.2 L243.5,1169.9 L244.4,1168.0 L245.3,1167.1 L246.1,1168.6 L247.0,1167.0 L247.8,1166.1 L248.7,1165.9 L249.6,1168.2 L250.4,1168.9 L251.3,1168.4 L252.1,1162.8 L253.0,1167.4 L253.9,1163.1 L254.7,1164.3 L255.6,1165.8 L256.4,1162.2 L257.3,1162.3 L258.2,1163.2 L259.0,1167.6 L259.9,1166.6 L260.7,1163.1 L261.6,1165.0 L262.5,1164.9 L263.3,1165.2 L264.2,1163.3 L265.0,1167.1 L265.9,1163.7 L266.8,1165.8 L267.6,1161.1 L268.5,1164.8 L269.3,1164.2 L270.2,1166.3 L271.1,1159.0 L271.9,1164.7 L272.8,1165.2 L273.6,1163.2 L274.5,1166.1 L275.4,1167.6 L276.2,1165.4 L277.1,1165.2 L277.9,1166.2 L278.8,1164.4 L279.7,1165.8 L280.5,1164.5 L281.4,1161.9 L282.2,1161.1 L283.1,1164.9 L284.0,1163.6 L284.8,1161.1 L285.7,1162.1 L286.5,1164.5 L287.4,1158.6 L288.3,1159.8 L289.1,1162.5 L290.0,1162.6 L290.8,1158.9 L291.7,1159.2 L292.6,1161.2 L293.4,1163.3 L294.3,1160.8 L295.1,1156.5 L296.0,1162.4 L296.9,1160.4 L297.7,1159.5 L298.6,1158.0 L299.4,1162.0 L300.3,1160.1 L301.2,1160.1 L302.0,1159.7 L302.9,1159.6 L303.7,1160.1 L304.6,1161.4 L305.5,1156.1 L306.3,1157.6 L307.2,1156.7 L308.0,1160.2 L308.9,1156.4 L309.8,1153.7 L310.6,1156.2 L311.5,1154.6 L312.3,1154.2 L313.2,1154.3 L314.1,1152.4 L314.9,1150.9 L315.8,1157.6 L316.6,1153.5 L317.5,1151.7 L318.4,1154.3 L319.2,1155.3 L320.1,1149.5 L320.9,1151.7 L321.8,1152.9 L322.7,1150.7 L323.5,1153.0 L324.4,1149.8 L325.2,1150.8 L326.1,1151.7 L327.0,1152.6 L327.8,1151.7 L328.7,1150.1 L329.5,1150.4 L330.4,1146.9 L331.3,1154.7 L332.1,1149.6 L333.0,1149.6 L333.8,1150.4 L334.7,1150.8 L335.6,1150.1 L336.4,1147.9 L337.3,1145.7 L338.1,1148.2 L339.0,1146.6 L339.9,1146.7 L340.7,1147.4 L341.6,1147.6 L342.4,1149.4 L343.3,1146.4 L344.2,1143.2 L345.0,1147.5 L345.9,1148.1 L346.7,1142.9 L347.6,1147.1 L348.5,1146.1 L349.3,1144.4 L350.2,1145.5 L351.0,1145.7 L351.9,1145.8 L352.8,1146.7 L353.6,1144.3 L354.5,1144.2 L355.3,1148.9 L356.2,1141.9 L357.1,1143.4 L357.9,1143.1 L358.8,1145.2 L359.6,1145.8 L360.5,1140.9 L361.4,1145.9 L362.2,1141.0 L363.1,1148.4 L363.9,1141.8 L364.8,1145.2 L365.7,1142.4 L366.5,1144.2 L367.4,1141.2 L368.2,1142.8 L369.1,1142.4 L370.0,1142.5 L370.8,1143.8 L371.7,1141.3 L372.5,1141.4 L373.4,1139.4 L374.3,1141.6 L375.1,1140.7 L376.0,1143.2 L376.8,1142.5 L377.7,1139.4 L378.6,1141.2 L379.4,1142.5 L380.3,1139.0 L381.1,1136.6 L382.0,1143.4 L382.9,1139.3 L383.7,1139.3 L384.6,1142.5 L385.4,1135.8 L386.3,1137.8 L387.2,1133.3 L388.0,1137.8 L388.9,1137.4 L389.7,1134.9 L390.6,1134.6 L391.5,1135.7 L392.3,1135.5 L393.2,1138.9 L394.0,1135.2 L394.9,1135.2 L395.8,1134.9 L396.6,1131.9 L397.5,1133.7 L398.3,1131.5 L399.2,1133.8 L400.1,1128.6 L400.9,1130.1 L401.8,1132.2 L402.6,1127.0 L403.5,1127.7 L404.4,1132.5 L405.2,1127.8 L406.1,1130.4 L406.9,1131.2 L407.8,1128.6 L408.7,1127.5 L409.5,1134.0 L410.4,1129.9 L411.2,1131.9 L412.1,1129.1 L413.0,1131.0 L413.8,1127.3 L414.7,1126.7 L415.5,1127.0 L416.4,1127.4 L417.3,1127.1 L418.1,1127.3 L419.0,1128.5 L419.8,1126.2 L420.7,1128.8 L421.6,1125.1 L422.4,1127.3 L423.3,1128.1 L424.1,1128.5 L425.0,1120.4 L425.9,1127.7 L426.7,1120.2 L427.6,1126.5 L428.4,1123.3 L429.3,1123.8 L430.2,1121.0 L431.0,1124.7 L431.9,1123.9 L432.7,1121.1 L433.6,1120.7 L434.5,1123.6 L435.3,1123.8 L436.2,1123.0 L437.0,1120.4 L437.9,1121.1 L438.8,1122.9 L439.6,1122.5 L440.5,1122.9 L441.3,1120.6 L442.2,1118.7 L443.1,1120.6 L443.9,1120.7 L444.8,1118.4 L445.6,1120.2 L446.5,1117.2 L447.4,1119.3 L448.2,1117.2 L449.1,1122.7 L449.9,1120.4 L450.8,1118.1 L451.7,1114.3 L452.5,1114.2 L453.4,1118.1 L454.2,1116.0 L455.1,1116.8 L456.0,1112.6 L456.8,1112.7 L457.7,1116.2 L458.5,1115.4 L459.4,1112.8 L460.3,1113.9 L461.1,1117.1 L462.0,1114.2 L462.8,1116.2 L463.7,1118.3 L464.6,1115.2 L465.4,1114.5 L466.3,1112.7 L467.1,1116.6 L468.0,1110.6 L468.9,1111.3 L469.7,1113.5 L470.6,1110.1 L471.4,1115.4 L472.3,1111.6 L473.2,1113.9 L474.0,1111.8 L474.9,1111.6 L475.7,1112.0 L476.6,1107.4 L477.5,1109.4 L478.3,1110.8 L479.2,1117.1 L480.0,1114.0 L480.9,1114.0 L481.8,1110.2 L482.6,1114.7 L483.5,1115.6 L484.3,1114.5 L485.2,1118.7 L486.1,1109.5 L486.9,1109.9 L487.8,1111.6 L488.6,1109.8 L489.5,1112.0 L490.4,1112.9 L491.2,1111.5 L492.1,1111.7 L492.9,1112.2 L493.8,1112.9 L494.7,1109.5 L495.5,1109.4 L496.4,1113.7 L497.2,1110.0 L498.1,1108.8 L499.0,1111.4 L499.8,1109.7 L500.7,1110.7 L501.5,1110.0 L502.4,1111.4 L503.3,1111.7 L504.1,1107.2 L505.0,1106.0 L505.8,1112.2 L506.7,1106.5 L507.6,1104.2 L508.4,1103.1 L509.3,1107.2 L510.1,1105.6 L511.0,1102.7 L511.9,1104.7 L512.7,1104.3 L513.6,1109.1 L514.4,1107.2 L515.3,1106.5 L516.2,1103.4 L517.0,1105.9 L517.9,1107.8 L518.7,1106.5 L519.6,1108.5 L520.5,1106.1 L521.3,1107.5 L522.2,1106.9 L523.0,1104.5 L523.9,1109.2 L524.8,1106.9 L525.6,1108.2 L526.5,1103.7 L527.3,1103.8 L528.2,1106.3 L529.1,1104.9 L529.9,1108.7 L530.8,1108.3 L531.6,1110.5 L532.5,1108.8 L533.4,1104.4 L534.2,1109.6 L535.1,1105.4 L535.9,1105.1 L536.8,1107.1 L537.7,1106.8 L538.5,1109.4 L539.4,1113.9 L540.2,1107.7 L541.1,1110.3 L542.0,1106.1 L542.8,1107.6 L543.7,1105.5 L544.5,1106.0 L545.4,1110.7 L546.3,1108.6 L547.1,1108.8 L548.0,1105.8 L548.8,1112.3 L549.7,1107.5 L550.6,1106.3 L551.4,1107.8 L552.3,1109.5 L553.1,1109.5 L554.0,1111.2 L554.9,1104.5 L555.7,1105.8 L556.6,1110.6 L557.4,1112.2 L558.3,1104.7 L559.2,1105.9 L560.0,1102.2 L560.9,1104.1 L561.7,1104.0 L562.6,1106.1 L563.5,1103.5 L564.3,1108.9 L565.2,1106.5 L566.0,1106.0 L566.9,1108.9 L567.8,1105.8 L568.6,1103.2 L569.5,1106.1 L570.3,1111.1 L571.2,1105.7 L572.1,1106.5 L572.9,1104.4 L573.8,1104.0 L574.6,1105.4 L575.5,1097.3 L576.4,1100.4 L577.2,1101.7 L578.1,1102.2 L578.9,1106.3 L579.8,1108.6 L580.7,1104.1 L581.5,1103.5 L582.4,1104.3 L583.2,1106.4 L584.1,1100.4 L585.0,1101.8 L585.8,1103.6 L586.7,1104.1 L587.5,1098.8 L588.4,1104.5 L589.3,1099.6 L590.1,1105.3 L591.0,1105.4 L591.8,1097.7 L592.7,1104.2 L593.6,1103.2 L594.4,1101.0 L595.3,1104.6 L596.1,1107.0 L597.0,1103.3 L597.9,1099.4 L598.7,1098.7 L599.6,1099.6 L600.4,1100.3 L601.3,1106.0 L602.2,1104.3 L603.0,1103.8 L603.9,1106.2 L604.7,1104.1 L605.6,1104.0 L606.5,1101.6 L607.3,1101.8 L608.2,1103.2 L609.0,1099.9 L609.9,1106.8 L610.8,1102.8 L611.6,1101.0 L612.5,1104.8 L613.3,1099.7 L614.2,1105.0 L615.1,1102.6 L615.9,1107.0 L616.8,1100.8 L617.6,1101.0 L618.5,1099.7 L619.4,1098.5 L620.2,1102.0 L621.1,1098.5 L621.9,1101.8 L622.8,1099.3 L623.7,1103.5 L624.5,1094.4 L625.4,1101.9 L626.2,1101.1 L627.1,1101.0 L628.0,1099.6 L628.8,1105.7 L629.7,1100.3 L630.5,1102.6 L631.4,1101.0 L632.3,1100.9 L633.1,1102.2 L634.0,1103.8 L634.8,1099.5 L635.7,1101.2 L636.6,1098.8 L637.4,1103.3 L638.3,1100.1 L639.1,1100.3 L640.0,1103.7 L640.9,1101.9 L641.7,1102.9 L642.6,1101.4 L643.4,1102.7 L644.3,1101.8 L645.2,1098.6 L646.0,1101.6 L646.9,1099.9 L647.7,1099.7 L648.6,1100.7 L649.5,1098.2 L650.3,1096.6 L651.2,1102.2 L652.0,1103.9 L652.9,1098.4 L653.8,1102.5 L654.6,1100.7 L655.5,1098.3 L656.3,1098.1 L657.2,1099.7 L658.1,1099.6 L658.9,1100.1 L659.8,1100.8 L660.6,1098.6 L661.5,1103.8 L662.4,1099.2 L663.2,1099.7 L664.1,1104.7 L664.9,1104.5 L665.8,1106.4 L666.7,1103.3 L667.5,1101.6 L668.4,1105.9 L669.2,1103.0 L670.1,1103.0 L671.0,1101.3 L671.8,1104.3 L672.7,1097.7 L673.5,1104.6 L674.4,1098.6 L675.3,1105.5 L676.1,1099.8 L677.0,1105.4 L677.8,1109.9 L678.7,1103.4 L679.6,1101.4 L680.4,1109.1 L681.3,1103.4 L682.1,1101.7 L683.0,1107.6 L683.9,1097.4 L684.7,1100.7 L685.6,1101.1 L686.4,1102.6 L687.3,1099.2 L688.2,1106.2 L689.0,1106.6 L689.9,1103.8 L690.7,1102.8 L691.6,1099.8 L692.5,1104.7 L693.3,1101.8 L694.2,1105.1 L695.0,1106.2 L695.9,1104.0 L696.8,1098.9 L697.6,1102.0 L698.5,1108.0 L699.3,1105.6 L700.2,1108.7 L701.1,1100.1 L701.9,1105.6 L702.8,1105.7 L703.6,1102.5 L704.5,1105.1 L705.4,1109.1 L706.2,1108.2 L707.1,1105.8 L707.9,1107.9 L708.8,1109.9 L709.7,1104.7 L710.5,1107.9 L711.4,1109.5 L712.2,1105.6 L713.1,1110.1 L714.0,1107.0 L714.8,1109.8 L715.7,1109.5 L716.5,1108.2 L717.4,1107.2 L718.3,1106.7 L719.1,1108.8 L720.0,1109.2 L720.8,1112.0 L721.7,1109.2 L722.6,1110.5 L723.4,1113.5 L724.3,1111.1 L725.1,1111.8 L726.0,1114.5 L726.9,1111.8 L727.7,1112.8 L728.6,1113.9 L729.4,1112.3 L730.3,1110.4 L731.2,1109.8 L732.0,1112.8 L732.9,1115.9 L733.7,1115.8 L734.6,1117.3 L735.5,1115.7 L736.3,1112.1 L737.2,1110.2 L738.0,1112.2 L738.9,1112.7 L739.8,1111.6 L740.6,1115.5 L741.5,1111.6 L742.3,1114.9 L743.2,1115.5 L744.1,1109.9 L744.9,1113.2 L745.8,1117.3 L746.6,1116.5 L747.5,1115.1 L748.4,1112.5 L749.2,1113.7 L750.1,1115.7 L750.9,1118.6 L751.8,1117.1 L752.7,1115.9 L753.5,1116.7 L754.4,1118.0 L755.2,1112.4 L756.1,1114.1 L757.0,1116.3 L757.8,1118.9 L758.7,1118.6 L759.5,1114.5 L760.4,1116.2 L761.3,1114.6 L762.1,1115.5 L763.0,1116.9 L763.8,1116.2 L764.7,1116.3 L765.6,1115.6 L766.4,1115.3 L767.3,1118.9 L768.1,1120.3 L769.0,1121.7 L769.9,1119.1 L770.7,1119.7 L771.6,1124.1 L772.4,1122.5 L773.3,1123.6 L774.2,1120.7 L775.0,1120.5 L775.9,1119.7 L776.7,1124.3 L777.6,1120.0 L778.5,1118.9 L779.3,1121.1 L780.2,1125.5 L781.0,1123.1 L781.9,1123.6 L782.8,1123.5 L783.6,1123.3 L784.5,1123.1 L785.3,1120.7 L786.2,1127.0 L787.1,1123.3 L787.9,1126.2 L788.8,1120.7 L789.6,1125.1 L790.5,1121.8 L791.4,1121.8 L792.2,1125.3 L793.1,1127.2 L793.9,1128.3 L794.8,1128.7 L795.7,1125.9 L796.5,1128.4 L797.4,1126.0 L798.2,1126.5 L799.1,1128.4 L800.0,1128.0 L800.8,1130.3 L801.7,1125.2 L802.5,1131.6 L803.4,1128.4 L804.3,1132.8 L805.1,1132.3 L806.0,1127.7 L806.8,1130.0 L807.7,1131.6 L808.6,1128.5 L809.4,1128.6 L810.3,1129.5 L811.1,1131.7 L812.0,1132.1 L812.9,1129.5 L813.7,1132.3 L814.6,1133.9 L815.4,1133.0 L816.3,1129.9 L817.2,1130.0 L818.0,1132.6 L818.9,1134.0 L819.7,1133.4 L820.6,1131.9 L821.5,1131.0 L822.3,1135.7 L823.2,1132.9 L824.0,1137.2 L824.9,1131.1 L825.8,1132.9 L826.6,1132.5 L827.5,1137.9 L828.3,1136.9 L829.2,1133.8 L830.1,1131.3 L830.9,1137.9 L831.8,1136.2 L832.6,1134.1 L833.5,1133.7 L834.4,1137.7 L835.2,1136.9 L836.1,1137.9 L836.9,1138.6 L837.8,1137.5 L838.7,1138.0 L839.5,1140.0 L840.4,1138.8 L841.2,1138.8 L842.1,1140.8 L843.0,1136.1 L843.8,1142.4 L844.7,1141.2 L845.5,1139.2 L846.4,1140.6 L847.3,1143.6 L848.1,1142.7 L849.0,1138.5 L849.8,1140.2 L850.7,1142.7 L851.6,1146.0 L852.4,1144.1 L853.3,1142.4 L854.1,1144.0 L855.0,1143.1 L855.9,1142.6 L856.7,1144.1 L857.6,1139.3 L858.4,1145.6 L859.3,1144.8 L860.2,1143.0 L861.0,1142.3 L861.9,1141.7 L862.7,1144.7 L863.6,1144.6 L864.5,1144.9 L865.3,1148.1 L866.2,1140.7 L867.0,1143.8 L867.9,1144.0 L868.8,1147.5 L869.6,1145.3 L870.5,1144.1 L871.3,1146.4 L872.2,1146.8 L873.1,1149.3 L873.9,1146.7 L874.8,1145.5 L875.6,1145.6 L876.5,1145.3 L877.4,1148.1 L878.2,1149.1 L879.1,1147.3 L879.9,1147.7 L880.8,1151.0 L881.7,1148.6 L882.5,1149.6 L883.4,1146.6 L884.2,1147.6 L885.1,1144.5 L886.0,1146.0 L886.8,1149.4 L887.7,1151.0 L888.5,1147.9 L889.4,1145.9 L890.3,1148.4 L891.1,1150.4 L892.0,1147.9 L892.8,1150.1 L893.7,1148.3 L894.6,1146.2 L895.4,1147.0 L896.3,1148.5 L897.1,1153.7 L898.0,1150.4 L898.9,1148.9 L899.7,1150.0 L900.6,1149.9 L901.4,1148.7 L902.3,1149.6 L903.2,1149.5 L904.0,1151.6 L904.9,1153.5 L905.7,1153.3 L906.6,1150.3 L907.5,1152.2 L908.3,1149.8 L909.2,1149.1 L910.0,1151.3 L910.9,1152.3 L911.8,1150.9 L912.6,1152.6 L913.5,1152.6 L914.3,1152.5 L915.2,1150.9 L916.1,1148.8 L916.9,1155.1 L917.8,1151.0 L918.6,1153.5 L919.5,1153.3 L920.4,1151.8 L921.2,1156.2 L922.1,1154.1 L922.9,1153.0 L923.8,1152.4 L924.7,1151.6 L925.5,1151.3 L926.4,1155.1 L927.2,1153.5 L928.1,1153.8 L929.0,1155.9 L929.8,1154.4 L930.7,1156.5 L931.5,1154.0 L932.4,1154.2 L933.3,1156.9 L934.1,1153.7 L935.0,1156.3 L935.8,1156.1 L936.7,1155.3 L937.6,1152.2 L938.4,1153.2 L939.3,1154.0 L940.1,1154.0 L941.0,1158.6 L941.9,1155.6 L942.7,1155.1 L943.6,1156.8 L944.4,1157.8 L945.3,1154.7 L946.2,1159.3 L947.0,1159.4 L947.9,1156.7 L948.7,1159.4 L949.6,1154.6 L950.5,1156.4 L951.3,1157.0 L952.2,1157.4 L953.0,1159.5 L953.9,1156.5 L954.8,1155.2 L955.6,1157.6 L956.5,1157.5 L957.3,1158.1 L958.2,1156.6 L959.1,1157.6 L959.9,1156.3 L960.8,1158.6 L961.6,1156.3 L962.5,1156.5 L963.4,1160.0 L964.2,1156.4 L965.1,1157.9 L965.9,1159.1 L966.8,1157.5 L967.7,1160.1 L968.5,1157.4 L969.4,1160.7 L970.2,1155.9 L971.1,1156.4 L972.0,1159.4 L972.8,1162.2 L973.7,1162.6 L974.5,1157.8 L975.4,1159.4 L976.3,1158.5 L977.1,1155.2 L978.0,1160.6 L978.8,1158.4 L979.7,1161.6 L980.6,1159.4 L981.4,1157.7 L982.3,1157.3 L983.1,1158.2 L984.0,1159.5 L984.9,1157.7 L985.7,1164.2 L986.6,1159.3 L987.4,1156.8 L988.3,1159.3 L989.2,1161.5 L990.0,1160.3 L990.9,1158.9 L991.7,1158.2 L992.6,1158.0 L993.5,1157.2 L994.3,1158.5 L995.2,1160.0 L996.0,1158.4 L996.9,1162.7 L997.8,1160.3 L998.6,1158.8 L999.5,1159.7 L1000.3,1162.7 L1001.2,1156.6 L1002.1,1160.4 L1002.9,1165.3 L1003.8,1162.0 L1004.6,1158.3 L1005.5,1160.3 L1006.4,1159.5 L1007.2,1165.3 L1008.1,1158.5 L1008.9,1159.2 L1009.8,1159.0 L1010.7,1156.9 L1011.5,1153.3 L1012.4,1159.4 L1013.2,1161.0 L1014.1,1159.3 L1015.0,1161.2 L1015.8,1161.8 L1016.7,1161.8 L1017.5,1157.2 L1018.4,1163.5 L1019.3,1162.2 L1020.1,1162.1 L1021.0,1160.6 L1021.8,1160.6 L1022.7,1159.6 L1023.6,1161.6 L1024.4,1162.6 L1025.3,1159.7 L1026.1,1162.5 L1027.0,1159.9 L1027.9,1161.8 L1028.7,1160.3 L1029.6,1162.1 L1030.4,1164.1 L1031.3,1160.7 L1032.2,1159.3 L1033.0,1159.4 L1033.9,1161.4 L1034.7,1159.2 L1035.6,1162.1 L1036.5,1160.7 L1037.3,1161.9 L1038.2,1159.0 L1039.0,1158.2 L1039.9,1158.7 L1040.8,1161.0 L1041.6,1158.8 L1042.5,1161.9 L1043.3,1156.6 L1044.2,1159.6 L1045.1,1160.7 L1045.9,1157.6 L1046.8,1160.2 L1047.6,1158.6 L1048.5,1161.6 L1049.4,1161.4 L1050.2,1163.4 L1051.1,1160.4 L1051.9,1158.8 L1052.8,1160.9 L1053.7,1162.2 L1054.5,1162.0 L1055.4,1162.1 L1056.2,1164.0 L1057.1,1160.9 L1058.0,1161.1 L1058.8,1159.9 L1059.7,1160.4 L1060.5,1163.6 L1061.4,1162.2 L1062.3,1156.3 L1063.1,1163.6 L1064.0,1157.1 L1064.8,1159.9 L1065.7,1162.3 L1066.6,1160.4 L1067.4,1160.9 L1068.3,1161.4 L1069.1,1160.1 L1070.0,1156.9 L1070.9,1160.1 L1071.7,1158.1 L1072.6,1154.7 L1073.4,1159.0 L1074.3,1160.7 L1075.2,1160.0 L1076.0,1159.8 L1076.9,1163.4 L1077.7,1160.7 L1078.6,1162.1 L1079.5,1161.2 L1080.3,1164.0 L1081.2,1160.2 L1082.0,1163.4 L1082.9,1164.7 L1083.8,1160.4 L1084.6,1163.1 L1085.5,1158.2 L1086.3,1161.4 L1087.2,1162.1 L1088.1,1158.7 L1088.9,1156.6 L1089.8,1160.1 L1090.6,1159.2 L1091.5,1160.2 L1092.4,1160.4 L1093.2,1161.6 L1094.1,1163.2 L1094.9,1161.2 L1095.8,1157.6 L1096.7,1162.3 L1097.5,1162.1 L1098.4,1161.9 L1099.2,1164.9 L1100.1,1162.4 L1101.0,1161.2 L1101.8,1162.7 L1102.7,1158.4 L1103.5,1163.2 L1104.4,1161.2 L1105.3,1164.1 L1106.1,1161.9 L1107.0,1161.2 L1107.8,1160.8 L1108.7,1158.2 L1109.6,1160.5 L1110.4,1161.5 L1111.3,1163.0 L1112.1,1162.1 L1113.0,1162.7 L1113.9,1162.8 L1114.7,1160.5 L1115.6,1162.3 L1116.4,1161.4 L1117.3,1159.5 L1118.2,1159.3 L1119.0,1164.2 L1119.9,1165.7 L1120.7,1165.9 L1121.6,1161.6 L1122.5,1166.3 L1123.3,1166.4 L1124.2,1161.7 L1125.0,1164.0 L1125.9,1166.2 L1126.8,1162.8 L1127.6,1164.7 L1128.5,1160.9 L1129.3,1161.2 L1130.2,1163.4 L1131.1,1161.1 L1131.9,1161.5 L1132.8,1161.3 L1133.6,1159.1 L1134.5,1164.0 L1135.4,1160.9 L1136.2,1160.6 L1137.1,1160.5 L1137.9,1161.6 L1138.8,1159.8 L1139.7,1163.5 L1140.5,1161.3 L1141.4,1163.6 L1142.2,1160.4 L1143.1,1160.1 L1144.0,1160.3 L1144.8,1162.5 L1145.7,1159.4 L1146.5,1163.6 L1147.4,1161.2 L1148.3,1163.5 L1149.1,1160.9 L1150.0,1163.2 L1150.8,1159.4 L1151.7,1159.1 L1152.6,1162.3 L1153.4,1159.9 L1154.3,1162.9 L1155.1,1159.3 L1156.0,1161.6 L1156.9,1159.0 L1157.7,1157.3 L1158.6,1163.7 L1159.4,1160.6 L1160.3,1163.2 L1161.2,1161.8 L1162.0,1158.3 L1162.9,1162.6 L1163.7,1164.0 L1164.6,1164.5 L1165.5,1165.3 L1166.3,1162.8 L1167.2,1161.8 L1168.0,1162.1 L1168.9,1159.5 L1169.8,1163.0 L1170.6,1162.8 L1171.5,1161.8 L1172.3,1159.4 L1173.2,1162.0 L1174.1,1159.4 L1174.9,1162.9 L1175.8,1159.1 L1176.6,1159.3 L1177.5,1159.7 L1178.4,1158.3 L1179.2,1158.6 L1180.1,1159.9 L1180.9,1155.7 L1181.8,1164.7 L1182.7,1161.5 L1183.5,1161.5 L1184.4,1159.3 L1185.2,1161.5 L1186.1,1161.2 L1187.0,1161.5 L1187.8,1158.4 L1188.7,1161.1 L1189.5,1157.6 L1190.4,1160.9 L1191.3,1159.4 L1192.1,1159.8 L1193.0,1160.2 L1193.8,1162.3 L1194.7,1162.9 L1195.6,1160.3 L1196.4,1158.0 L1197.3,1162.9 L1198.1,1157.0 L1199.0,1158.6 L1199.9,1159.1 L1200.7,1158.0 L1201.6,1162.1 L1202.4,1160.3 L1203.3,1161.7 L1204.2,1159.2 L1205.0,1161.8 L1205.9,1160.0 L1206.7,1160.3 L1207.6,1161.5 L1208.5,1161.9 L1209.3,1162.5 L1210.2,1161.0 L1211.0,1158.5 L1211.9,1160.8 L1212.8,1156.0 L1213.6,1160.6 L1214.5,1159.5 L1215.3,1162.6 L1216.2,1155.5 L1217.1,1164.8 L1217.9,1160.2 L1218.8,1157.8 L1219.6,1161.9 L1220.5,1162.2 L1221.4,1162.2 L1222.2,1165.7 L1223.1,1159.7 L1223.9,1161.8 L1224.8,1161.4 L1225.7,1159.5 L1226.5,1161.2 L1227.4,1162.9 L1228.2,1158.5 L1229.1,1160.9 L1230.0,1162.0 L1230.8,1161.3 L1231.7,1157.0 L1232.5,1160.8 L1233.4,1159.7 L1234.3,1163.1 L1235.1,1160.7 L1236.0,1165.0 L1236.8,1159.0 L1237.7,1162.6 L1238.6,1160.1 L1239.4,1165.4 L1240.3,1165.1 L1241.1,1160.4 L1242.0,1163.7 L1242.9,1162.2 L1243.7,1159.2 L1244.6,1160.3 L1245.4,1162.4 L1246.3,1163.2 L1247.2,1161.4 L1248.0,1162.6 L1248.9,1162.5 L1249.7,1162.4 L1250.6,1159.5 L1251.5,1161.9 L1252.3,1162.5 L1253.2,1158.6 L1254.0,1164.3 L1254.9,1164.0 L1255.8,1161.5 L1256.6,1165.2 L1257.5,1159.8 L1258.3,1159.7 L1259.2,1160.6 L1260.1,1160.8 L1260.9,1166.1 L1261.8,1163.1 L1262.6,1163.3 L1263.5,1164.5 L1264.4,1167.1 L1265.2,1164.6 L1266.1,1163.6 L1266.9,1164.8 L1267.8,1166.6 L1268.7,1163.7 L1269.5,1166.7 L1270.4,1164.5 L1271.2,1163.6 L1272.1,1164.9 L1273.0,1167.8 L1273.8,1163.8 L1274.7,1167.1 L1275.5,1165.9 L1276.4,1165.4 L1277.3,1165.5 L1278.1,1167.2 L1279.0,1166.9 L1279.8,1166.6 L1280.7,1167.1 L1281.6,1164.2 L1282.4,1164.6 L1283.3,1163.8 L1284.1,1164.9 L1285.0,1165.0 L1285.9,1164.6 L1286.7,1166.2 L1287.6,1163.3 L1288.4,1164.6 L1289.3,1166.7 L1290.2,1168.3 L1291.0,1165.4 L1291.9,1167.6 L1292.7,1168.0 L1293.6,1163.5 L1294.5,1165.8 L1295.3,1163.4 L1296.2,1164.5 L1297.0,1165.9 L1297.9,1162.7 L1298.8,1166.0 L1299.6,1164.8 L1300.5,1164.7 L1301.3,1166.2 L1302.2,1163.8 L1303.1,1162.4 L1303.9,1165.8 L1304.8,1164.5 L1305.6,1165.7 L1306.5,1164.1 L1307.4,1164.5 L1308.2,1164.4 L1309.1,1164.0 L1309.9,1164.8 L1310.8,1164.9 L1311.7,1166.3 L1312.5,1172.0 L1313.4,1164.9 L1314.2,1163.0 L1315.1,1166.9 L1316.0,1163.5 L1316.8,1164.2 L1317.7,1165.3 L1318.5,1166.1 L1319.4,1166.3 L1320.3,1166.8 L1321.1,1166.3 L1322.0,1168.7 L1322.8,1168.2 L1323.7,1165.7 L1324.6,1166.2 L1325.4,1163.9 L1326.3,1167.4 L1327.1,1165.5 L1328.0,1169.1 L1328.9,1164.1 L1329.7,1168.0 L1330.6,1163.4 L1331.4,1162.0 L1332.3,1163.5 L1333.2,1165.8 L1334.0,1167.2 L1334.9,1163.9 L1335.7,1167.4 L1336.6,1164.7 L1337.5,1164.7 L1338.3,1165.1 L1339.2,1168.7 L1340.0,1166.1 L1340.9,1166.4 L1341.8,1163.2 L1342.6,1166.5 L1343.5,1167.0 L1344.3,1169.7 L1345.2,1165.3 L1346.1,1165.8 L1346.9,1165.6 L1347.8,1166.2 L1348.6,1168.7 L1349.5,1166.2 L1350.4,1170.1 L1351.2,1167.9 L1352.1,1166.2 L1352.9,1166.7 L1353.8,1165.3 L1354.7,1165.1 L1355.5,1169.7 L1356.4,1169.2 L1357.2,1165.8 L1358.1,1166.8 L1359.0,1170.7 L1359.8,1166.6 L1360.7,1168.5 L1361.5,1169.3 L1362.4,1168.2 L1363.3,1168.3 L1364.1,1168.1 L1365.0,1169.0 L1365.8,1165.9 L1366.7,1168.8 L1367.6,1168.9 L1368.4,1166.1 L1369.3,1169.1 L1370.1,1166.5 L1371.0,1163.2 L1371.9,1164.3 L1372.7,1167.9 L1373.6,1168.7 L1374.4,1166.8 L1375.3,1164.9 L1376.2,1167.3 L1377.0,1169.3 L1377.9,1167.6 L1378.7,1165.1 L1379.6,1168.7 L1380.5,1167.7 L1381.3,1167.8 L1382.2,1168.4 L1383.0,1169.4 L1383.9,1168.3 L1384.8,1166.9 L1385.6,1168.4 L1386.5,1168.9 L1387.3,1170.7 L1388.2,1166.3 L1389.1,1168.2 L1389.9,1166.8 L1390.8,1168.8 L1391.6,1167.4 L1392.5,1162.9 L1393.4,1170.2 L1394.2,1167.4 L1395.1,1166.7 L1395.9,1166.0 L1396.8,1166.8 L1397.7,1166.3 L1398.5,1168.4 L1399.4,1168.8 L1400.2,1168.3 L1401.1,1169.1 L1402.0,1166.9 L1402.8,1169.5 L1403.7,1168.3 L1404.5,1169.4 L1405.4,1169.9 L1406.3,1168.3 L1407.1,1171.4 L1408.0,1170.7 L1408.8,1168.6 L1409.7,1172.5 L1410.6,1172.3 L1411.4,1166.5 L1412.3,1165.1 L1413.1,1168.0 L1414.0,1169.9 L1414.9,1170.7 L1415.7,1170.2 L1416.6,1168.9 L1417.4,1170.7 L1418.3,1170.2 L1419.2,1168.0 L1420.0,1169.1 L1420.9,1170.5 L1421.7,1167.4 L1422.6,1167.4 L1423.5,1167.0 L1424.3,1171.1 L1425.2,1169.7 L1426.0,1170.1 L1426.9,1167.9 L1427.8,1168.6 L1428.6,1170.8 L1429.5,1168.1 L1430.3,1170.7 L1431.2,1168.5 L1432.1,1168.5 L1432.9,1169.6 L1433.8,1170.2 L1434.6,1171.9 L1435.5,1168.3 L1436.4,1172.1 L1437.2,1167.9 L1438.1,1167.9 L1438.9,1165.6 L1439.8,1171.2 L1440.7,1172.4 L1441.5,1167.7 L1442.4,1169.3 L1443.2,1169.5 L1444.1,1167.3 L1445.0,1170.3 L1445.8,1170.8 L1446.7,1169.5 L1447.5,1168.7 L1448.4,1170.9 L1449.3,1171.8 L1450.1,1168.3 L1451.0,1170.7 L1451.8,1171.9 L1452.7,1165.9 L1453.6,1171.3 L1454.4,1173.7 L1455.3,1168.3 L1456.1,1172.8 L1457.0,1169.9 L1457.9,1171.4 L1458.7,1170.0 L1459.6,1168.2 L1460.4,1167.2 L1461.3,1174.4 L1462.2,1167.8 L1463.0,1169.6 L1463.9,1172.6 L1464.7,1170.6 L1465.6,1170.4 L1466.5,1166.6 L1467.3,1169.1 L1468.2,1167.9 L1469.0,1167.2 L1469.9,1171.1 L1470.8,1172.0 L1471.6,1169.2 L1472.5,1169.5 L1473.3,1171.4 L1474.2,1172.1 L1475.1,1168.7 L1475.9,1172.6 L1476.8,1172.1 L1477.6,1170.5 L1478.5,1168.6 L1479.4,1171.7 L1480.2,1172.0 L1481.1,1174.1 L1481.9,1170.1 L1482.8,1174.0 L1483.7,1170.7 L1484.5,1172.4 L1485.4,1171.3 L1486.2,1171.6 L1487.1,1174.0 L1488.0,1170.2 L1488.8,1172.8 L1489.7,1170.8 L1490.5,1171.1 L1491.4,1169.8 L1492.3,1171.4 L1493.1,1167.5 L1494.0,1170.5 L1494.8,1172.7 L1495.7,1172.4 L1496.6,1168.2 L1497.4,1169.1 L1498.3,1170.4 L1499.1,1174.5 L1500.0,1170.6 L1500.9,1171.4 L1501.7,1171.1 L1502.6,1172.2 L1503.4,1170.2 L1504.3,1172.3 L1505.2,1172.8 L1506.0,1173.8 L1506.9,1170.5 L1507.7,1173.7 L1508.6,1175.5 L1509.5,1173.5 L1510.3,1173.4 L1511.2,1167.9 L1512.0,1174.5 L1512.9,1175.6 L1513.8,1174.4 L1514.6,1173.3 L1515.5,1173.9 L1516.3,1177.8 L1517.2,1171.3 L1518.1,1171.9 L1518.9,1174.5 L1519.8,1172.9 L1520.6,1168.6 L1521.5,1172.6 L1522.4,1172.6 L1523.2,1170.2 L1524.1,1172.4 L1524.9,1172.0 L1525.8,1168.4 L1526.7,1172.5 L1527.5,1175.5 L1528.4,1174.9 L1529.2,1170.0 L1530.1,1169.8 L1531.0,1172.3 L1531.8,1172.7 L1532.7,1169.9 L1533.5,1170.9 L1534.4,1174.5 L1535.3,1172.4 L1536.1,1173.7 L1537.0,1171.9 L1537.8,1173.7" fill="none" stroke="#fa6464" stroke-width="5.6" stroke-linejoin="round" stroke-linecap="butt"/>
</g>
<g id="markers" shape-rendering="crispEdges">
<line x1="461.5" y1="357" x2="461.5" y2="1220" stroke="#ff8000" stroke-width="7" stroke-dasharray="33 28.35"/>
<line x1="538" y1="72" x2="538" y2="1209" stroke="#ff8000" stroke-width="6" stroke-dasharray="33 28.35"/>
<line x1="640.5" y1="352.3" x2="640.5" y2="1215.8" stroke="#ff8000" stroke-width="7" stroke-dasharray="33 28.35"/>
<line x1="781.5" y1="347" x2="781.5" y2="1210" stroke="#ff8000" stroke-width="7" stroke-dasharray="33 28.35"/>
</g>
<g id="axes" shape-rendering="crispEdges">
<rect x="34" y="21" width="1509" height="5" fill="#000"/>
<rect x="34" y="1232" width="1509" height="6" fill="#000"/>
<rect x="34" y="21" width="5" height="1217" fill="#000"/>
<rect x="1538" y="21" width="5" height="1217" fill="#000"/>
<rect x="34" y="1235" width="5" height="24" fill="#000"/>
<rect x="142" y="1235" width="5" height="12" fill="#000"/>
<rect x="249" y="1235" width="5" height="24" fill="#000"/>
<rect x="357" y="1235" width="5" height="12" fill="#000"/>
<rect x="464" y="1235" width="5" height="24" fill="#000"/>
<rect x="572" y="1235" width="5" height="12" fill="#000"/>
<rect x="679" y="1235" width="5" height="24" fill="#000"/>
<rect x="787" y="1235" width="5" height="12" fill="#000"/>
<rect x="894" y="1235" width="5" height="24" fill="#000"/>
<rect x="1001" y="1235" width="5" height="12" fill="#000"/>
<rect x="1109" y="1235" width="5" height="24" fill="#000"/>
<rect x="1216" y="1235" width="5" height="12" fill="#000"/>
<rect x="1324" y="1235" width="5" height="24" fill="#000"/>
<rect x="1431" y="1235" width="5" height="12" fill="#000"/>
<rect x="1538" y="1235" width="5" height="24" fill="#000"/>
</g>
<g id="ticklabels">
<g transform="translate(36.5,1325.4) scale(1,1.04)"><text text-anchor="middle" font-size="63.5">5</text></g>
<g transform="translate(251.4,1325.4) scale(1,1.04)"><text text-anchor="middle" font-size="63.5">10</text><rect x="-31.98" y="-6.24" width="12.41" height="7.74" fill="#fff"/><rect x="-13.51" y="-6.24" width="11.91" height="7.74" fill="#fff"/></g>
<g transform="translate(466.2,1325.4) scale(1,1.04)"><text text-anchor="middle" font-size="63.5">15</text><rect x="-31.98" y="-6.24" width="12.41" height="7.74" fill="#fff"/><rect x="-13.51" y="-6.24" width="11.91" height="7.74" fill="#fff"/></g>
<g transform="translate(681.1,1325.4) scale(1,1.04)"><text text-anchor="middle" font-size="63.5">20</text></g>
<g transform="translate(895.9,1325.4) scale(1,1.04)"><text text-anchor="middle" font-size="63.5">25</text></g>
<g transform="translate(1110.8,1325.4) scale(1,1.04)"><text text-anchor="middle" font-size="63.5">30</text></g>
<g transform="translate(1325.6,1325.4) scale(1,1.04)"><text text-anchor="middle" font-size="63.5">35</text></g>
<g transform="translate(1540.5,1325.4) scale(1,1.04)"><text text-anchor="middle" font-size="63.5">40</text></g>
</g>
<text transform="translate(788.5,1400.4) scale(1,1.04)" text-anchor="middle" font-size="63">2θ (°)</text>
<g id="serieslabels">
<text transform="translate(1521,531.5) scale(1,1.04)" text-anchor="end" font-size="57">Neat PLA</text>
<text transform="translate(1515.7,656.5) scale(1,1.04)" text-anchor="end" font-size="57">PLA/DOTP</text>
<text transform="translate(1524.5,785.75) scale(1,1.04)" text-anchor="end" font-size="57">PLA/HDA-2</text>
<text transform="translate(1525.75,898.25) scale(1,1.04)" text-anchor="end" font-size="57">PLA/HDA-4</text>
<text transform="translate(1523.5,1018.25) scale(1,1.04)" text-anchor="end" font-size="57">PLA/HDA-6</text>
<text transform="translate(1528,1148.75) scale(1,1.04)" text-anchor="end" font-size="57">PLA/HDA-8</text>
</g>
<g id="peaklabels">
<g transform="translate(381.9,113.0) scale(1,1.04)"><text font-size="50.6">16.65</text><rect x="2.35" y="-5.28" width="10.14" height="6.78" fill="#fff"/><rect x="17.42" y="-5.28" width="9.75" height="6.78" fill="#fff"/></g>
<g transform="translate(590.9,329.2) scale(1,1.04)"><text font-size="50.6">19.07</text><rect x="2.35" y="-5.28" width="10.14" height="6.78" fill="#fff"/><rect x="17.42" y="-5.28" width="9.75" height="6.78" fill="#fff"/></g>
<g transform="translate(804.5,363.1) scale(1,1.04)"><text font-size="50.6">22.34</text></g>
<g transform="translate(310.2,435.1) scale(1,1.04)"><text font-size="50.6">14.87</text><rect x="2.35" y="-5.28" width="10.14" height="6.78" fill="#fff"/><rect x="17.42" y="-5.28" width="9.75" height="6.78" fill="#fff"/></g>
</g>
</svg>
</body></html>
